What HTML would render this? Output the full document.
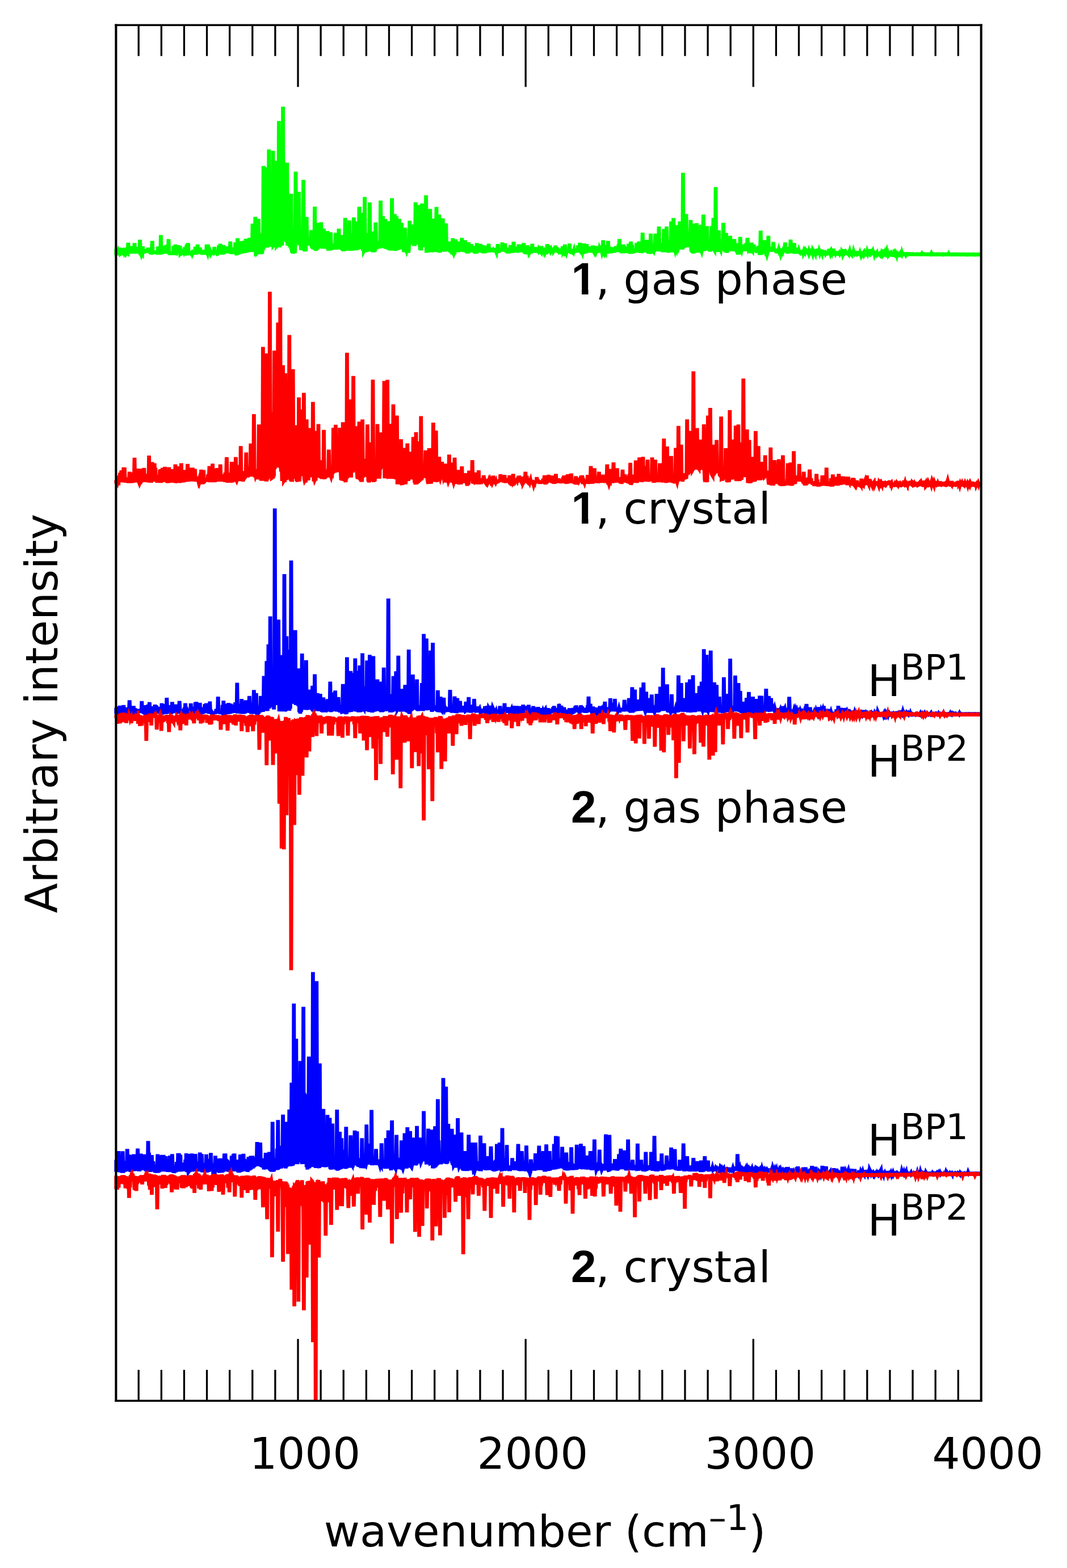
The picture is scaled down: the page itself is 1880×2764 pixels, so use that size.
<!DOCTYPE html>
<html lang="en">
<head>
<meta charset="utf-8">
<title>Vibrational spectra</title>
<style>
html,body{margin:0;padding:0;background:#fff;}
body{width:1880px;height:2764px;overflow:hidden;}
svg{display:block;}
text{font-family:"DejaVu Sans","Liberation Sans",sans-serif;fill:#000;}
.b{font-family:"Liberation Sans","DejaVu Sans",sans-serif;font-weight:bold;font-size:80px;}
</style>
</head>
<body>
<svg width="1880" height="2764" viewBox="0 0 1880 2764" role="img" aria-label="Vibrational spectra of 1 and 2 in gas phase and crystal">
<rect width="1880" height="2764" fill="#fff"/>
<g id="spectra">
<defs><clipPath id="plot"><rect x="201.4" y="44.2" width="1527.4" height="2425"/></clipPath></defs>
<g clip-path="url(#plot)" fill="none" stroke-width="6.8" stroke-linejoin="miter" stroke-miterlimit="4" stroke-linecap="butt">
<path id="s1" d="M202.6 442.8L203.4 445.0L204.2 442.0L205.0 444.7L205.8 444.3L206.6 445.8L207.4 446.5L208.2 446.0L209.0 442.6L209.8 444.3L210.6 442.1L211.4 437.3L212.2 439.7L213.0 446.1L213.8 445.3L214.6 444.8L215.4 437.6L216.2 446.5L217.0 446.9L217.8 438.7L218.6 446.5L219.4 436.8L220.2 445.1L221.0 443.9L221.8 446.4L222.6 444.8L223.4 443.1L224.2 446.6L225.0 447.1L225.8 427.9L226.6 445.4L227.4 439.6L228.2 446.7L229.0 439.7L229.8 447.1L230.6 436.3L231.4 446.6L232.2 434.3L233.0 446.4L233.8 434.0L234.6 446.3L235.4 440.4L236.2 446.9L237.0 428.4L237.8 447.1L238.6 437.1L239.4 446.3L240.2 435.6L241.0 445.9L241.8 442.1L242.6 446.0L243.4 440.6L244.2 446.4L245.0 443.0L245.8 446.4L246.6 422.5L247.4 446.5L248.2 446.5L249.0 448.8L249.8 446.5L250.6 447.6L251.4 434.2L252.2 446.9L253.0 438.9L253.8 446.3L254.6 438.9L255.4 445.5L256.2 441.8L257.0 445.0L257.8 439.3L258.6 445.3L259.4 441.4L260.2 444.7L261.0 436.7L261.8 445.1L262.6 441.0L263.4 446.0L264.2 442.8L265.0 447.0L265.8 440.9L266.6 448.4L267.4 444.9L268.2 424.6L269.0 444.4L269.8 447.5L270.6 443.4L271.4 446.3L272.2 442.1L273.0 446.5L273.8 443.1L274.6 446.7L275.4 442.7L276.2 447.4L277.0 444.6L277.8 448.2L278.6 434.6L279.4 448.9L280.2 434.5L281.0 448.4L281.8 445.3L282.6 447.9L283.4 414.4L284.2 447.8L285.0 444.8L285.8 447.3L286.6 433.7L287.4 447.2L288.2 434.0L289.0 446.4L289.8 439.5L290.6 446.7L291.4 438.2L292.2 446.5L293.0 431.8L293.8 446.9L294.6 437.0L295.4 447.1L296.2 439.7L297.0 421.5L297.8 443.9L298.6 448.6L299.4 445.2L300.2 449.4L301.0 445.0L301.8 449.4L302.6 445.5L303.4 449.0L304.2 445.5L305.0 448.8L305.8 433.4L306.6 448.5L307.4 438.3L308.2 448.3L309.0 430.9L309.8 446.8L310.6 446.9L311.4 440.5L312.2 432.5L313.0 447.3L313.8 432.6L314.6 443.6L315.4 446.4L316.2 442.4L317.0 433.2L317.8 447.3L318.6 446.5L319.4 447.2L320.2 446.5L321.0 445.5L321.8 446.0L322.6 446.0L323.4 443.5L324.2 445.3L325.0 443.6L325.8 441.5L326.6 446.8L327.4 447.3L328.2 446.5L329.0 446.6L329.8 446.7L330.6 442.0L331.4 428.4L332.2 448.1L333.0 444.9L333.8 448.9L334.6 444.6L335.4 447.7L336.2 443.3L337.0 445.9L337.8 445.1L338.6 447.3L339.4 445.1L340.2 445.4L341.0 442.6L341.8 446.6L342.6 443.5L343.4 448.1L344.2 434.9L345.0 448.9L345.8 434.8L346.6 448.2L347.4 442.8L348.2 430.9L349.0 443.0L349.8 446.3L350.6 442.7L351.4 446.2L352.2 436.2L353.0 446.8L353.8 443.7L354.6 447.8L355.4 444.7L356.2 448.6L357.0 445.0L357.8 448.7L358.6 440.5L359.4 448.6L360.2 444.3L361.0 448.7L361.8 441.2L362.6 448.5L363.4 444.6L364.2 430.9L365.0 444.9L365.8 447.0L366.6 443.3L367.4 447.0L368.2 440.8L369.0 447.1L369.8 441.8L370.6 443.8L371.4 447.1L372.2 445.7L373.0 444.4L373.8 444.2L374.6 445.5L375.4 446.5L376.2 446.8L377.0 445.7L377.8 435.2L378.6 447.4L379.4 441.6L380.2 445.2L381.0 440.9L381.8 444.8L382.6 447.2L383.4 446.8L384.2 444.8L385.0 441.2L385.8 432.4L386.6 443.6L387.4 442.7L388.2 429.6L389.0 441.8L389.8 447.9L390.6 437.3L391.4 449.1L392.2 437.9L393.0 448.4L393.8 432.1L394.6 447.5L395.4 441.1L396.2 446.8L397.0 434.7L397.8 445.6L398.6 436.5L399.4 444.9L400.2 434.4L401.0 444.8L401.8 435.4L402.6 446.1L403.4 434.8L404.2 446.7L405.0 440.8L405.8 425.8L406.6 441.0L407.4 447.4L408.2 444.0L409.0 447.0L409.8 437.0L410.6 445.8L411.4 436.6L412.2 445.2L413.0 441.5L413.8 446.4L414.6 427.4L415.4 448.1L416.2 445.7L417.0 449.9L417.8 440.8L418.6 420.0L419.4 440.2L420.2 448.3L421.0 441.1L421.8 447.4L422.6 427.0L423.4 446.9L424.2 429.3L425.0 446.9L425.8 425.0L426.6 446.8L427.4 440.8L428.2 445.3L429.0 424.6L429.8 445.2L430.6 428.6L431.4 445.9L432.2 438.6L433.0 420.8L433.8 440.8L434.6 444.9L435.4 440.7L436.2 443.4L437.0 438.0L437.8 443.3L438.6 436.8L439.4 419.5L440.2 436.8L441.0 443.8L441.8 425.3L442.6 442.5L443.4 433.8L444.2 443.9L445.0 394.2L445.8 442.3L446.6 419.4L447.4 443.7L448.2 430.3L449.0 443.4L449.8 382.3L450.6 442.6L451.4 441.4L452.2 445.8L453.0 444.7L453.8 448.0L454.6 435.3L455.4 385.9L456.2 432.1L457.0 447.9L457.8 411.4L458.6 448.2L459.4 426.9L460.2 447.0L461.0 444.4L461.8 447.1L462.6 415.2L463.4 435.7L464.2 292.5L465.0 430.4L465.8 433.2L466.6 431.2L467.4 388.4L468.2 434.5L469.0 294.8L469.8 432.5L470.6 428.6L471.4 436.3L472.2 386.2L473.0 434.1L473.8 263.4L474.6 430.9L475.4 424.6L476.2 434.5L477.0 368.7L477.8 435.3L478.6 367.6L479.4 429.1L480.2 425.5L481.0 265.7L481.8 432.8L482.6 431.9L483.4 416.8L484.2 429.6L485.0 424.7L485.8 283.6L486.6 403.3L487.4 433.4L488.2 432.4L489.0 430.7L489.8 406.5L490.6 434.1L491.4 213.3L492.2 436.1L493.0 413.3L493.8 434.4L494.6 415.5L495.4 428.6L496.2 430.4L497.0 432.5L497.8 359.6L498.6 188.0L499.4 386.4L500.2 420.3L501.0 416.3L501.8 420.4L502.6 372.1L503.4 421.1L504.2 424.3L505.0 424.9L505.8 286.7L506.6 433.1L507.4 428.1L508.2 429.4L509.0 423.1L509.8 425.5L510.6 424.3L511.4 427.3L512.2 400.7L513.0 341.6L513.8 440.1L514.6 444.9L515.4 418.7L516.2 447.2L517.0 437.9L517.8 445.0L518.6 433.8L519.4 446.2L520.2 432.1L521.0 302.4L521.8 422.5L522.6 426.5L523.4 388.2L524.2 425.7L525.0 422.5L525.8 429.2L526.6 338.0L527.4 432.3L528.2 426.5L529.0 429.6L529.8 430.6L530.6 440.8L531.4 432.4L532.2 438.0L533.0 430.6L533.8 439.6L534.6 317.0L535.4 441.5L536.2 438.2L537.0 442.9L537.8 430.0L538.6 443.2L539.4 425.1L540.2 382.3L541.0 425.2L541.8 432.6L542.6 424.9L543.4 431.8L544.2 425.2L545.0 430.3L545.8 427.2L546.6 430.4L547.4 431.1L548.2 405.6L549.0 429.3L549.8 437.5L550.6 431.4L551.4 438.9L552.2 434.4L553.0 439.6L553.8 436.5L554.6 364.4L555.4 434.6L556.2 441.9L557.0 436.4L557.8 440.3L558.6 437.4L559.4 439.6L560.2 392.9L561.0 436.8L561.8 417.0L562.6 436.2L563.4 431.8L564.2 437.5L565.0 427.5L565.8 391.7L566.6 430.5L567.4 436.9L568.2 434.0L569.0 437.8L569.8 434.3L570.6 403.1L571.4 429.5L572.2 438.0L573.0 434.5L573.8 437.4L574.6 428.1L575.4 438.0L576.2 432.7L577.0 407.4L577.8 438.1L578.6 441.2L579.4 437.5L580.2 441.0L581.0 436.8L581.8 441.1L582.6 409.4L583.4 440.7L584.2 433.0L585.0 439.6L585.8 436.1L586.6 439.2L587.4 429.3L588.2 439.1L589.0 435.8L589.8 439.4L590.6 436.3L591.4 410.7L592.2 432.6L593.0 439.8L593.8 434.2L594.6 437.3L595.4 434.1L596.2 437.8L597.0 403.1L597.8 437.9L598.6 434.7L599.4 438.4L600.2 429.2L601.0 439.4L601.8 432.4L602.6 440.6L603.4 414.4L604.2 442.4L605.0 438.0L605.8 442.8L606.6 432.7L607.4 442.2L608.2 384.1L609.0 441.5L609.8 430.4L610.6 439.6L611.4 434.6L612.2 441.1L613.0 431.4L613.8 441.5L614.6 439.1L615.4 388.6L616.2 438.4L617.0 440.0L617.8 417.1L618.6 441.5L619.4 414.7L620.2 441.7L621.0 430.5L621.8 440.3L622.6 426.2L623.4 383.3L624.2 433.0L625.0 440.1L625.8 437.7L626.6 441.0L627.4 429.1L628.2 390.4L629.0 431.4L629.8 440.6L630.6 427.1L631.4 438.4L632.2 428.4L633.0 364.6L633.8 428.7L634.6 439.0L635.4 419.1L636.2 439.0L637.0 429.9L637.8 375.2L638.6 424.7L639.4 442.0L640.2 430.1L641.0 442.3L641.8 440.7L642.6 347.4L643.4 429.7L644.2 444.5L645.0 432.6L645.8 439.9L646.6 437.9L647.4 443.6L648.2 419.4L649.0 442.1L649.8 411.2L650.6 441.7L651.4 356.8L652.2 441.3L653.0 422.3L653.8 440.7L654.6 437.3L655.4 443.2L656.2 408.1L657.0 444.6L657.8 435.0L658.6 444.3L659.4 440.8L660.2 443.3L661.0 439.1L661.8 392.2L662.6 426.5L663.4 439.4L664.2 430.0L665.0 437.9L665.8 426.2L666.6 437.0L667.4 425.2L668.2 437.7L669.0 433.1L669.8 435.7L670.6 353.5L671.4 436.5L672.2 429.0L673.0 436.5L673.8 432.1L674.6 380.8L675.4 421.4L676.2 437.4L677.0 423.4L677.8 437.0L678.6 386.1L679.4 438.7L680.2 419.0L681.0 438.4L681.8 434.7L682.6 438.2L683.4 389.9L684.2 440.4L685.0 434.4L685.8 440.1L686.6 435.7L687.4 441.3L688.2 429.2L689.0 441.1L689.8 429.7L690.6 349.4L691.4 425.2L692.2 441.5L693.0 434.9L693.8 441.7L694.6 426.9L695.4 377.3L696.2 435.6L697.0 441.8L697.8 438.6L698.6 381.1L699.4 433.6L700.2 440.7L701.0 433.6L701.8 439.9L702.6 426.3L703.4 385.9L704.2 431.0L705.0 439.3L705.8 434.1L706.6 434.1L707.4 392.9L708.2 430.3L709.0 420.9L709.8 427.2L710.6 430.6L711.4 444.0L712.2 440.3L713.0 443.9L713.8 401.3L714.6 444.1L715.4 440.5L716.2 442.6L717.0 439.5L717.8 443.9L718.6 438.8L719.4 445.0L720.2 442.0L721.0 424.8L721.8 389.1L722.6 422.1L723.4 414.4L724.2 422.9L725.0 419.6L725.8 423.7L726.6 395.5L727.4 430.3L728.2 428.5L729.0 432.7L729.8 427.2L730.6 433.4L731.4 423.0L732.2 356.5L733.0 414.5L733.8 430.8L734.6 407.4L735.4 430.2L736.2 409.9L737.0 361.3L737.8 409.8L738.6 430.1L739.4 427.4L740.2 440.4L741.0 434.5L741.8 441.3L742.6 429.5L743.4 358.8L744.2 425.2L745.0 431.8L745.8 394.7L746.6 434.6L747.4 422.8L748.2 435.4L749.0 429.4L749.8 435.4L750.6 344.4L751.4 445.5L752.2 426.3L753.0 445.2L753.8 422.0L754.6 444.6L755.4 435.5L756.2 443.2L757.0 421.6L757.8 368.4L758.6 435.6L759.4 444.1L760.2 426.6L761.0 444.4L761.8 439.1L762.6 443.9L763.4 440.1L764.2 385.4L765.0 438.5L765.8 443.0L766.6 435.0L767.4 443.4L768.2 426.4L769.0 364.9L769.8 431.1L770.6 444.2L771.4 434.9L772.2 444.4L773.0 437.7L773.8 378.3L774.6 441.6L775.4 445.0L776.2 432.1L777.0 442.9L777.8 431.1L778.6 443.1L779.4 432.3L780.2 384.8L781.0 432.6L781.8 441.7L782.6 430.7L783.4 443.6L784.2 430.7L785.0 441.9L785.8 393.7L786.6 442.7L787.4 438.7L788.2 442.2L789.0 438.2L789.8 442.4L790.6 439.0L791.4 425.8L792.2 438.6L793.0 444.3L793.8 441.0L794.6 445.4L795.4 440.9L796.2 445.4L797.0 445.4L797.8 419.8L798.6 445.4L799.4 447.3L800.2 445.1L801.0 445.1L801.8 437.8L802.6 422.0L803.4 436.5L804.2 442.7L805.0 434.3L805.8 443.2L806.6 437.0L807.4 444.3L808.2 438.9L809.0 425.8L809.8 440.3L810.6 443.6L811.4 433.3L812.2 441.9L813.0 437.7L813.8 419.5L814.6 438.0L815.4 442.7L816.2 435.5L817.0 444.0L817.8 433.7L818.6 443.8L819.4 423.3L820.2 444.3L821.0 432.7L821.8 445.4L822.6 434.7L823.4 446.7L824.2 441.7L825.0 446.5L825.8 427.1L826.6 445.4L827.4 431.1L828.2 444.8L829.0 434.7L829.8 444.5L830.6 430.5L831.4 444.0L832.2 434.0L833.0 443.7L833.8 436.0L834.6 443.9L835.4 441.4L836.2 446.0L837.0 442.4L837.8 447.1L838.6 433.5L839.4 447.0L840.2 428.4L841.0 445.7L841.8 431.3L842.6 444.3L843.4 430.1L844.2 443.8L845.0 440.0L845.8 443.7L846.6 429.9L847.4 443.4L848.2 440.6L849.0 444.8L849.8 434.1L850.6 445.9L851.4 432.5L852.2 446.5L853.0 437.7L853.8 445.9L854.6 436.6L855.4 444.9L856.2 441.3L857.0 444.4L857.8 433.3L858.6 444.7L859.4 436.3L860.2 445.0L861.0 429.6L861.8 444.0L862.6 439.2L863.4 439.4L864.2 444.5L865.0 440.1L865.8 440.1L866.6 444.5L867.4 439.5L868.2 444.3L869.0 439.5L869.8 443.8L870.6 440.5L871.4 441.2L872.2 440.3L873.0 440.1L873.8 442.8L874.6 444.7L875.4 439.2L876.2 445.6L877.0 430.3L877.8 445.7L878.6 440.0L879.4 444.7L880.2 440.1L881.0 443.1L881.8 436.7L882.6 442.8L883.4 436.5L884.2 442.7L885.0 427.4L885.8 443.0L886.6 439.5L887.4 442.9L888.2 439.0L889.0 443.0L889.8 428.9L890.6 443.4L891.4 437.0L892.2 445.0L893.0 439.3L893.8 446.0L894.6 439.2L895.4 446.6L896.2 442.8L897.0 446.2L897.8 436.8L898.6 445.4L899.4 431.9L900.2 445.1L901.0 435.4L901.8 445.2L902.6 441.9L903.4 445.6L904.2 440.0L905.0 426.3L905.8 439.5L906.6 444.4L907.4 435.2L908.2 443.8L909.0 440.6L909.8 444.4L910.6 438.3L911.4 445.1L912.2 440.0L913.0 444.4L913.8 430.7L914.6 443.9L915.4 437.7L916.2 443.2L917.0 440.2L917.8 444.4L918.6 431.0L919.4 444.6L920.2 441.3L921.0 444.2L921.8 440.4L922.6 428.4L923.4 443.4L924.2 444.6L925.0 444.8L925.8 438.7L926.6 445.0L927.4 438.1L928.2 441.0L929.0 432.5L929.8 443.7L930.6 445.0L931.4 437.4L932.2 443.9L933.0 442.2L933.8 444.3L934.6 443.1L935.4 446.3L936.2 442.6L937.0 446.1L937.8 429.8L938.6 444.8L939.4 436.0L940.2 443.4L941.0 439.7L941.8 444.2L942.6 435.6L943.4 445.0L944.2 442.0L945.0 445.3L945.8 441.6L946.6 440.3L947.4 440.4L948.2 441.8L949.0 439.3L949.8 440.8L950.6 441.4L951.4 438.7L952.2 443.9L953.0 444.8L953.8 433.7L954.6 442.2L955.4 441.9L956.2 438.4L957.0 442.4L957.8 441.6L958.6 444.2L959.4 442.5L960.2 439.3L961.0 444.2L961.8 442.5L962.6 442.9L963.4 444.9L964.2 430.4L965.0 439.3L965.8 442.7L966.6 441.9L967.4 432.9L968.2 445.1L969.0 442.0L969.8 443.5L970.6 441.6L971.4 445.0L972.2 441.3L973.0 436.7L973.8 442.6L974.6 437.5L975.4 442.5L976.2 441.2L977.0 444.3L977.8 441.1L978.6 433.0L979.4 439.0L980.2 443.9L981.0 437.9L981.8 438.4L982.6 445.0L983.4 439.1L984.2 443.7L985.0 444.7L985.8 444.3L986.6 441.2L987.4 441.0L988.2 442.9L989.0 444.3L989.8 443.8L990.6 444.1L991.4 433.9L992.2 444.2L993.0 442.9L993.8 443.7L994.6 444.7L995.4 430.9L996.2 444.9L997.0 444.0L997.8 446.3L998.6 444.0L999.4 443.5L1000.2 439.8L1001.0 443.6L1001.8 438.9L1002.6 444.2L1003.4 429.4L1004.2 444.2L1005.0 439.5L1005.8 444.5L1006.6 444.7L1007.4 444.4L1008.2 445.0L1009.0 443.2L1009.8 442.4L1010.6 444.0L1011.4 441.4L1012.2 445.0L1013.0 441.2L1013.8 444.1L1014.6 440.5L1015.4 444.1L1016.2 438.7L1017.0 444.7L1017.8 441.7L1018.6 432.9L1019.4 434.8L1020.2 440.0L1021.0 441.0L1021.8 427.9L1022.6 440.6L1023.4 443.2L1024.2 443.0L1025.0 442.9L1025.8 444.9L1026.6 439.1L1027.4 444.5L1028.2 444.4L1029.0 429.1L1029.8 444.9L1030.6 438.5L1031.4 446.0L1032.2 442.7L1033.0 446.3L1033.8 430.2L1034.6 445.0L1035.4 440.7L1036.2 444.3L1037.0 434.4L1037.8 444.5L1038.6 436.4L1039.4 445.2L1040.2 436.6L1041.0 445.1L1041.8 440.5L1042.6 444.7L1043.4 441.4L1044.2 433.2L1045.0 435.7L1045.8 442.7L1046.6 444.1L1047.4 437.6L1048.2 442.9L1049.0 444.2L1049.8 439.4L1050.6 440.1L1051.4 442.7L1052.2 433.7L1053.0 440.6L1053.8 439.5L1054.6 440.2L1055.4 441.2L1056.2 445.2L1057.0 437.9L1057.8 439.5L1058.6 439.3L1059.4 445.1L1060.2 441.3L1061.0 445.1L1061.8 442.8L1062.6 423.3L1063.4 444.3L1064.2 443.1L1065.0 445.5L1065.8 443.1L1066.6 444.5L1067.4 434.5L1068.2 446.2L1069.0 432.3L1069.8 447.1L1070.6 440.3L1071.4 424.6L1072.2 439.7L1073.0 445.4L1073.8 434.9L1074.6 445.5L1075.4 435.8L1076.2 446.2L1077.0 442.3L1077.8 445.5L1078.6 440.9L1079.4 445.1L1080.2 435.7L1081.0 445.0L1081.8 441.7L1082.6 444.7L1083.4 440.9L1084.2 444.3L1085.0 433.9L1085.8 443.9L1086.6 438.7L1087.4 443.7L1088.2 436.3L1089.0 443.0L1089.8 430.6L1090.6 442.6L1091.4 421.3L1092.2 444.1L1093.0 437.9L1093.8 444.7L1094.6 442.0L1095.4 445.9L1096.2 442.4L1097.0 445.9L1097.8 430.8L1098.6 446.6L1099.4 433.1L1100.2 446.2L1101.0 439.8L1101.8 446.0L1102.6 435.7L1103.4 445.7L1104.2 440.2L1105.0 445.2L1105.8 436.8L1106.6 444.8L1107.4 429.6L1108.2 445.6L1109.0 442.5L1109.8 446.9L1110.6 441.4L1111.4 425.8L1112.2 441.0L1113.0 447.2L1113.8 431.5L1114.6 446.5L1115.4 438.9L1116.2 445.7L1117.0 441.1L1117.8 445.5L1118.6 441.2L1119.4 444.6L1120.2 440.1L1121.0 443.8L1121.8 428.3L1122.6 443.7L1123.4 437.7L1124.2 444.6L1125.0 439.3L1125.8 425.8L1126.6 441.1L1127.4 445.2L1128.2 434.6L1129.0 445.7L1129.8 439.4L1130.6 445.9L1131.4 442.2L1132.2 410.1L1133.0 441.4L1133.8 444.6L1134.6 436.5L1135.4 443.3L1136.2 440.0L1137.0 442.8L1137.8 435.3L1138.6 444.1L1139.4 422.8L1140.2 445.0L1141.0 438.8L1141.8 446.1L1142.6 442.9L1143.4 446.9L1144.2 438.9L1145.0 447.3L1145.8 443.5L1146.6 411.9L1147.4 440.4L1148.2 445.6L1149.0 441.0L1149.8 446.0L1150.6 442.3L1151.4 443.3L1152.2 439.0L1153.0 443.2L1153.8 439.5L1154.6 411.9L1155.4 436.7L1156.2 442.6L1157.0 436.4L1157.8 441.9L1158.6 433.6L1159.4 442.2L1160.2 439.9L1161.0 399.3L1161.8 439.2L1162.6 442.7L1163.4 430.3L1164.2 441.2L1165.0 438.9L1165.8 441.9L1166.6 434.0L1167.4 444.2L1168.2 433.3L1169.0 444.6L1169.8 403.6L1170.6 444.0L1171.4 435.1L1172.2 443.5L1173.0 432.0L1173.8 442.8L1174.6 399.3L1175.4 443.3L1176.2 433.6L1177.0 444.9L1177.8 441.9L1178.6 445.0L1179.4 424.2L1180.2 444.6L1181.0 439.4L1181.8 442.1L1182.6 390.4L1183.4 444.1L1184.2 442.0L1185.0 440.7L1185.8 435.8L1186.6 384.3L1187.4 428.0L1188.2 440.6L1189.0 438.3L1189.8 441.5L1190.6 438.6L1191.4 440.3L1192.2 434.2L1193.0 396.7L1193.8 435.4L1194.6 437.2L1195.4 433.8L1196.2 437.1L1197.0 434.0L1197.8 390.4L1198.6 435.0L1199.4 438.8L1200.2 432.2L1201.0 439.4L1201.8 428.9L1202.6 439.9L1203.4 304.4L1204.2 437.0L1205.0 433.8L1205.8 436.6L1206.6 419.4L1207.4 435.2L1208.2 429.1L1209.0 377.3L1209.8 421.3L1210.6 435.4L1211.4 430.8L1212.2 435.2L1213.0 428.0L1213.8 433.6L1214.6 412.4L1215.4 433.6L1216.2 422.1L1217.0 387.9L1217.8 440.1L1218.6 443.9L1219.4 418.0L1220.2 445.9L1221.0 440.5L1221.8 446.8L1222.6 432.6L1223.4 394.2L1224.2 440.0L1225.0 444.7L1225.8 440.4L1226.6 445.4L1227.4 393.4L1228.2 444.6L1229.0 440.0L1229.8 444.4L1230.6 435.1L1231.4 444.7L1232.2 434.0L1233.0 445.2L1233.8 436.1L1234.6 396.2L1235.4 440.5L1236.2 442.7L1237.0 438.6L1237.8 441.7L1238.6 422.8L1239.4 378.3L1240.2 429.1L1241.0 442.4L1241.8 437.4L1242.6 440.8L1243.4 433.9L1244.2 439.5L1245.0 428.2L1245.8 398.5L1246.6 435.9L1247.4 440.5L1248.2 435.7L1249.0 441.5L1249.8 433.2L1250.6 443.5L1251.4 431.0L1252.2 442.2L1253.0 429.7L1253.8 398.5L1254.6 430.3L1255.4 442.1L1256.2 425.5L1257.0 384.1L1257.8 439.0L1258.6 440.4L1259.4 420.0L1260.2 440.7L1261.0 329.7L1261.8 443.2L1262.6 434.5L1263.4 443.8L1264.2 440.4L1265.0 443.5L1265.8 433.3L1266.6 406.1L1267.4 440.0L1268.2 443.2L1269.0 438.6L1269.8 440.4L1270.6 434.7L1271.4 440.0L1272.2 436.6L1273.0 439.1L1273.8 432.7L1274.6 392.7L1275.4 431.1L1276.2 440.0L1277.0 440.8L1277.8 443.9L1278.6 438.2L1279.4 410.7L1280.2 441.7L1281.0 445.3L1281.8 439.9L1282.6 442.9L1283.4 433.4L1284.2 441.7L1285.0 438.7L1285.8 441.2L1286.6 415.7L1287.4 441.9L1288.2 438.9L1289.0 442.5L1289.8 433.5L1290.6 442.5L1291.4 439.0L1292.2 442.2L1293.0 436.0L1293.8 421.5L1294.6 436.1L1295.4 442.6L1296.2 433.4L1297.0 443.2L1297.8 429.0L1298.6 443.7L1299.4 445.0L1300.2 448.3L1301.0 441.4L1301.8 448.3L1302.6 444.4L1303.4 447.2L1304.2 417.5L1305.0 446.1L1305.8 437.9L1306.6 440.3L1307.4 436.5L1308.2 440.1L1309.0 431.1L1309.8 440.4L1310.6 435.7L1311.4 441.6L1312.2 433.5L1313.0 442.9L1313.8 429.8L1314.6 442.7L1315.4 428.1L1316.2 440.6L1317.0 419.3L1317.8 439.8L1318.6 431.6L1319.4 440.4L1320.2 439.5L1321.0 445.2L1321.8 442.3L1322.6 445.8L1323.4 440.5L1324.2 427.6L1325.0 440.2L1325.8 441.5L1326.6 432.8L1327.4 441.2L1328.2 430.9L1329.0 441.2L1329.8 438.0L1330.6 442.8L1331.4 436.1L1332.2 444.1L1333.0 441.5L1333.8 445.5L1334.6 441.4L1335.4 445.1L1336.2 433.6L1337.0 444.9L1337.8 441.5L1338.6 449.4L1339.4 441.7L1340.2 406.6L1341.0 445.6L1341.8 448.6L1342.6 443.7L1343.4 446.5L1344.2 441.4L1345.0 445.6L1345.8 437.7L1346.6 445.4L1347.4 423.3L1348.2 445.6L1349.0 440.9L1349.8 446.4L1350.6 445.8L1351.4 448.6L1352.2 445.8L1353.0 441.8L1353.8 415.7L1354.6 442.8L1355.4 436.9L1356.2 443.3L1357.0 439.2L1357.8 443.0L1358.6 439.0L1359.4 443.0L1360.2 435.3L1361.0 443.5L1361.8 438.4L1362.6 426.8L1363.4 438.0L1364.2 442.9L1365.0 438.4L1365.8 442.8L1366.6 439.4L1367.4 445.0L1368.2 442.1L1369.0 446.0L1369.8 442.6L1370.6 446.4L1371.4 442.0L1372.2 439.3L1373.0 442.0L1373.8 445.8L1374.6 445.4L1375.4 448.2L1376.2 445.4L1377.0 445.0L1377.8 440.8L1378.6 440.8L1379.4 443.4L1380.2 441.2L1381.0 440.9L1381.8 435.3L1382.6 439.3L1383.4 427.4L1384.2 438.7L1385.0 444.2L1385.8 439.2L1386.6 445.9L1387.4 442.7L1388.2 446.9L1389.0 439.0L1389.8 446.0L1390.6 435.3L1391.4 445.2L1392.2 438.1L1393.0 422.5L1393.8 440.0L1394.6 445.8L1395.4 436.1L1396.2 446.0L1397.0 441.7L1397.8 446.4L1398.6 443.0L1399.4 428.4L1400.2 443.3L1401.0 447.0L1401.8 437.0L1402.6 447.3L1403.4 438.8L1404.2 446.9L1405.0 436.8L1405.8 446.6L1406.6 444.3L1407.4 441.6L1408.2 444.3L1409.0 445.0L1409.8 441.1L1410.6 447.5L1411.4 444.0L1412.2 447.6L1413.0 444.4L1413.8 448.3L1414.6 440.6L1415.4 444.9L1416.2 442.6L1417.0 444.9L1417.8 445.9L1418.6 442.6L1419.4 446.3L1420.2 441.3L1421.0 442.3L1421.8 445.3L1422.6 441.6L1423.4 444.5L1424.2 446.1L1425.0 443.5L1425.8 446.8L1426.6 444.8L1427.4 443.7L1428.2 445.5L1429.0 446.1L1429.8 446.4L1430.6 444.5L1431.4 446.6L1432.2 441.2L1433.0 442.6L1433.8 446.1L1434.6 444.5L1435.4 445.1L1436.2 446.8L1437.0 439.0L1437.8 446.0L1438.6 446.6L1439.4 447.0L1440.2 446.4L1441.0 441.9L1441.8 438.6L1442.6 446.6L1443.4 443.0L1444.2 445.6L1445.0 442.7L1445.8 443.0L1446.6 442.8L1447.4 444.8L1448.2 446.7L1449.0 440.6L1449.8 446.6L1450.6 446.0L1451.4 446.6L1452.2 446.8L1453.0 445.8L1453.8 445.1L1454.6 447.3L1455.4 446.0L1456.2 446.1L1457.0 447.4L1457.8 447.2L1458.6 446.2L1459.4 445.7L1460.2 443.6L1461.0 438.8L1461.8 447.0L1462.6 445.1L1463.4 447.7L1464.2 445.7L1465.0 443.2L1465.8 445.3L1466.6 442.2L1467.4 446.8L1468.2 438.9L1469.0 441.7L1469.8 447.8L1470.6 447.8L1471.4 447.7L1472.2 443.1L1473.0 446.8L1473.8 445.6L1474.6 445.8L1475.4 447.1L1476.2 447.7L1477.0 447.7L1477.8 447.1L1478.6 445.9L1479.4 447.4L1480.2 445.5L1481.0 442.4L1481.8 447.4L1482.6 447.7L1483.4 443.1L1484.2 444.3L1485.0 448.2L1485.8 446.2L1486.6 446.7L1487.4 443.2L1488.2 439.7L1489.0 443.0L1489.8 447.7L1490.6 445.0L1491.4 446.1L1492.2 445.8L1493.0 446.3L1493.8 447.3L1494.6 447.4L1495.4 448.4L1496.2 445.1L1497.0 442.7L1497.8 445.9L1498.6 441.2L1499.4 447.6L1500.2 448.5L1501.0 441.8L1501.8 448.2L1502.6 444.9L1503.4 448.1L1504.2 443.8L1505.0 446.2L1505.8 447.8L1506.6 446.9L1507.4 446.5L1508.2 447.2L1509.0 442.7L1509.8 446.3L1510.6 446.4L1511.4 443.2L1512.2 448.0L1513.0 447.8L1513.8 444.2L1514.6 448.6L1515.4 445.8L1516.2 448.0L1517.0 443.9L1517.8 447.1L1518.6 448.8L1519.4 446.9L1520.2 446.5L1521.0 445.9L1521.8 444.8L1522.6 448.0L1523.4 446.3L1524.2 448.9L1525.0 444.4L1525.8 449.1L1526.6 449.1L1527.4 448.2L1528.2 444.2L1529.0 446.5L1529.8 444.1L1530.6 439.5L1531.4 445.4L1532.2 445.8L1533.0 446.4L1533.8 448.6L1534.6 448.0L1535.4 439.1L1536.2 443.7L1537.0 442.5L1537.8 448.8L1538.6 445.9L1539.4 444.2L1540.2 445.1L1541.0 448.8L1541.8 446.7L1542.6 446.6L1543.4 448.0L1544.2 447.4L1545.0 446.0L1545.8 449.2L1546.6 448.4L1547.4 447.3L1548.2 447.2L1549.0 448.0L1549.8 448.5L1550.6 449.5L1551.4 447.3L1552.2 448.0L1553.0 449.3L1553.8 445.9L1554.6 447.2L1555.4 447.4L1556.2 439.7L1557.0 445.5L1557.8 449.4L1558.6 448.8L1559.4 446.2L1560.2 448.7L1561.0 443.6L1561.8 441.8L1562.6 446.7L1563.4 445.5L1564.2 449.7L1565.0 443.3L1565.8 449.8L1566.6 448.9L1567.4 443.8L1568.2 446.0L1569.0 445.4L1569.8 449.1L1570.6 449.3L1571.4 448.6L1572.2 449.7L1573.0 449.6L1573.8 445.2L1574.6 449.6L1575.4 450.0L1576.2 439.8L1577.0 449.2L1577.8 445.9L1578.6 447.4L1579.4 446.9L1580.2 449.5L1581.0 446.0L1581.8 446.3L1582.6 449.5L1583.4 449.5L1584.2 449.8L1585.0 447.6L1585.8 446.6L1586.6 448.2L1587.4 447.7L1588.2 448.8L1589.0 445.5L1589.8 448.0L1590.6 448.5L1591.4 448.1L1592.2 448.1L1593.0 448.1L1593.8 447.8L1594.6 447.9L1595.4 447.8L1596.2 449.5L1597.0 448.2L1597.8 448.1L1598.6 448.2L1599.4 447.8L1600.2 448.3L1601.0 447.9L1601.8 448.1L1602.6 447.8L1603.4 447.9L1604.2 448.2L1605.0 448.1L1605.8 447.9L1606.6 448.1L1607.4 448.0L1608.2 448.2L1609.0 447.9L1609.8 448.0L1610.6 448.1L1611.4 448.0L1612.2 448.1L1613.0 448.1L1613.8 448.1L1614.6 448.2L1615.4 448.1L1616.2 447.9L1617.0 448.3L1617.8 448.2L1618.6 448.1L1619.4 448.2L1620.2 448.4L1621.0 448.1L1621.8 448.0L1622.6 448.3L1623.4 448.3L1624.2 447.1L1625.0 448.4L1625.8 448.3L1626.6 448.0L1627.4 448.0L1628.2 448.3L1629.0 448.0L1629.8 448.1L1630.6 448.1L1631.4 448.1L1632.2 448.3L1633.0 448.3L1633.8 448.2L1634.6 448.4L1635.4 448.2L1636.2 448.1L1637.0 448.3L1637.8 448.5L1638.6 448.3L1639.4 448.0L1640.2 448.2L1641.0 446.7L1641.8 448.5L1642.6 448.4L1643.4 448.1L1644.2 448.4L1645.0 448.1L1645.8 448.5L1646.6 448.5L1647.4 448.3L1648.2 448.4L1649.0 448.1L1649.8 448.5L1650.6 448.4L1651.4 448.1L1652.2 448.5L1653.0 448.2L1653.8 448.2L1654.6 448.2L1655.4 448.3L1656.2 448.3L1657.0 448.4L1657.8 448.1L1658.6 448.1L1659.4 448.5L1660.2 448.2L1661.0 448.6L1661.8 448.2L1662.6 448.6L1663.4 448.4L1664.2 448.5L1665.0 448.2L1665.8 448.2L1666.6 448.2L1667.4 448.6L1668.2 448.6L1669.0 448.6L1669.8 448.5L1670.6 448.2L1671.4 446.9L1672.2 448.2L1673.0 448.5L1673.8 448.6L1674.6 448.7L1675.4 448.4L1676.2 448.4L1677.0 448.6L1677.8 448.6L1678.6 448.6L1679.4 448.3L1680.2 448.4L1681.0 448.6L1681.8 448.6L1682.6 448.4L1683.4 448.6L1684.2 448.3L1685.0 448.4L1685.8 448.4L1686.6 448.7L1687.4 448.5L1688.2 448.4L1689.0 448.3L1689.8 448.3L1690.6 448.7L1691.4 448.5L1692.2 448.5L1693.0 448.6L1693.8 448.7L1694.6 448.6L1695.4 448.4L1696.2 448.3L1697.0 448.5L1697.8 448.5L1698.6 448.6L1699.4 448.5L1700.2 448.6L1701.0 448.8L1701.8 448.5L1702.6 448.6L1703.4 448.8L1704.2 448.6L1705.0 448.7L1705.8 448.5L1706.6 448.4L1707.4 448.8L1708.2 448.8L1709.0 448.7L1709.8 448.7L1710.6 448.7L1711.4 448.7L1712.2 448.5L1713.0 448.8L1713.8 448.5L1714.6 448.5L1715.4 448.4L1716.2 448.8L1717.0 448.9L1717.8 448.5L1718.6 448.9L1719.4 448.8L1720.2 448.8L1721.0 448.5L1721.8 448.4L1722.6 448.7L1723.4 448.6L1724.2 448.5L1725.0 448.7L1725.8 448.8L1726.6 448.7L1727.4 448.6L1728.2 448.9L1729.0 448.9" stroke="#00ff00"/>
<path id="s2" d="M202.6 851.9L203.4 847.8L204.2 851.4L205.0 846.6L205.8 849.8L206.6 849.2L207.4 851.4L208.2 849.2L209.0 849.8L209.8 838.6L210.6 849.9L211.4 833.4L212.2 848.8L213.0 844.1L213.8 829.2L214.6 844.8L215.4 849.0L216.2 841.7L217.0 850.2L217.8 823.9L218.6 850.5L219.4 824.2L220.2 850.5L221.0 846.4L221.8 850.2L222.6 841.7L223.4 850.0L224.2 846.8L225.0 850.5L225.8 847.3L226.6 850.9L227.4 847.0L228.2 831.7L229.0 844.6L229.8 849.9L230.6 845.9L231.4 850.5L232.2 846.8L233.0 851.2L233.8 844.2L234.6 850.8L235.4 832.7L236.2 849.7L237.0 806.9L237.8 849.7L238.6 827.3L239.4 850.4L240.2 827.2L241.0 849.7L241.8 841.8L242.6 849.5L243.4 842.8L244.2 826.2L245.0 850.1L245.8 852.2L246.6 850.1L247.4 850.1L248.2 826.9L249.0 850.2L249.8 844.5L250.6 849.6L251.4 826.2L252.2 849.5L253.0 842.1L253.8 824.9L254.6 845.8L255.4 849.3L256.2 841.6L257.0 848.7L257.8 835.4L258.6 848.8L259.4 846.0L260.2 849.6L261.0 840.6L261.8 849.8L262.6 803.1L263.4 850.6L264.2 841.8L265.0 850.0L265.8 833.7L266.6 850.7L267.4 839.7L268.2 814.5L269.0 839.5L269.8 848.7L270.6 841.1L271.4 847.2L272.2 816.6L273.0 846.8L273.8 824.5L274.6 848.1L275.4 843.0L276.2 850.2L277.0 837.3L277.8 850.8L278.6 840.3L279.4 850.1L280.2 844.6L281.0 849.9L281.8 827.8L282.6 851.1L283.4 827.2L284.2 851.1L285.0 826.5L285.8 849.3L286.6 824.5L287.4 847.7L288.2 840.4L289.0 847.9L289.8 840.8L290.6 822.9L291.4 841.6L292.2 849.4L293.0 826.6L293.8 850.4L294.6 843.9L295.4 851.4L296.2 840.5L297.0 851.2L297.8 823.6L298.6 850.5L299.4 827.3L300.2 851.0L301.0 827.1L301.8 850.3L302.6 827.0L303.4 850.6L304.2 839.8L305.0 850.1L305.8 832.8L306.6 850.2L307.4 840.1L308.2 850.7L309.0 818.6L309.8 851.3L310.6 846.9L311.4 850.1L312.2 842.5L313.0 849.9L313.8 822.1L314.6 850.0L315.4 836.4L316.2 850.4L317.0 847.9L317.8 850.6L318.6 844.4L319.4 816.6L320.2 846.6L321.0 850.3L321.8 837.5L322.6 850.3L323.4 828.4L324.2 849.5L325.0 842.8L325.8 848.9L326.6 845.1L327.4 848.2L328.2 843.7L329.0 848.7L329.8 844.2L330.6 817.8L331.4 839.9L332.2 848.5L333.0 843.7L333.8 847.9L334.6 837.0L335.4 848.4L336.2 824.7L337.0 848.2L337.8 838.4L338.6 847.8L339.4 824.3L340.2 847.4L341.0 843.3L341.8 848.1L342.6 842.0L343.4 826.7L344.2 842.3L345.0 848.6L345.8 845.1L346.6 848.5L347.4 840.0L348.2 848.7L349.0 845.6L349.8 848.8L350.6 846.0L351.4 849.3L352.2 846.5L353.0 850.2L353.8 844.7L354.6 827.9L355.4 845.6L356.2 853.2L357.0 848.8L357.8 853.1L358.6 828.7L359.4 851.1L360.2 846.2L361.0 849.1L361.8 842.6L362.6 847.9L363.4 843.8L364.2 848.3L365.0 842.5L365.8 849.1L366.6 836.1L367.4 849.4L368.2 841.3L369.0 821.6L369.8 841.7L370.6 849.8L371.4 842.8L372.2 848.9L373.0 841.4L373.8 847.9L374.6 817.3L375.4 848.6L376.2 845.5L377.0 849.5L377.8 826.6L378.6 850.2L379.4 826.5L380.2 849.1L381.0 826.2L381.8 848.5L382.6 825.2L383.4 848.8L384.2 825.4L385.0 848.5L385.8 842.1L386.6 848.4L387.4 839.5L388.2 818.6L389.0 842.5L389.8 848.5L390.6 844.6L391.4 848.5L392.2 841.1L393.0 848.2L393.8 836.0L394.6 848.7L395.4 844.2L396.2 849.1L397.0 832.8L397.8 849.9L398.6 837.1L399.4 805.9L400.2 837.5L401.0 850.7L401.8 842.8L402.6 849.0L403.4 839.9L404.2 849.8L405.0 833.3L405.8 849.6L406.6 837.7L407.4 850.9L408.2 814.0L409.0 850.0L409.8 846.0L410.6 849.1L411.4 843.4L412.2 848.0L413.0 841.9L413.8 848.3L414.6 836.0L415.4 805.7L416.2 845.8L417.0 847.4L417.8 845.2L418.6 847.8L419.4 826.1L420.2 846.0L421.0 835.4L421.8 845.4L422.6 819.6L423.4 846.5L424.2 786.2L425.0 848.3L425.8 836.5L426.6 847.5L427.4 830.3L428.2 848.8L429.0 836.9L429.8 845.9L430.6 839.9L431.4 844.0L432.2 832.6L433.0 841.9L433.8 797.6L434.6 841.3L435.4 832.7L436.2 841.6L437.0 822.5L437.8 839.7L438.6 837.3L439.4 839.4L440.2 830.8L441.0 838.9L441.8 781.9L442.6 838.4L443.4 829.9L444.2 838.2L445.0 831.1L445.8 839.9L446.6 828.2L447.4 730.0L448.2 837.6L449.0 840.7L449.8 833.7L450.6 838.5L451.4 836.6L452.2 837.3L453.0 832.6L453.8 840.6L454.6 826.9L455.4 845.1L456.2 748.2L457.0 844.9L457.8 825.5L458.6 845.1L459.4 791.2L460.2 847.5L461.0 827.2L461.8 847.1L462.6 841.1L463.4 611.6L464.2 843.0L465.0 840.8L465.8 787.3L466.6 842.5L467.4 740.0L468.2 848.3L469.0 623.0L469.8 848.7L470.6 827.7L471.4 845.4L472.2 823.2L473.0 837.0L473.8 825.4L474.6 836.2L475.4 514.2L476.2 837.0L477.0 794.5L477.8 837.5L478.6 842.6L479.4 842.0L480.2 726.2L481.0 842.7L481.8 839.5L482.6 837.6L483.4 617.9L484.2 827.0L485.0 790.8L485.8 819.5L486.6 799.8L487.4 823.7L488.2 796.7L489.0 820.5L489.8 568.6L490.6 824.1L491.4 819.8L492.2 823.3L493.0 797.1L493.8 542.0L494.6 822.5L495.4 831.3L496.2 803.8L497.0 847.9L497.8 835.1L498.6 643.8L499.4 811.2L500.2 847.3L501.0 846.1L501.8 846.2L502.6 657.9L503.4 844.9L504.2 806.7L505.0 846.2L505.8 829.4L506.6 833.1L507.4 768.0L508.2 834.9L509.0 801.1L509.8 590.6L510.6 831.2L511.4 841.5L512.2 844.4L513.0 848.0L513.8 783.4L514.6 849.3L515.4 815.0L516.2 650.8L517.0 829.3L517.8 843.7L518.6 829.8L519.4 843.1L520.2 818.4L521.0 749.5L521.8 829.3L522.6 847.6L523.4 845.7L524.2 849.2L525.0 825.9L525.8 847.2L526.6 700.4L527.4 848.5L528.2 838.2L529.0 834.1L529.8 835.7L530.6 839.0L531.4 721.7L532.2 837.9L533.0 815.3L533.8 833.7L534.6 827.4L535.4 692.6L536.2 843.8L537.0 847.5L537.8 846.2L538.6 850.5L539.4 821.1L540.2 739.4L541.0 838.2L541.8 847.0L542.6 821.8L543.4 846.3L544.2 814.9L545.0 754.6L545.8 823.4L546.6 840.1L547.4 803.3L548.2 837.9L549.0 829.1L549.8 841.2L550.6 832.4L551.4 708.5L552.2 817.6L553.0 848.7L553.8 842.1L554.6 846.0L555.4 844.3L556.2 847.3L557.0 759.6L557.8 839.6L558.6 809.9L559.4 838.6L560.2 825.9L561.0 747.5L561.8 838.9L562.6 841.3L563.4 811.3L564.2 841.6L565.0 833.9L565.8 843.2L566.6 834.1L567.4 844.3L568.2 833.8L569.0 843.3L569.8 841.5L570.6 757.9L571.4 841.7L572.2 844.4L573.0 829.1L573.8 842.3L574.6 834.6L575.4 841.3L576.2 831.7L577.0 841.6L577.8 827.5L578.6 837.5L579.4 792.5L580.2 840.1L581.0 837.0L581.8 841.2L582.6 837.8L583.4 840.1L584.2 836.7L585.0 837.3L585.8 829.4L586.6 834.9L587.4 754.1L588.2 832.1L589.0 804.7L589.8 833.3L590.6 821.0L591.4 748.8L592.2 826.8L593.0 828.8L593.8 805.0L594.6 832.4L595.4 818.4L596.2 831.3L597.0 824.8L597.8 829.0L598.6 754.1L599.4 831.3L600.2 829.1L601.0 846.1L601.8 844.3L602.6 846.2L603.4 818.2L604.2 744.4L605.0 834.1L605.8 847.9L606.6 821.3L607.4 846.0L608.2 846.7L609.0 849.6L609.8 840.2L610.6 844.8L611.4 621.7L612.2 842.4L613.0 820.1L613.8 840.6L614.6 809.9L615.4 838.5L616.2 835.3L617.0 838.7L617.8 704.0L618.6 841.8L619.4 792.0L620.2 831.5L621.0 826.0L621.8 833.0L622.6 662.7L623.4 830.1L624.2 809.7L625.0 824.3L625.8 802.2L626.6 824.6L627.4 809.0L628.2 751.3L629.0 831.7L629.8 843.9L630.6 820.4L631.4 844.8L632.2 832.6L633.0 743.2L633.8 817.4L634.6 846.7L635.4 835.8L636.2 849.1L637.0 833.6L637.8 849.6L638.6 739.4L639.4 842.1L640.2 831.8L641.0 840.6L641.8 829.4L642.6 840.2L643.4 808.8L644.2 838.3L645.0 809.2L645.8 838.3L646.6 828.8L647.4 748.2L648.2 829.9L649.0 849.0L649.8 846.1L650.6 850.1L651.4 843.5L652.2 779.9L653.0 842.6L653.8 846.9L654.6 844.1L655.4 847.6L656.2 834.7L657.0 669.3L657.8 842.3L658.6 849.7L659.4 820.3L660.2 848.4L661.0 837.0L661.8 838.2L662.6 835.5L663.4 839.4L664.2 838.2L665.0 747.5L665.8 839.8L666.6 842.3L667.4 824.8L668.2 843.6L669.0 836.4L669.8 762.2L670.6 818.6L671.4 818.8L672.2 812.2L673.0 819.2L673.8 798.2L674.6 817.1L675.4 815.5L676.2 816.0L677.0 671.6L677.8 843.3L678.6 756.3L679.4 842.6L680.2 824.5L681.0 839.6L681.8 825.9L682.6 669.6L683.4 839.9L684.2 843.7L685.0 809.5L685.8 836.8L686.6 827.3L687.4 747.0L688.2 813.7L689.0 841.9L689.8 826.6L690.6 843.5L691.4 839.7L692.2 839.6L693.0 712.8L693.8 839.0L694.6 811.9L695.4 844.0L696.2 820.0L697.0 844.7L697.8 838.9L698.6 841.4L699.4 732.6L700.2 853.8L701.0 841.0L701.8 853.4L702.6 845.2L703.4 852.7L704.2 829.2L705.0 852.0L705.8 831.7L706.6 774.3L707.4 851.8L708.2 854.8L709.0 833.9L709.8 854.3L710.6 845.5L711.4 852.6L712.2 834.5L713.0 789.5L713.8 834.2L714.6 853.3L715.4 845.2L716.2 847.9L717.0 831.4L717.8 781.6L718.6 837.3L719.4 847.8L720.2 838.7L721.0 843.2L721.8 821.4L722.6 844.2L723.4 796.3L724.2 845.0L725.0 837.2L725.8 840.5L726.6 820.5L727.4 838.8L728.2 770.3L729.0 836.9L729.8 833.0L730.6 851.1L731.4 849.4L732.2 853.9L733.0 761.7L733.8 853.7L734.6 832.0L735.4 846.7L736.2 841.9L737.0 778.1L737.8 838.5L738.6 844.2L739.4 842.8L740.2 845.8L741.0 845.0L741.8 733.6L742.6 846.1L743.4 842.4L744.2 834.5L745.0 840.8L745.8 832.3L746.6 841.3L747.4 836.6L748.2 842.3L749.0 826.7L749.8 793.8L750.6 838.9L751.4 841.9L752.2 835.6L753.0 843.3L753.8 849.1L754.6 852.7L755.4 846.1L756.2 790.0L757.0 849.1L757.8 852.4L758.6 843.9L759.4 852.5L760.2 844.6L761.0 842.7L761.8 834.3L762.6 842.2L763.4 745.0L764.2 844.3L765.0 836.8L765.8 849.2L766.6 841.1L767.4 846.9L768.2 759.1L769.0 849.7L769.8 845.3L770.6 848.2L771.4 839.0L772.2 847.1L773.0 836.8L773.8 805.2L774.6 841.2L775.4 843.5L776.2 840.3L777.0 843.3L777.8 839.2L778.6 814.0L779.4 834.0L780.2 842.0L781.0 839.3L781.8 843.1L782.6 841.2L783.4 845.2L784.2 817.3L785.0 849.6L785.8 847.0L786.6 850.2L787.4 835.8L788.2 849.0L789.0 845.7L789.8 848.6L790.6 846.4L791.4 801.4L792.2 841.5L793.0 849.7L793.8 836.2L794.6 849.5L795.4 833.8L796.2 850.6L797.0 815.3L797.8 850.6L798.6 847.8L799.4 850.6L800.2 848.0L801.0 806.7L801.8 839.0L802.6 852.5L803.4 843.4L804.2 852.0L805.0 844.4L805.8 852.9L806.6 846.1L807.4 828.4L808.2 846.7L809.0 853.8L809.8 847.9L810.6 853.6L811.4 849.7L812.2 853.4L813.0 844.5L813.8 822.1L814.6 848.8L815.4 848.6L816.2 836.2L817.0 849.0L817.8 841.9L818.6 850.2L819.4 846.5L820.2 834.3L821.0 847.6L821.8 850.8L822.6 852.6L823.4 856.0L824.2 851.2L825.0 854.3L825.8 849.0L826.6 829.7L827.4 842.9L828.2 846.3L829.0 836.5L829.8 846.9L830.6 843.4L831.4 846.8L832.2 811.0L833.0 852.3L833.8 849.7L834.6 850.1L835.4 845.1L836.2 851.0L837.0 845.8L837.8 833.0L838.6 844.5L839.4 850.8L840.2 845.2L841.0 852.9L841.8 849.8L842.6 853.5L843.4 829.2L844.2 853.7L845.0 845.8L845.8 852.7L846.6 843.0L847.4 853.0L848.2 848.2L849.0 850.7L849.8 843.1L850.6 849.9L851.4 846.1L852.2 838.1L853.0 846.6L853.8 850.8L854.6 848.0L855.4 850.4L856.2 851.6L857.0 849.7L857.8 849.0L858.6 848.2L859.4 851.2L860.2 849.6L861.0 847.4L861.8 850.7L862.6 847.1L863.4 851.4L864.2 847.6L865.0 849.8L865.8 848.4L866.6 848.0L867.4 850.8L868.2 848.9L869.0 838.7L869.8 846.3L870.6 847.7L871.4 848.4L872.2 849.6L873.0 850.9L873.8 848.8L874.6 852.0L875.4 848.0L876.2 851.3L877.0 847.1L877.8 850.5L878.6 846.4L879.4 849.3L880.2 845.5L881.0 848.9L881.8 836.0L882.6 848.5L883.4 841.0L884.2 848.5L885.0 844.5L885.8 849.5L886.6 845.0L887.4 850.2L888.2 846.5L889.0 837.3L889.8 847.4L890.6 850.9L891.4 845.6L892.2 851.1L893.0 842.7L893.8 850.7L894.6 844.3L895.4 850.4L896.2 842.8L897.0 850.7L897.8 837.9L898.6 853.6L899.4 850.6L900.2 854.5L901.0 851.9L901.8 856.2L902.6 847.2L903.4 856.8L904.2 835.5L905.0 849.6L905.8 848.4L906.6 849.2L907.4 844.7L908.2 850.4L909.0 847.4L909.8 846.6L910.6 845.7L911.4 847.4L912.2 844.7L913.0 845.5L913.8 847.7L914.6 838.8L915.4 842.4L916.2 846.5L917.0 849.7L917.8 844.3L918.6 849.1L919.4 850.8L920.2 846.4L921.0 840.3L921.8 851.3L922.6 849.8L923.4 847.8L924.2 840.0L925.0 851.3L925.8 831.7L926.6 846.9L927.4 850.6L928.2 838.8L929.0 849.3L929.8 850.1L930.6 850.9L931.4 849.9L932.2 849.7L933.0 851.3L933.8 848.2L934.6 846.1L935.4 850.3L936.2 846.8L937.0 851.0L937.8 846.6L938.6 851.4L939.4 851.6L940.2 854.5L941.0 851.6L941.8 852.5L942.6 848.2L943.4 851.8L944.2 847.4L945.0 850.2L945.8 841.0L946.6 848.9L947.4 845.0L948.2 849.4L949.0 846.5L949.8 851.6L950.6 847.2L951.4 852.7L952.2 848.9L953.0 852.4L953.8 848.5L954.6 851.7L955.4 848.0L956.2 851.5L957.0 843.8L957.8 852.3L958.6 848.5L959.4 838.1L960.2 849.1L961.0 853.7L961.8 847.5L962.6 852.9L963.4 845.2L964.2 850.8L965.0 846.3L965.8 849.4L966.6 837.0L967.4 849.2L968.2 844.7L969.0 849.5L969.8 840.6L970.6 849.8L971.4 846.7L972.2 850.9L973.0 838.5L973.8 851.8L974.6 842.9L975.4 852.2L976.2 845.3L977.0 852.8L977.8 840.2L978.6 852.0L979.4 835.5L980.2 849.9L981.0 844.2L981.8 850.8L982.6 847.5L983.4 851.1L984.2 843.3L985.0 851.3L985.8 845.1L986.6 851.1L987.4 847.4L988.2 851.7L989.0 847.7L989.8 851.4L990.6 847.5L991.4 850.4L992.2 841.0L993.0 850.0L993.8 838.2L994.6 850.5L995.4 847.2L996.2 851.5L997.0 848.6L997.8 852.5L998.6 847.8L999.4 852.7L1000.2 836.2L1001.0 851.8L1001.8 844.3L1002.6 851.1L1003.4 835.9L1004.2 849.9L1005.0 846.1L1005.8 850.1L1006.6 834.8L1007.4 850.3L1008.2 847.1L1009.0 851.4L1009.8 846.1L1010.6 851.7L1011.4 848.7L1012.2 852.4L1013.0 849.3L1013.8 853.5L1014.6 839.5L1015.4 854.2L1016.2 845.8L1017.0 853.9L1017.8 849.8L1018.6 850.5L1019.4 848.6L1020.2 848.0L1021.0 842.0L1021.8 850.1L1022.6 846.2L1023.4 847.5L1024.2 847.7L1025.0 846.4L1025.8 838.1L1026.6 850.0L1027.4 849.9L1028.2 850.4L1029.0 848.7L1029.8 850.8L1030.6 847.7L1031.4 852.2L1032.2 848.2L1033.0 851.8L1033.8 848.0L1034.6 852.0L1035.4 837.3L1036.2 852.8L1037.0 849.0L1037.8 852.3L1038.6 847.9L1039.4 851.9L1040.2 847.9L1041.0 821.6L1041.8 842.6L1042.6 852.2L1043.4 848.5L1044.2 852.3L1045.0 846.0L1045.8 851.5L1046.6 843.6L1047.4 825.4L1048.2 842.6L1049.0 849.0L1049.8 845.8L1050.6 849.6L1051.4 846.7L1052.2 850.4L1053.0 846.9L1053.8 851.3L1054.6 847.1L1055.4 831.7L1056.2 845.2L1057.0 850.8L1057.8 837.1L1058.6 850.7L1059.4 846.7L1060.2 850.8L1061.0 836.8L1061.8 850.4L1062.6 836.6L1063.4 850.5L1064.2 843.0L1065.0 850.7L1065.8 847.4L1066.6 850.6L1067.4 846.0L1068.2 850.8L1069.0 841.3L1069.8 818.6L1070.6 843.9L1071.4 850.4L1072.2 850.2L1073.0 852.9L1073.8 850.2L1074.6 850.7L1075.4 826.7L1076.2 850.4L1077.0 841.1L1077.8 851.1L1078.6 842.4L1079.4 851.4L1080.2 840.4L1081.0 815.0L1081.8 843.5L1082.6 850.8L1083.4 842.5L1084.2 850.6L1085.0 837.0L1085.8 850.3L1086.6 843.3L1087.4 825.4L1088.2 844.2L1089.0 849.7L1089.8 841.2L1090.6 850.3L1091.4 844.7L1092.2 851.1L1093.0 847.6L1093.8 851.9L1094.6 843.9L1095.4 852.9L1096.2 845.3L1097.0 827.9L1097.8 847.2L1098.6 850.0L1099.4 840.1L1100.2 848.9L1101.0 836.2L1101.8 849.4L1102.6 846.6L1103.4 850.3L1104.2 839.5L1105.0 850.5L1105.8 847.8L1106.6 851.3L1107.4 842.7L1108.2 852.2L1109.0 845.4L1109.8 852.6L1110.6 815.8L1111.4 854.5L1112.2 851.7L1113.0 851.0L1113.8 844.6L1114.6 849.9L1115.4 836.8L1116.2 849.3L1117.0 843.5L1117.8 849.9L1118.6 846.8L1119.4 850.4L1120.2 811.5L1121.0 849.9L1121.8 846.7L1122.6 851.0L1123.4 838.1L1124.2 848.9L1125.0 842.7L1125.8 848.1L1126.6 806.4L1127.4 848.5L1128.2 841.0L1129.0 848.8L1129.8 840.9L1130.6 849.5L1131.4 845.5L1132.2 848.9L1133.0 805.2L1133.8 848.9L1134.6 834.6L1135.4 847.4L1136.2 821.6L1137.0 846.5L1137.8 831.6L1138.6 847.7L1139.4 842.2L1140.2 848.6L1141.0 810.2L1141.8 849.2L1142.6 840.7L1143.4 848.9L1144.2 837.0L1145.0 847.7L1145.8 839.7L1146.6 847.3L1147.4 838.7L1148.2 847.7L1149.0 806.4L1149.8 848.0L1150.6 837.7L1151.4 850.7L1152.2 844.2L1153.0 850.8L1153.8 839.1L1154.6 810.2L1155.4 846.6L1156.2 849.4L1157.0 840.9L1157.8 849.1L1158.6 841.2L1159.4 849.3L1160.2 842.0L1161.0 850.0L1161.8 842.7L1162.6 816.6L1163.4 839.7L1164.2 848.7L1165.0 838.4L1165.8 849.1L1166.6 846.1L1167.4 849.4L1168.2 845.9L1169.0 850.3L1169.8 773.0L1170.6 849.4L1171.4 835.7L1172.2 849.7L1173.0 845.3L1173.8 851.0L1174.6 832.2L1175.4 787.0L1176.2 831.4L1177.0 850.2L1177.8 831.6L1178.6 849.4L1179.4 846.7L1180.2 849.8L1181.0 838.9L1181.8 849.0L1182.6 803.9L1183.4 850.5L1184.2 842.8L1185.0 850.7L1185.8 839.1L1186.6 851.5L1187.4 834.1L1188.2 851.1L1189.0 849.3L1189.8 851.6L1190.6 789.5L1191.4 850.8L1192.2 847.3L1193.0 849.7L1193.8 845.8L1194.6 847.7L1195.4 750.8L1196.2 846.0L1197.0 838.9L1197.8 843.5L1198.6 842.6L1199.4 846.3L1200.2 783.7L1201.0 846.3L1201.8 840.0L1202.6 848.7L1203.4 843.5L1204.2 845.7L1205.0 834.3L1205.8 843.5L1206.6 840.0L1207.4 844.2L1208.2 840.7L1209.0 843.7L1209.8 835.3L1210.6 739.4L1211.4 816.5L1212.2 836.8L1213.0 829.6L1213.8 834.3L1214.6 821.0L1215.4 831.1L1216.2 759.6L1217.0 832.5L1217.8 828.7L1218.6 831.4L1219.4 811.9L1220.2 828.4L1221.0 827.0L1221.8 654.6L1222.6 827.0L1223.4 824.5L1224.2 818.2L1225.0 821.3L1225.8 806.5L1226.6 822.9L1227.4 822.8L1228.2 754.6L1229.0 815.5L1229.8 827.8L1230.6 824.7L1231.4 825.9L1232.2 815.6L1233.0 774.8L1233.8 813.4L1234.6 827.9L1235.4 823.2L1236.2 827.3L1237.0 817.3L1237.8 825.1L1238.6 822.0L1239.4 827.5L1240.2 748.0L1241.0 827.9L1241.8 845.7L1242.6 849.1L1243.4 810.7L1244.2 849.6L1245.0 844.5L1245.8 849.7L1246.6 826.9L1247.4 732.6L1248.2 811.4L1249.0 832.7L1249.8 813.7L1250.6 831.0L1251.4 718.9L1252.2 833.1L1253.0 813.2L1253.8 834.6L1254.6 836.9L1255.4 838.2L1256.2 783.7L1257.0 839.3L1257.8 824.6L1258.6 836.9L1259.4 818.0L1260.2 834.5L1261.0 826.8L1261.8 826.9L1262.6 775.6L1263.4 824.1L1264.2 823.3L1265.0 827.3L1265.8 817.5L1266.6 831.6L1267.4 832.3L1268.2 838.8L1269.0 834.0L1269.8 841.1L1270.6 734.3L1271.4 843.8L1272.2 843.3L1273.0 847.3L1273.8 829.8L1274.6 844.9L1275.4 836.9L1276.2 842.7L1277.0 838.3L1277.8 841.1L1278.6 790.0L1279.4 837.8L1280.2 830.1L1281.0 849.3L1281.8 846.6L1282.6 849.7L1283.4 845.7L1284.2 849.0L1285.0 846.0L1285.8 722.9L1286.6 826.7L1287.4 841.8L1288.2 816.3L1289.0 845.3L1289.8 832.6L1290.6 843.6L1291.4 774.8L1292.2 842.3L1293.0 834.7L1293.8 844.4L1294.6 827.7L1295.4 842.7L1296.2 750.3L1297.0 847.8L1297.8 837.0L1298.6 847.9L1299.4 829.2L1300.2 848.1L1301.0 748.2L1301.8 847.0L1302.6 830.2L1303.4 847.8L1304.2 826.9L1305.0 779.9L1305.8 842.4L1306.6 845.7L1307.4 820.4L1308.2 830.5L1309.0 822.7L1309.8 667.3L1310.6 831.1L1311.4 836.0L1312.2 818.0L1313.0 841.0L1313.8 833.9L1314.6 838.6L1315.4 833.8L1316.2 757.1L1317.0 822.9L1317.8 851.4L1318.6 832.2L1319.4 850.3L1320.2 775.6L1321.0 852.0L1321.8 829.8L1322.6 851.2L1323.4 836.4L1324.2 849.2L1325.0 845.2L1325.8 805.2L1326.6 841.2L1327.4 849.0L1328.2 843.6L1329.0 849.1L1329.8 835.3L1330.6 848.1L1331.4 759.9L1332.2 843.7L1333.0 837.7L1333.8 844.8L1334.6 826.3L1335.4 844.3L1336.2 786.2L1337.0 845.8L1337.8 842.3L1338.6 846.1L1339.4 842.4L1340.2 845.9L1341.0 814.0L1341.8 842.2L1342.6 832.7L1343.4 842.0L1344.2 838.1L1345.0 842.2L1345.8 837.4L1346.6 840.8L1347.4 839.9L1348.2 802.6L1349.0 836.8L1349.8 840.0L1350.6 834.4L1351.4 838.6L1352.2 829.7L1353.0 836.7L1353.8 846.1L1354.6 854.0L1355.4 846.9L1356.2 854.5L1357.0 851.3L1357.8 788.7L1358.6 844.5L1359.4 855.2L1360.2 850.6L1361.0 855.6L1361.8 844.4L1362.6 855.8L1363.4 841.9L1364.2 849.6L1365.0 811.0L1365.8 851.4L1366.6 842.3L1367.4 849.6L1368.2 845.0L1369.0 853.0L1369.8 841.2L1370.6 852.5L1371.4 849.2L1372.2 809.5L1373.0 841.3L1373.8 855.0L1374.6 851.3L1375.4 856.0L1376.2 848.1L1377.0 855.9L1377.8 853.7L1378.6 856.4L1379.4 802.6L1380.2 856.0L1381.0 852.5L1381.8 855.8L1382.6 852.1L1383.4 855.4L1384.2 849.5L1385.0 854.9L1385.8 849.1L1386.6 853.8L1387.4 842.9L1388.2 816.6L1389.0 843.3L1389.8 854.8L1390.6 848.9L1391.4 855.4L1392.2 847.3L1393.0 815.3L1393.8 845.0L1394.6 856.2L1395.4 844.0L1396.2 855.2L1397.0 840.4L1397.8 852.6L1398.6 795.3L1399.4 852.7L1400.2 849.3L1401.0 852.9L1401.8 839.7L1402.6 848.1L1403.4 838.4L1404.2 847.7L1405.0 838.4L1405.8 847.3L1406.6 840.5L1407.4 848.7L1408.2 817.8L1409.0 848.7L1409.8 840.1L1410.6 848.8L1411.4 844.8L1412.2 848.0L1413.0 840.9L1413.8 848.8L1414.6 845.8L1415.4 851.7L1416.2 831.7L1417.0 853.9L1417.8 851.5L1418.6 855.2L1419.4 852.0L1420.2 855.0L1421.0 850.7L1421.8 853.5L1422.6 845.7L1423.4 852.5L1424.2 841.7L1425.0 851.1L1425.8 845.3L1426.6 827.7L1427.4 846.3L1428.2 851.0L1429.0 843.3L1429.8 852.0L1430.6 848.6L1431.4 854.0L1432.2 850.5L1433.0 854.2L1433.8 848.2L1434.6 856.7L1435.4 851.7L1436.2 855.6L1437.0 851.5L1437.8 855.5L1438.6 835.5L1439.4 856.5L1440.2 845.3L1441.0 857.2L1441.8 853.2L1442.6 857.6L1443.4 851.7L1444.2 856.9L1445.0 850.4L1445.8 855.9L1446.6 852.1L1447.4 856.0L1448.2 850.9L1449.0 838.1L1449.8 849.9L1450.6 854.8L1451.4 845.2L1452.2 855.2L1453.0 851.1L1453.8 855.8L1454.6 843.6L1455.4 856.2L1456.2 824.4L1457.0 856.6L1457.8 852.7L1458.6 856.4L1459.4 852.6L1460.2 856.0L1461.0 849.6L1461.8 855.4L1462.6 852.4L1463.4 855.8L1464.2 842.9L1465.0 857.7L1465.8 851.1L1466.6 857.5L1467.4 836.3L1468.2 856.0L1469.0 850.0L1469.8 854.8L1470.6 847.4L1471.4 854.7L1472.2 840.8L1473.0 854.4L1473.8 849.9L1474.6 855.3L1475.4 849.0L1476.2 855.8L1477.0 849.5L1477.8 835.5L1478.6 850.9L1479.4 854.8L1480.2 840.9L1481.0 854.5L1481.8 849.4L1482.6 854.2L1483.4 840.0L1484.2 853.1L1485.0 839.6L1485.8 852.8L1486.6 847.5L1487.4 853.4L1488.2 849.8L1489.0 840.1L1489.8 852.3L1490.6 849.5L1491.4 842.6L1492.2 849.2L1493.0 855.1L1493.8 847.6L1494.6 840.7L1495.4 847.0L1496.2 850.0L1497.0 851.5L1497.8 848.2L1498.6 855.1L1499.4 850.7L1500.2 854.8L1501.0 848.5L1501.8 855.5L1502.6 842.5L1503.4 856.2L1504.2 843.1L1505.0 854.4L1505.8 855.5L1506.6 849.2L1507.4 853.7L1508.2 855.3L1509.0 852.6L1509.8 847.0L1510.6 852.2L1511.4 853.9L1512.2 854.4L1513.0 853.0L1513.8 850.2L1514.6 854.7L1515.4 855.4L1516.2 853.6L1517.0 855.0L1517.8 843.7L1518.6 854.5L1519.4 855.3L1520.2 854.8L1521.0 855.6L1521.8 851.3L1522.6 852.2L1523.4 850.4L1524.2 848.2L1525.0 852.3L1525.8 852.2L1526.6 854.1L1527.4 838.1L1528.2 854.9L1529.0 849.8L1529.8 851.4L1530.6 853.2L1531.4 844.2L1532.2 854.6L1533.0 854.3L1533.8 850.4L1534.6 855.3L1535.4 852.8L1536.2 854.6L1537.0 849.2L1537.8 854.8L1538.6 855.4L1539.4 851.3L1540.2 850.1L1541.0 855.1L1541.8 853.2L1542.6 848.9L1543.4 851.7L1544.2 852.1L1545.0 849.4L1545.8 853.8L1546.6 849.2L1547.4 853.2L1548.2 855.3L1549.0 850.7L1549.8 852.0L1550.6 845.0L1551.4 855.1L1552.2 855.0L1553.0 852.6L1553.8 854.4L1554.6 848.3L1555.4 854.1L1556.2 853.7L1557.0 853.0L1557.8 855.2L1558.6 855.5L1559.4 854.8L1560.2 853.1L1561.0 854.4L1561.8 853.2L1562.6 851.5L1563.4 851.3L1564.2 850.9L1565.0 854.6L1565.8 851.5L1566.6 848.6L1567.4 853.1L1568.2 850.1L1569.0 847.4L1569.8 852.7L1570.6 851.6L1571.4 855.1L1572.2 853.1L1573.0 853.8L1573.8 854.0L1574.6 853.8L1575.4 853.9L1576.2 855.0L1577.0 854.6L1577.8 854.8L1578.6 847.3L1579.4 854.5L1580.2 851.9L1581.0 853.2L1581.8 851.8L1582.6 852.2L1583.4 854.8L1584.2 853.5L1585.0 855.1L1585.8 854.7L1586.6 853.4L1587.4 855.1L1588.2 854.9L1589.0 850.8L1589.8 854.8L1590.6 854.5L1591.4 850.1L1592.2 854.0L1593.0 846.9L1593.8 854.5L1594.6 851.7L1595.4 855.1L1596.2 854.8L1597.0 854.7L1597.8 853.3L1598.6 854.9L1599.4 848.6L1600.2 853.8L1601.0 852.2L1601.8 851.9L1602.6 851.8L1603.4 851.8L1604.2 847.8L1605.0 852.4L1605.8 853.7L1606.6 854.3L1607.4 850.2L1608.2 851.0L1609.0 851.8L1609.8 855.1L1610.6 854.7L1611.4 852.7L1612.2 854.4L1613.0 854.0L1613.8 854.3L1614.6 853.5L1615.4 854.4L1616.2 853.0L1617.0 850.1L1617.8 854.9L1618.6 854.5L1619.4 853.2L1620.2 853.2L1621.0 849.9L1621.8 849.1L1622.6 852.8L1623.4 853.9L1624.2 854.5L1625.0 854.4L1625.8 853.1L1626.6 854.5L1627.4 854.0L1628.2 854.7L1629.0 852.8L1629.8 847.2L1630.6 853.5L1631.4 851.7L1632.2 854.9L1633.0 853.7L1633.8 851.3L1634.6 852.4L1635.4 849.7L1636.2 851.4L1637.0 854.9L1637.8 854.6L1638.6 854.7L1639.4 854.5L1640.2 852.3L1641.0 854.8L1641.8 851.4L1642.6 847.5L1643.4 849.2L1644.2 851.5L1645.0 852.9L1645.8 855.2L1646.6 851.0L1647.4 852.9L1648.2 852.8L1649.0 852.3L1649.8 853.3L1650.6 854.5L1651.4 853.6L1652.2 851.7L1653.0 853.7L1653.8 854.2L1654.6 853.5L1655.4 853.5L1656.2 848.7L1657.0 851.7L1657.8 854.6L1658.6 854.9L1659.4 854.3L1660.2 849.7L1661.0 852.9L1661.8 853.9L1662.6 854.0L1663.4 853.2L1664.2 852.7L1665.0 854.8L1665.8 854.9L1666.6 855.2L1667.4 855.1L1668.2 854.6L1669.0 850.6L1669.8 847.7L1670.6 851.0L1671.4 852.1L1672.2 853.3L1673.0 853.9L1673.8 852.9L1674.6 853.2L1675.4 853.0L1676.2 854.1L1677.0 847.9L1677.8 855.0L1678.6 855.1L1679.4 854.6L1680.2 855.1L1681.0 854.8L1681.8 854.2L1682.6 854.3L1683.4 854.1L1684.2 853.9L1685.0 849.4L1685.8 853.2L1686.6 852.5L1687.4 854.8L1688.2 848.0L1689.0 852.9L1689.8 851.4L1690.6 851.6L1691.4 854.9L1692.2 852.1L1693.0 853.7L1693.8 854.6L1694.6 854.5L1695.4 852.2L1696.2 854.2L1697.0 854.7L1697.8 848.2L1698.6 853.0L1699.4 854.3L1700.2 852.1L1701.0 854.3L1701.8 854.5L1702.6 854.8L1703.4 854.6L1704.2 852.8L1705.0 855.2L1705.8 851.9L1706.6 852.9L1707.4 854.4L1708.2 852.6L1709.0 854.8L1709.8 852.3L1710.6 854.1L1711.4 853.5L1712.2 854.2L1713.0 853.1L1713.8 853.9L1714.6 854.3L1715.4 854.6L1716.2 852.6L1717.0 852.9L1717.8 854.6L1718.6 855.0L1719.4 850.2L1720.2 855.0L1721.0 853.2L1721.8 854.3L1722.6 853.1L1723.4 851.4L1724.2 853.6L1725.0 850.4L1725.8 854.6L1726.6 854.4L1727.4 852.8L1728.2 852.7L1729.0 854.5" stroke="#ff0000"/>
<path id="s3" d="M202.6 1256.5L203.4 1248.3L204.2 1256.3L205.0 1258.1L205.8 1245.4L206.6 1256.2L207.4 1257.6L208.2 1257.9L209.0 1252.8L209.8 1258.4L210.6 1256.4L211.4 1243.9L212.2 1259.5L213.0 1254.3L213.8 1259.5L214.6 1254.3L215.4 1259.8L216.2 1244.5L217.0 1258.9L217.8 1242.9L218.6 1257.6L219.4 1251.0L220.2 1256.9L221.0 1247.0L221.8 1258.2L222.6 1255.6L223.4 1260.1L224.2 1257.1L225.0 1261.1L225.8 1257.0L226.6 1260.2L227.4 1251.8L228.2 1234.5L229.0 1251.7L229.8 1259.3L230.6 1254.1L231.4 1259.8L232.2 1256.3L233.0 1260.1L233.8 1256.2L234.6 1259.6L235.4 1244.4L236.2 1259.1L237.0 1255.2L237.8 1248.4L238.6 1253.7L239.4 1255.8L240.2 1255.1L241.0 1256.7L241.8 1255.1L242.6 1255.8L243.4 1252.4L244.2 1256.7L245.0 1250.0L245.8 1256.5L246.6 1252.5L247.4 1256.6L248.2 1250.4L249.0 1256.4L249.8 1235.8L250.6 1256.4L251.4 1246.1L252.2 1257.2L253.0 1253.7L253.8 1258.5L254.6 1243.2L255.4 1259.5L256.2 1252.0L257.0 1260.0L257.8 1252.6L258.6 1258.6L259.4 1244.0L260.2 1257.6L261.0 1241.8L261.8 1257.9L262.6 1252.3L263.4 1237.8L264.2 1255.2L265.0 1258.6L265.8 1244.9L266.6 1257.7L267.4 1253.3L268.2 1257.1L269.0 1254.0L269.8 1258.2L270.6 1254.8L271.4 1258.0L272.2 1254.3L273.0 1242.1L273.8 1252.4L274.6 1256.6L275.4 1243.5L276.2 1257.1L277.0 1248.7L277.8 1257.4L278.6 1252.5L279.4 1257.5L280.2 1246.0L281.0 1258.1L281.8 1253.3L282.6 1258.3L283.4 1252.7L284.2 1259.0L285.0 1239.6L285.8 1259.3L286.6 1255.5L287.4 1259.1L288.2 1242.1L289.0 1257.7L289.8 1241.2L290.6 1257.8L291.4 1241.4L292.2 1258.3L293.0 1255.1L293.8 1230.0L294.6 1249.6L295.4 1257.5L296.2 1253.4L297.0 1256.7L297.8 1253.4L298.6 1256.9L299.4 1243.2L300.2 1258.1L301.0 1245.9L301.8 1258.7L302.6 1252.3L303.4 1237.5L304.2 1252.1L305.0 1256.9L305.8 1242.6L306.6 1255.7L307.4 1242.2L308.2 1255.1L309.0 1241.7L309.8 1256.3L310.6 1244.6L311.4 1257.2L312.2 1253.2L313.0 1257.6L313.8 1253.0L314.6 1257.9L315.4 1251.0L316.2 1235.8L317.0 1251.3L317.8 1257.5L318.6 1253.7L319.4 1257.3L320.2 1250.3L321.0 1257.6L321.8 1250.0L322.6 1257.6L323.4 1254.6L324.2 1258.4L325.0 1247.2L325.8 1258.8L326.6 1239.6L327.4 1256.6L328.2 1248.5L329.0 1255.5L329.8 1254.1L330.6 1257.2L331.4 1249.4L332.2 1256.6L333.0 1257.0L333.8 1253.6L334.6 1252.0L335.4 1259.5L336.2 1240.0L337.0 1259.5L337.8 1245.9L338.6 1259.7L339.4 1250.5L340.2 1259.6L341.0 1255.6L341.8 1258.9L342.6 1254.6L343.4 1257.9L344.2 1238.2L345.0 1256.8L345.8 1237.2L346.6 1257.1L347.4 1253.5L348.2 1258.4L349.0 1251.2L349.8 1259.6L350.6 1243.9L351.4 1259.2L352.2 1239.0L353.0 1258.9L353.8 1255.2L354.6 1258.8L355.4 1255.0L356.2 1258.6L357.0 1246.8L357.8 1257.8L358.6 1253.6L359.4 1257.0L360.2 1252.4L361.0 1241.3L361.8 1253.6L362.6 1256.8L363.4 1239.6L364.2 1256.7L365.0 1242.2L365.8 1256.6L366.6 1251.6L367.4 1257.4L368.2 1246.0L369.0 1258.3L369.8 1236.5L370.6 1257.6L371.4 1251.0L372.2 1256.5L373.0 1256.9L373.8 1259.7L374.6 1256.9L375.4 1257.9L376.2 1255.1L377.0 1258.6L377.8 1254.5L378.6 1258.5L379.4 1254.4L380.2 1257.7L381.0 1249.9L381.8 1257.7L382.6 1249.9L383.4 1257.1L384.2 1228.2L385.0 1257.9L385.8 1256.0L386.6 1255.9L387.4 1252.9L388.2 1257.0L389.0 1253.5L389.8 1257.8L390.6 1253.6L391.4 1258.8L392.2 1242.6L393.0 1260.4L393.8 1235.0L394.6 1260.9L395.4 1244.5L396.2 1260.0L397.0 1248.9L397.8 1258.4L398.6 1253.1L399.4 1258.0L400.2 1240.6L401.0 1258.6L401.8 1254.9L402.6 1239.1L403.4 1252.7L404.2 1258.2L405.0 1243.4L405.8 1258.1L406.6 1240.3L407.4 1257.1L408.2 1251.8L409.0 1257.0L409.8 1242.1L410.6 1256.2L411.4 1252.1L412.2 1255.4L413.0 1247.8L413.8 1255.2L414.6 1238.2L415.4 1256.1L416.2 1240.8L417.0 1257.0L417.8 1203.6L418.6 1257.7L419.4 1248.5L420.2 1257.0L421.0 1244.5L421.8 1256.6L422.6 1245.5L423.4 1257.5L424.2 1240.7L425.0 1258.2L425.8 1232.0L426.6 1258.2L427.4 1253.1L428.2 1258.2L429.0 1248.5L429.8 1257.6L430.6 1254.2L431.4 1257.4L432.2 1250.6L433.0 1234.5L433.8 1250.1L434.6 1255.9L435.4 1249.3L436.2 1256.0L437.0 1251.9L437.8 1256.0L438.6 1247.5L439.4 1226.9L440.2 1248.0L441.0 1256.6L441.8 1240.0L442.6 1258.3L443.4 1251.2L444.2 1258.0L445.0 1251.4L445.8 1257.8L446.6 1245.1L447.4 1216.3L448.2 1249.2L449.0 1257.1L449.8 1245.7L450.6 1258.3L451.4 1221.9L452.2 1259.4L453.0 1249.1L453.8 1260.6L454.6 1243.7L455.4 1258.6L456.2 1247.1L457.0 1256.5L457.8 1248.7L458.6 1255.3L459.4 1226.9L460.2 1254.7L461.0 1240.7L461.8 1254.5L462.6 1239.2L463.4 1254.3L464.2 1250.3L465.0 1191.5L465.8 1244.0L466.6 1250.7L467.4 1243.6L468.2 1252.8L469.0 1243.6L469.8 1165.4L470.6 1228.0L471.4 1253.4L472.2 1224.5L473.0 1135.8L473.8 1240.7L474.6 1248.9L475.4 1236.3L476.2 1086.5L477.0 1231.0L477.8 1244.1L478.6 1208.5L479.4 1242.4L480.2 1237.8L481.0 1246.1L481.8 1216.5L482.6 1250.6L483.4 1224.2L484.2 896.2L485.0 1177.5L485.8 1243.0L486.6 1174.6L487.4 1239.6L488.2 1231.1L489.0 1241.2L489.8 1204.3L490.6 1092.3L491.4 1215.2L492.2 1254.0L493.0 1237.0L493.8 1154.8L494.6 1243.6L495.4 1253.9L496.2 1235.1L497.0 1173.8L497.8 1236.8L498.6 1253.7L499.4 1219.9L500.2 1252.6L501.0 1012.1L501.8 1253.9L502.6 1250.6L503.4 1253.4L504.2 1236.8L505.0 1121.4L505.8 1245.5L506.6 1248.8L507.4 1221.5L508.2 1145.4L509.0 1220.6L509.8 1252.6L510.6 1243.8L511.4 1249.2L512.2 1213.1L513.0 988.1L513.8 1228.7L514.6 1240.5L515.4 1209.5L516.2 1236.8L517.0 1202.7L517.8 1240.5L518.6 1176.4L519.4 1236.7L520.2 1110.8L521.0 1242.8L521.8 1214.5L522.6 1242.4L523.4 1226.3L524.2 1243.1L525.0 1219.0L525.8 1244.8L526.6 1178.3L527.4 1255.4L528.2 1227.6L529.0 1258.0L529.8 1248.5L530.6 1254.4L531.4 1245.8L532.2 1152.0L533.0 1238.0L533.8 1251.1L534.6 1233.1L535.4 1250.0L536.2 1235.4L537.0 1250.6L537.8 1214.2L538.6 1248.1L539.4 1163.7L540.2 1251.5L541.0 1241.9L541.8 1250.2L542.6 1247.0L543.4 1250.1L544.2 1215.5L545.0 1250.4L545.8 1242.6L546.6 1249.6L547.4 1239.4L548.2 1250.8L549.0 1245.0L549.8 1251.9L550.6 1208.7L551.4 1254.1L552.2 1249.9L553.0 1252.2L553.8 1249.5L554.6 1188.5L555.4 1249.1L556.2 1252.1L557.0 1248.4L557.8 1251.9L558.6 1243.9L559.4 1221.9L560.2 1245.9L561.0 1253.3L561.8 1237.9L562.6 1253.0L563.4 1244.0L564.2 1223.1L565.0 1244.5L565.8 1253.8L566.6 1244.1L567.4 1254.7L568.2 1251.4L569.0 1255.4L569.8 1229.4L570.6 1255.1L571.4 1251.6L572.2 1254.2L573.0 1243.5L573.8 1255.3L574.6 1251.2L575.4 1254.2L576.2 1249.2L577.0 1232.5L577.8 1247.3L578.6 1253.7L579.4 1248.5L580.2 1253.1L581.0 1250.3L581.8 1201.6L582.6 1251.4L583.4 1254.7L584.2 1250.7L585.0 1253.5L585.8 1246.8L586.6 1253.1L587.4 1220.6L588.2 1253.2L589.0 1250.3L589.8 1252.9L590.6 1217.3L591.4 1253.3L592.2 1248.9L593.0 1253.9L593.8 1247.2L594.6 1253.5L595.4 1249.8L596.2 1228.9L597.0 1250.4L597.8 1254.3L598.6 1247.5L599.4 1255.8L600.2 1249.6L601.0 1255.7L601.8 1248.6L602.6 1254.7L603.4 1254.4L604.2 1205.9L605.0 1254.4L605.8 1254.5L606.6 1252.4L607.4 1255.6L608.2 1249.2L609.0 1258.1L609.8 1255.1L610.6 1258.8L611.4 1158.6L612.2 1255.7L613.0 1241.8L613.8 1255.1L614.6 1246.8L615.4 1254.8L616.2 1251.0L617.0 1252.8L617.8 1182.9L618.6 1254.1L619.4 1251.9L620.2 1253.8L621.0 1186.4L621.8 1253.8L622.6 1231.1L623.4 1252.2L624.2 1233.0L625.0 1252.9L625.8 1160.6L626.6 1251.4L627.4 1246.6L628.2 1254.2L629.0 1212.7L629.8 1252.0L630.6 1182.6L631.4 1255.4L632.2 1246.7L633.0 1255.5L633.8 1173.0L634.6 1255.2L635.4 1243.0L636.2 1252.7L637.0 1243.8L637.8 1253.8L638.6 1151.5L639.4 1254.2L640.2 1248.3L641.0 1249.5L641.8 1236.0L642.6 1253.1L643.4 1210.1L644.2 1251.7L645.0 1222.4L645.8 1253.3L646.6 1164.4L647.4 1253.6L648.2 1246.3L649.0 1252.7L649.8 1224.0L650.6 1255.2L651.4 1154.3L652.2 1253.6L653.0 1237.7L653.8 1253.2L654.6 1245.0L655.4 1255.7L656.2 1250.7L657.0 1255.5L657.8 1156.6L658.6 1253.8L659.4 1247.4L660.2 1254.4L661.0 1241.0L661.8 1253.3L662.6 1221.9L663.4 1251.5L664.2 1235.9L665.0 1197.6L665.8 1235.6L666.6 1251.3L667.4 1248.4L668.2 1253.1L669.0 1229.3L669.8 1253.6L670.6 1201.6L671.4 1255.4L672.2 1238.4L673.0 1255.2L673.8 1247.4L674.6 1254.1L675.4 1250.6L676.2 1176.8L677.0 1246.8L677.8 1252.0L678.6 1238.9L679.4 1253.6L680.2 1231.8L681.0 1250.8L681.8 1237.0L682.6 1249.5L683.4 1221.4L684.2 1055.1L685.0 1245.8L685.8 1252.6L686.6 1247.9L687.4 1255.4L688.2 1223.7L689.0 1255.7L689.8 1240.7L690.6 1254.8L691.4 1247.4L692.2 1254.7L693.0 1191.7L693.8 1252.6L694.6 1227.4L695.4 1253.3L696.2 1225.9L697.0 1252.2L697.8 1183.4L698.6 1253.3L699.4 1217.6L700.2 1250.3L701.0 1248.8L701.8 1155.8L702.6 1246.6L703.4 1253.9L704.2 1243.6L705.0 1253.1L705.8 1246.6L706.6 1254.4L707.4 1243.9L708.2 1254.4L709.0 1214.3L709.8 1253.8L710.6 1248.2L711.4 1252.5L712.2 1237.6L713.0 1253.4L713.8 1207.4L714.6 1253.8L715.4 1250.5L716.2 1254.4L717.0 1245.9L717.8 1255.6L718.6 1251.0L719.4 1256.1L720.2 1144.9L721.0 1258.4L721.8 1254.1L722.6 1256.1L723.4 1247.0L724.2 1253.4L725.0 1247.2L725.8 1252.4L726.6 1233.6L727.4 1189.0L728.2 1247.1L729.0 1250.3L729.8 1234.1L730.6 1250.8L731.4 1238.1L732.2 1250.3L733.0 1243.1L733.8 1251.2L734.6 1197.6L735.4 1252.5L736.2 1249.7L737.0 1252.8L737.8 1249.0L738.6 1252.5L739.4 1247.7L740.2 1251.7L741.0 1243.3L741.8 1252.8L742.6 1242.1L743.4 1204.1L744.2 1244.1L745.0 1252.8L745.8 1249.7L746.6 1117.6L747.4 1245.6L748.2 1249.0L749.0 1238.0L749.8 1251.8L750.6 1246.0L751.4 1125.5L752.2 1216.9L753.0 1251.4L753.8 1234.1L754.6 1248.9L755.4 1248.9L756.2 1251.1L757.0 1231.8L757.8 1250.2L758.6 1146.7L759.4 1250.1L760.2 1246.1L761.0 1254.6L761.8 1245.2L762.6 1133.1L763.4 1247.3L764.2 1252.6L765.0 1247.6L765.8 1250.7L766.6 1243.5L767.4 1250.9L768.2 1245.6L769.0 1253.1L769.8 1250.2L770.6 1254.0L771.4 1216.8L772.2 1255.2L773.0 1251.4L773.8 1254.5L774.6 1249.3L775.4 1253.9L776.2 1228.2L777.0 1255.2L777.8 1252.4L778.6 1253.3L779.4 1245.1L780.2 1253.1L781.0 1246.2L781.8 1230.0L782.6 1248.9L783.4 1251.1L784.2 1248.9L785.0 1250.3L785.8 1249.2L786.6 1250.3L787.4 1251.9L788.2 1251.7L789.0 1251.8L789.8 1251.3L790.6 1251.5L791.4 1246.7L792.2 1250.6L793.0 1216.0L793.8 1250.8L794.6 1255.1L795.4 1249.7L796.2 1256.2L797.0 1249.0L797.8 1256.5L798.6 1245.7L799.4 1254.9L800.2 1250.2L801.0 1227.7L801.8 1249.8L802.6 1256.3L803.4 1249.0L804.2 1256.6L805.0 1253.3L805.8 1230.7L806.6 1251.1L807.4 1255.8L808.2 1249.1L809.0 1255.3L809.8 1249.3L810.6 1235.8L811.4 1249.5L812.2 1252.5L813.0 1247.2L813.8 1255.4L814.6 1251.7L815.4 1254.5L816.2 1244.3L817.0 1255.2L817.8 1246.2L818.6 1251.6L819.4 1253.3L820.2 1252.4L821.0 1237.0L821.8 1253.6L822.6 1250.8L823.4 1255.0L824.2 1249.6L825.0 1255.6L825.8 1228.9L826.6 1255.9L827.4 1244.4L828.2 1255.5L829.0 1252.3L829.8 1256.0L830.6 1252.5L831.4 1255.4L832.2 1242.4L833.0 1254.1L833.8 1243.1L834.6 1255.3L835.4 1232.0L836.2 1248.7L837.0 1255.4L837.8 1248.6L838.6 1252.6L839.4 1255.9L840.2 1245.3L841.0 1255.3L841.8 1248.5L842.6 1252.7L843.4 1255.4L844.2 1250.9L845.0 1249.5L845.8 1252.6L846.6 1255.3L847.4 1255.1L848.2 1250.4L849.0 1255.3L849.8 1249.8L850.6 1255.7L851.4 1249.3L852.2 1253.1L853.0 1252.9L853.8 1253.9L854.6 1245.0L855.4 1254.3L856.2 1254.5L857.0 1255.9L857.8 1252.8L858.6 1244.2L859.4 1253.6L860.2 1255.9L861.0 1248.8L861.8 1250.3L862.6 1247.7L863.4 1256.4L864.2 1256.2L865.0 1255.2L865.8 1244.1L866.6 1254.1L867.4 1253.3L868.2 1248.0L869.0 1249.8L869.8 1254.8L870.6 1256.5L871.4 1254.9L872.2 1255.7L873.0 1255.7L873.8 1253.9L874.6 1257.6L875.4 1251.1L876.2 1257.8L877.0 1253.8L877.8 1257.9L878.6 1254.3L879.4 1257.6L880.2 1254.1L881.0 1244.6L881.8 1254.1L882.6 1258.6L883.4 1255.1L884.2 1258.7L885.0 1253.7L885.8 1258.5L886.6 1254.3L887.4 1257.3L888.2 1251.8L889.0 1239.6L889.8 1255.2L890.6 1254.1L891.4 1250.9L892.2 1250.8L893.0 1256.1L893.8 1253.4L894.6 1246.6L895.4 1255.3L896.2 1246.8L897.0 1253.8L897.8 1256.4L898.6 1255.7L899.4 1256.5L900.2 1252.6L901.0 1250.8L901.8 1255.1L902.6 1247.5L903.4 1255.3L904.2 1256.6L905.0 1244.1L905.8 1256.5L906.6 1252.1L907.4 1255.4L908.2 1256.6L909.0 1251.5L909.8 1255.2L910.6 1254.6L911.4 1244.6L912.2 1255.6L913.0 1259.3L913.8 1255.4L914.6 1258.7L915.4 1246.2L916.2 1257.4L917.0 1253.4L917.8 1257.1L918.6 1244.7L919.4 1257.1L920.2 1253.2L921.0 1257.0L921.8 1242.1L922.6 1256.5L923.4 1244.8L924.2 1256.6L925.0 1244.6L925.8 1256.3L926.6 1252.3L927.4 1256.0L928.2 1249.9L929.0 1255.4L929.8 1250.5L930.6 1254.8L931.4 1242.5L932.2 1254.5L933.0 1250.5L933.8 1254.5L934.6 1255.8L935.4 1255.1L936.2 1256.7L937.0 1248.9L937.8 1252.0L938.6 1252.7L939.4 1244.9L940.2 1253.8L941.0 1253.7L941.8 1254.9L942.6 1253.7L943.4 1256.6L944.2 1256.5L945.0 1256.3L945.8 1256.6L946.6 1256.0L947.4 1252.4L948.2 1246.4L949.0 1254.6L949.8 1251.0L950.6 1256.6L951.4 1254.8L952.2 1248.4L953.0 1255.8L953.8 1250.5L954.6 1256.3L955.4 1254.4L956.2 1255.4L957.0 1252.6L957.8 1254.4L958.6 1256.0L959.4 1248.3L960.2 1251.9L961.0 1250.6L961.8 1254.2L962.6 1256.4L963.4 1254.0L964.2 1254.7L965.0 1248.4L965.8 1255.0L966.6 1249.5L967.4 1252.4L968.2 1253.4L969.0 1255.0L969.8 1250.1L970.6 1257.0L971.4 1252.6L972.2 1256.5L973.0 1251.5L973.8 1254.6L974.6 1246.6L975.4 1257.3L976.2 1244.5L977.0 1256.6L977.8 1248.1L978.6 1256.4L979.4 1252.7L980.2 1256.9L981.0 1252.5L981.8 1255.5L982.6 1254.0L983.4 1250.5L984.2 1256.7L985.0 1240.8L985.8 1253.5L986.6 1256.0L987.4 1248.9L988.2 1250.1L989.0 1244.0L989.8 1256.4L990.6 1254.0L991.4 1255.5L992.2 1254.2L993.0 1253.2L993.8 1246.8L994.6 1255.7L995.4 1256.5L996.2 1255.3L997.0 1254.6L997.8 1255.4L998.6 1251.5L999.4 1255.1L1000.2 1254.5L1001.0 1256.0L1001.8 1255.7L1002.6 1254.2L1003.4 1248.6L1004.2 1254.4L1005.0 1255.3L1005.8 1256.1L1006.6 1255.1L1007.4 1255.6L1008.2 1253.4L1009.0 1251.1L1009.8 1251.1L1010.6 1255.1L1011.4 1254.8L1012.2 1251.1L1013.0 1254.3L1013.8 1244.9L1014.6 1254.5L1015.4 1243.5L1016.2 1251.6L1017.0 1254.2L1017.8 1249.2L1018.6 1255.4L1019.4 1253.3L1020.2 1254.5L1021.0 1256.1L1021.8 1247.0L1022.6 1254.7L1023.4 1243.6L1024.2 1247.2L1025.0 1254.1L1025.8 1245.3L1026.6 1256.0L1027.4 1248.3L1028.2 1254.9L1029.0 1249.8L1029.8 1253.7L1030.6 1247.8L1031.4 1256.4L1032.2 1252.3L1033.0 1256.1L1033.8 1252.0L1034.6 1255.7L1035.4 1243.2L1036.2 1255.1L1037.0 1227.9L1037.8 1254.6L1038.6 1250.3L1039.4 1253.5L1040.2 1240.7L1041.0 1252.9L1041.8 1249.1L1042.6 1255.0L1043.4 1255.5L1044.2 1251.6L1045.0 1245.5L1045.8 1254.6L1046.6 1254.4L1047.4 1248.2L1048.2 1250.8L1049.0 1251.1L1049.8 1253.2L1050.6 1254.9L1051.4 1247.3L1052.2 1254.1L1053.0 1254.4L1053.8 1254.1L1054.6 1255.1L1055.4 1252.7L1056.2 1249.8L1057.0 1244.7L1057.8 1253.2L1058.6 1254.8L1059.4 1252.9L1060.2 1252.8L1061.0 1250.7L1061.8 1252.8L1062.6 1251.4L1063.4 1255.2L1064.2 1249.8L1065.0 1254.2L1065.8 1237.0L1066.6 1255.2L1067.4 1250.7L1068.2 1256.4L1069.0 1246.8L1069.8 1257.2L1070.6 1253.9L1071.4 1257.3L1072.2 1249.3L1073.0 1254.9L1073.8 1247.9L1074.6 1251.8L1075.4 1231.0L1076.2 1251.2L1077.0 1244.0L1077.8 1253.1L1078.6 1249.8L1079.4 1253.6L1080.2 1249.7L1081.0 1252.9L1081.8 1238.9L1082.6 1253.1L1083.4 1232.0L1084.2 1253.3L1085.0 1249.3L1085.8 1253.9L1086.6 1247.7L1087.4 1253.8L1088.2 1249.7L1089.0 1253.5L1089.8 1252.1L1090.6 1249.1L1091.4 1252.1L1092.2 1252.4L1093.0 1248.0L1093.8 1251.9L1094.6 1248.7L1095.4 1252.2L1096.2 1249.2L1097.0 1253.0L1097.8 1248.7L1098.6 1254.0L1099.4 1248.5L1100.2 1233.7L1101.0 1247.6L1101.8 1253.3L1102.6 1249.9L1103.4 1253.4L1104.2 1249.3L1105.0 1253.4L1105.8 1243.1L1106.6 1253.9L1107.4 1246.9L1108.2 1230.7L1109.0 1247.7L1109.8 1255.2L1110.6 1251.8L1111.4 1256.1L1112.2 1247.6L1113.0 1256.2L1113.8 1211.2L1114.6 1256.2L1115.4 1246.8L1116.2 1254.9L1117.0 1243.1L1117.8 1254.3L1118.6 1215.5L1119.4 1252.8L1120.2 1243.9L1121.0 1253.1L1121.8 1249.1L1122.6 1251.8L1123.4 1246.5L1124.2 1233.2L1125.0 1246.6L1125.8 1251.6L1126.6 1248.9L1127.4 1252.4L1128.2 1245.8L1129.0 1253.0L1129.8 1211.7L1130.6 1252.3L1131.4 1237.4L1132.2 1250.8L1133.0 1236.4L1133.8 1203.1L1134.6 1246.6L1135.4 1250.6L1136.2 1251.4L1137.0 1253.8L1137.8 1251.4L1138.6 1219.3L1139.4 1250.6L1140.2 1254.6L1141.0 1251.8L1141.8 1255.8L1142.6 1249.0L1143.4 1230.7L1144.2 1252.8L1145.0 1255.9L1145.8 1252.4L1146.6 1256.0L1147.4 1246.8L1148.2 1224.4L1149.0 1250.1L1149.8 1256.2L1150.6 1247.1L1151.4 1256.1L1152.2 1252.0L1153.0 1254.3L1153.8 1249.9L1154.6 1253.4L1155.4 1250.2L1156.2 1253.5L1157.0 1223.1L1157.8 1255.4L1158.6 1251.9L1159.4 1255.6L1160.2 1250.3L1161.0 1254.8L1161.8 1244.8L1162.6 1253.0L1163.4 1210.5L1164.2 1252.7L1165.0 1242.3L1165.8 1252.9L1166.6 1235.2L1167.4 1253.3L1168.2 1177.1L1169.0 1253.0L1169.8 1242.3L1170.6 1250.8L1171.4 1248.3L1172.2 1250.3L1173.0 1236.8L1173.8 1252.9L1174.6 1248.9L1175.4 1206.2L1176.2 1249.2L1177.0 1255.4L1177.8 1252.2L1178.6 1255.3L1179.4 1243.4L1180.2 1255.4L1181.0 1251.5L1181.8 1254.4L1182.6 1252.0L1183.4 1223.9L1184.2 1250.4L1185.0 1256.9L1185.8 1253.3L1186.6 1256.8L1187.4 1247.8L1188.2 1256.0L1189.0 1250.0L1189.8 1252.3L1190.6 1249.3L1191.4 1252.3L1192.2 1251.8L1193.0 1255.3L1193.8 1251.6L1194.6 1255.5L1195.4 1190.5L1196.2 1254.4L1197.0 1242.4L1197.8 1252.7L1198.6 1232.3L1199.4 1254.3L1200.2 1204.1L1201.0 1254.4L1201.8 1238.2L1202.6 1254.5L1203.4 1250.4L1204.2 1230.7L1205.0 1250.4L1205.8 1253.9L1206.6 1248.8L1207.4 1254.4L1208.2 1243.6L1209.0 1254.3L1209.8 1251.4L1210.6 1202.9L1211.4 1251.2L1212.2 1255.3L1213.0 1236.8L1213.8 1254.6L1214.6 1252.8L1215.4 1197.6L1216.2 1249.2L1217.0 1255.9L1217.8 1239.0L1218.6 1255.0L1219.4 1221.3L1220.2 1254.6L1221.0 1190.2L1221.8 1254.7L1222.6 1241.6L1223.4 1255.3L1224.2 1244.0L1225.0 1254.9L1225.8 1246.1L1226.6 1221.9L1227.4 1247.6L1228.2 1252.9L1229.0 1249.7L1229.8 1252.7L1230.6 1246.4L1231.4 1253.7L1232.2 1209.2L1233.0 1254.1L1233.8 1239.5L1234.6 1252.9L1235.4 1248.0L1236.2 1201.6L1237.0 1249.5L1237.8 1251.9L1238.6 1248.8L1239.4 1252.8L1240.2 1144.4L1241.0 1251.0L1241.8 1233.4L1242.6 1255.0L1243.4 1245.3L1244.2 1256.1L1245.0 1154.3L1245.8 1254.4L1246.6 1252.1L1247.4 1253.4L1248.2 1250.1L1249.0 1254.2L1249.8 1230.1L1250.6 1253.7L1251.4 1236.3L1252.2 1146.7L1253.0 1236.5L1253.8 1254.6L1254.6 1251.6L1255.4 1254.3L1256.2 1246.1L1257.0 1253.8L1257.8 1251.3L1258.6 1202.9L1259.4 1248.6L1260.2 1255.3L1261.0 1249.6L1261.8 1254.6L1262.6 1207.4L1263.4 1254.9L1264.2 1244.1L1265.0 1255.6L1265.8 1252.4L1266.6 1255.8L1267.4 1228.2L1268.2 1254.0L1269.0 1248.7L1269.8 1254.3L1270.6 1246.3L1271.4 1254.7L1272.2 1250.7L1273.0 1256.9L1273.8 1248.0L1274.6 1257.1L1275.4 1193.8L1276.2 1255.7L1277.0 1244.7L1277.8 1254.6L1278.6 1251.0L1279.4 1254.7L1280.2 1251.4L1281.0 1223.1L1281.8 1245.7L1282.6 1255.0L1283.4 1247.3L1284.2 1255.5L1285.0 1243.5L1285.8 1254.6L1286.6 1161.1L1287.4 1254.1L1288.2 1244.9L1289.0 1253.1L1289.8 1250.5L1290.6 1252.6L1291.4 1251.4L1292.2 1253.7L1293.0 1245.1L1293.8 1253.5L1294.6 1251.0L1295.4 1190.7L1296.2 1236.4L1297.0 1253.5L1297.8 1225.4L1298.6 1251.4L1299.4 1245.3L1300.2 1253.5L1301.0 1204.1L1301.8 1254.7L1302.6 1246.8L1303.4 1254.2L1304.2 1218.1L1305.0 1255.6L1305.8 1250.6L1306.6 1256.7L1307.4 1253.0L1308.2 1255.9L1309.0 1251.4L1309.8 1256.4L1310.6 1237.0L1311.4 1257.4L1312.2 1250.3L1313.0 1258.3L1313.8 1249.6L1314.6 1258.1L1315.4 1230.2L1316.2 1254.8L1317.0 1250.4L1317.8 1253.4L1318.6 1252.9L1319.4 1219.8L1320.2 1252.9L1321.0 1253.4L1321.8 1251.4L1322.6 1255.7L1323.4 1251.5L1324.2 1255.8L1325.0 1251.3L1325.8 1256.4L1326.6 1228.2L1327.4 1256.8L1328.2 1252.8L1329.0 1257.0L1329.8 1256.2L1330.6 1258.9L1331.4 1256.2L1332.2 1256.2L1333.0 1232.0L1333.8 1257.1L1334.6 1250.4L1335.4 1255.4L1336.2 1246.7L1337.0 1256.3L1337.8 1252.5L1338.6 1226.4L1339.4 1252.1L1340.2 1254.9L1341.0 1248.8L1341.8 1226.5L1342.6 1253.5L1343.4 1257.6L1344.2 1244.9L1345.0 1256.3L1345.8 1248.5L1346.6 1254.5L1347.4 1250.8L1348.2 1253.7L1349.0 1249.7L1349.8 1214.0L1350.6 1246.5L1351.4 1252.7L1352.2 1246.6L1353.0 1254.0L1353.8 1247.8L1354.6 1226.9L1355.4 1251.6L1356.2 1254.1L1357.0 1246.4L1357.8 1253.3L1358.6 1230.7L1359.4 1253.3L1360.2 1246.9L1361.0 1253.7L1361.8 1247.7L1362.6 1253.5L1363.4 1249.8L1364.2 1251.6L1365.0 1248.6L1365.8 1251.6L1366.6 1251.8L1367.4 1252.3L1368.2 1249.2L1369.0 1252.3L1369.8 1253.1L1370.6 1252.6L1371.4 1253.5L1372.2 1254.4L1373.0 1248.4L1373.8 1254.2L1374.6 1252.6L1375.4 1250.5L1376.2 1252.6L1377.0 1254.8L1377.8 1255.0L1378.6 1253.6L1379.4 1245.3L1380.2 1247.9L1381.0 1248.6L1381.8 1252.2L1382.6 1250.3L1383.4 1255.1L1384.2 1250.5L1385.0 1251.0L1385.8 1252.7L1386.6 1255.6L1387.4 1252.8L1388.2 1248.2L1389.0 1254.8L1389.8 1255.4L1390.6 1228.3L1391.4 1249.1L1392.2 1256.6L1393.0 1255.3L1393.8 1251.6L1394.6 1256.2L1395.4 1250.6L1396.2 1257.2L1397.0 1254.2L1397.8 1257.5L1398.6 1254.3L1399.4 1257.2L1400.2 1252.9L1401.0 1255.3L1401.8 1252.3L1402.6 1255.3L1403.4 1253.4L1404.2 1257.8L1405.0 1253.7L1405.8 1258.4L1406.6 1253.0L1407.4 1258.1L1408.2 1247.6L1409.0 1256.1L1409.8 1253.6L1410.6 1256.1L1411.4 1249.0L1412.2 1256.7L1413.0 1253.9L1413.8 1257.8L1414.6 1257.5L1415.4 1251.5L1416.2 1258.9L1417.0 1256.0L1417.8 1258.7L1418.6 1259.3L1419.4 1253.4L1420.2 1252.6L1421.0 1241.0L1421.8 1253.2L1422.6 1257.9L1423.4 1259.2L1424.2 1255.6L1425.0 1255.4L1425.8 1258.3L1426.6 1255.5L1427.4 1246.8L1428.2 1257.3L1429.0 1259.0L1429.8 1259.3L1430.6 1259.5L1431.4 1259.5L1432.2 1258.7L1433.0 1258.3L1433.8 1257.3L1434.6 1255.1L1435.4 1257.3L1436.2 1257.2L1437.0 1257.2L1437.8 1254.0L1438.6 1256.5L1439.4 1257.6L1440.2 1259.1L1441.0 1255.4L1441.8 1258.7L1442.6 1246.5L1443.4 1253.9L1444.2 1258.9L1445.0 1259.3L1445.8 1256.5L1446.6 1253.2L1447.4 1255.7L1448.2 1259.7L1449.0 1253.4L1449.8 1251.1L1450.6 1254.4L1451.4 1244.5L1452.2 1259.4L1453.0 1256.6L1453.8 1260.4L1454.6 1254.1L1455.4 1261.4L1456.2 1249.8L1457.0 1260.4L1457.8 1250.2L1458.6 1259.2L1459.4 1251.5L1460.2 1260.2L1461.0 1257.5L1461.8 1262.5L1462.6 1257.2L1463.4 1258.3L1464.2 1255.6L1465.0 1258.3L1465.8 1258.3L1466.6 1261.6L1467.4 1257.3L1468.2 1260.6L1469.0 1254.9L1469.8 1260.1L1470.6 1255.5L1471.4 1260.5L1472.2 1256.6L1473.0 1260.3L1473.8 1250.6L1474.6 1259.4L1475.4 1253.8L1476.2 1259.4L1477.0 1244.2L1477.8 1260.4L1478.6 1256.6L1479.4 1260.3L1480.2 1256.8L1481.0 1259.9L1481.8 1247.7L1482.6 1259.6L1483.4 1255.7L1484.2 1259.8L1485.0 1257.3L1485.8 1261.7L1486.6 1248.3L1487.4 1256.9L1488.2 1252.7L1489.0 1260.7L1489.8 1258.8L1490.6 1248.1L1491.4 1258.8L1492.2 1256.2L1493.0 1258.8L1493.8 1258.6L1494.6 1259.2L1495.4 1249.9L1496.2 1260.4L1497.0 1260.9L1497.8 1257.6L1498.6 1262.3L1499.4 1252.5L1500.2 1262.5L1501.0 1258.1L1501.8 1261.7L1502.6 1256.1L1503.4 1260.6L1504.2 1255.2L1505.0 1258.8L1505.8 1256.1L1506.6 1258.8L1507.4 1252.4L1508.2 1259.4L1509.0 1259.7L1509.8 1259.5L1510.6 1259.7L1511.4 1258.9L1512.2 1257.3L1513.0 1258.9L1513.8 1255.4L1514.6 1259.2L1515.4 1260.5L1516.2 1258.1L1517.0 1257.1L1517.8 1259.7L1518.6 1260.8L1519.4 1258.5L1520.2 1257.4L1521.0 1257.1L1521.8 1251.7L1522.6 1260.8L1523.4 1257.5L1524.2 1256.7L1525.0 1260.6L1525.8 1260.7L1526.6 1252.7L1527.4 1257.7L1528.2 1257.6L1529.0 1259.6L1529.8 1258.5L1530.6 1255.9L1531.4 1259.9L1532.2 1260.8L1533.0 1258.4L1533.8 1258.9L1534.6 1257.7L1535.4 1259.8L1536.2 1258.7L1537.0 1260.5L1537.8 1260.7L1538.6 1259.8L1539.4 1259.4L1540.2 1254.0L1541.0 1260.2L1541.8 1256.6L1542.6 1257.7L1543.4 1260.5L1544.2 1260.7L1545.0 1256.7L1545.8 1259.6L1546.6 1254.8L1547.4 1256.7L1548.2 1258.4L1549.0 1259.7L1549.8 1260.3L1550.6 1260.3L1551.4 1259.6L1552.2 1259.9L1553.0 1258.8L1553.8 1258.8L1554.6 1258.2L1555.4 1257.4L1556.2 1257.4L1557.0 1260.3L1557.8 1258.2L1558.6 1260.1L1559.4 1257.8L1560.2 1260.2L1561.0 1258.4L1561.8 1260.4L1562.6 1258.1L1563.4 1258.1L1564.2 1259.9L1565.0 1256.2L1565.8 1259.8L1566.6 1258.4L1567.4 1260.4L1568.2 1260.4L1569.0 1258.3L1569.8 1257.8L1570.6 1258.7L1571.4 1258.1L1572.2 1258.1L1573.0 1257.6L1573.8 1259.7L1574.6 1258.8L1575.4 1259.8L1576.2 1257.9L1577.0 1257.6L1577.8 1259.3L1578.6 1258.7L1579.4 1260.0L1580.2 1259.5L1581.0 1259.3L1581.8 1259.6L1582.6 1254.1L1583.4 1259.1L1584.2 1258.9L1585.0 1255.4L1585.8 1255.4L1586.6 1259.3L1587.4 1260.0L1588.2 1259.2L1589.0 1259.9L1589.8 1257.3L1590.6 1260.0L1591.4 1255.6L1592.2 1257.9L1593.0 1257.2L1593.8 1259.1L1594.6 1259.9L1595.4 1259.4L1596.2 1259.8L1597.0 1259.7L1597.8 1257.0L1598.6 1258.1L1599.4 1258.8L1600.2 1259.6L1601.0 1257.7L1601.8 1258.8L1602.6 1259.8L1603.4 1259.8L1604.2 1257.4L1605.0 1259.4L1605.8 1259.2L1606.6 1259.7L1607.4 1258.9L1608.2 1259.6L1609.0 1259.7L1609.8 1259.8L1610.6 1259.5L1611.4 1259.8L1612.2 1259.7L1613.0 1259.6L1613.8 1260.1L1614.6 1259.8L1615.4 1259.7L1616.2 1258.6L1617.0 1259.5L1617.8 1259.9L1618.6 1259.6L1619.4 1259.2L1620.2 1259.9L1621.0 1259.3L1621.8 1257.7L1622.6 1259.5L1623.4 1258.8L1624.2 1258.6L1625.0 1257.6L1625.8 1258.8L1626.6 1259.0L1627.4 1259.0L1628.2 1258.5L1629.0 1257.3L1629.8 1259.2L1630.6 1259.7L1631.4 1255.5L1632.2 1259.4L1633.0 1259.6L1633.8 1259.3L1634.6 1258.8L1635.4 1259.5L1636.2 1258.6L1637.0 1258.9L1637.8 1259.5L1638.6 1259.7L1639.4 1258.1L1640.2 1257.1L1641.0 1259.4L1641.8 1258.9L1642.6 1259.6L1643.4 1259.1L1644.2 1259.0L1645.0 1258.1L1645.8 1258.3L1646.6 1259.7L1647.4 1259.2L1648.2 1257.8L1649.0 1257.5L1649.8 1258.2L1650.6 1259.2L1651.4 1259.6L1652.2 1259.4L1653.0 1259.2L1653.8 1257.7L1654.6 1258.9L1655.4 1258.8L1656.2 1259.1L1657.0 1258.6L1657.8 1259.6L1658.6 1259.1L1659.4 1258.5L1660.2 1258.9L1661.0 1259.2L1661.8 1259.1L1662.6 1257.1L1663.4 1258.0L1664.2 1259.7L1665.0 1258.9L1665.8 1259.2L1666.6 1258.8L1667.4 1259.6L1668.2 1258.8L1669.0 1258.8L1669.8 1259.1L1670.6 1259.3L1671.4 1258.3L1672.2 1258.4L1673.0 1259.2L1673.8 1259.3L1674.6 1257.5L1675.4 1258.9L1676.2 1258.4L1677.0 1259.3L1677.8 1257.9L1678.6 1259.0L1679.4 1259.2L1680.2 1258.3L1681.0 1259.3L1681.8 1259.0L1682.6 1258.2L1683.4 1257.8L1684.2 1259.0L1685.0 1259.0L1685.8 1259.1L1686.6 1259.0L1687.4 1258.9L1688.2 1258.6L1689.0 1258.4L1689.8 1259.2L1690.6 1257.5L1691.4 1259.1L1692.2 1259.0L1693.0 1258.6L1693.8 1259.2L1694.6 1259.0L1695.4 1258.9L1696.2 1258.7L1697.0 1258.8L1697.8 1258.9L1698.6 1258.6L1699.4 1258.6L1700.2 1258.7L1701.0 1258.7L1701.8 1259.0L1702.6 1259.0L1703.4 1258.6L1704.2 1259.0L1705.0 1258.8L1705.8 1258.8L1706.6 1258.6L1707.4 1259.0L1708.2 1258.6L1709.0 1259.0L1709.8 1258.7L1710.6 1258.8L1711.4 1258.6L1712.2 1258.6L1713.0 1258.8L1713.8 1258.8L1714.6 1258.6L1715.4 1258.8L1716.2 1258.8L1717.0 1258.7L1717.8 1258.9L1718.6 1258.5L1719.4 1258.6L1720.2 1259.0L1721.0 1258.9L1721.8 1258.7L1722.6 1258.7L1723.4 1258.7L1724.2 1258.5L1725.0 1258.9L1725.8 1258.8L1726.6 1258.8L1727.4 1258.7L1728.2 1258.8L1729.0 1258.7" stroke="#0000ff"/>
<path id="s4" d="M202.6 1260.2L203.4 1265.0L204.2 1260.8L205.0 1264.8L205.8 1261.4L206.6 1275.9L207.4 1261.5L208.2 1266.8L209.0 1260.5L209.8 1265.2L210.6 1259.0L211.4 1275.2L212.2 1258.2L213.0 1268.4L213.8 1257.1L214.6 1263.6L215.4 1256.8L216.2 1273.1L217.0 1256.7L217.8 1264.8L218.6 1256.6L219.4 1261.0L220.2 1257.6L221.0 1263.0L221.8 1259.3L222.6 1274.5L223.4 1260.1L224.2 1269.3L225.0 1261.0L225.8 1265.1L226.6 1265.0L227.4 1260.4L228.2 1262.4L229.0 1263.6L229.8 1267.8L230.6 1266.0L231.4 1274.6L232.2 1264.9L233.0 1260.8L233.8 1265.9L234.6 1260.2L235.4 1268.5L236.2 1259.6L237.0 1264.9L237.8 1259.6L238.6 1270.5L239.4 1267.9L240.2 1261.1L241.0 1261.4L241.8 1262.6L242.6 1261.3L243.4 1275.8L244.2 1261.8L245.0 1263.1L245.8 1265.2L246.6 1279.7L247.4 1260.9L248.2 1267.0L249.0 1263.4L249.8 1279.1L250.6 1264.7L251.4 1274.2L252.2 1264.1L253.0 1267.8L253.8 1262.3L254.6 1267.2L255.4 1260.9L256.2 1264.2L257.0 1260.5L257.8 1306.0L258.6 1260.9L259.4 1264.0L260.2 1260.4L261.0 1272.8L261.8 1259.7L262.6 1265.8L263.4 1258.5L264.2 1266.0L265.0 1257.9L265.8 1261.4L266.6 1278.9L267.4 1262.0L268.2 1258.5L269.0 1262.1L269.8 1258.3L270.6 1262.8L271.4 1259.1L272.2 1264.4L273.0 1261.6L273.8 1262.8L274.6 1260.8L275.4 1262.8L276.2 1286.0L277.0 1269.7L277.8 1262.6L278.6 1272.4L279.4 1263.5L280.2 1272.9L281.0 1262.8L281.8 1261.8L282.6 1259.4L283.4 1261.8L284.2 1288.3L285.0 1268.8L285.8 1261.2L286.6 1273.0L287.4 1263.0L288.2 1271.9L289.0 1263.8L289.8 1270.3L290.6 1262.9L291.4 1269.1L292.2 1261.6L293.0 1264.4L293.8 1260.8L294.6 1267.4L295.4 1260.2L296.2 1274.7L297.0 1260.5L297.8 1290.3L298.6 1262.1L299.4 1266.3L300.2 1263.8L301.0 1265.4L301.8 1260.7L302.6 1263.1L303.4 1266.8L304.2 1264.0L305.0 1271.2L305.8 1272.6L306.6 1261.9L307.4 1266.9L308.2 1261.9L309.0 1272.2L309.8 1263.0L310.6 1267.2L311.4 1262.7L312.2 1263.9L313.0 1267.5L313.8 1264.8L314.6 1264.2L315.4 1275.4L316.2 1260.4L317.0 1267.4L317.8 1287.3L318.6 1262.5L319.4 1260.4L320.2 1262.5L321.0 1261.9L321.8 1260.6L322.6 1260.8L323.4 1273.3L324.2 1260.2L325.0 1276.2L325.8 1260.5L326.6 1266.7L327.4 1261.5L328.2 1278.5L329.0 1260.5L329.8 1263.6L330.6 1258.6L331.4 1262.1L332.2 1258.2L333.0 1268.1L333.8 1258.9L334.6 1265.0L335.4 1260.3L336.2 1261.6L337.0 1263.2L337.8 1261.3L338.6 1262.0L339.4 1260.4L340.2 1262.0L341.0 1263.5L341.8 1275.1L342.6 1263.4L343.4 1258.6L344.2 1262.2L345.0 1258.6L345.8 1266.9L346.6 1258.8L347.4 1259.3L348.2 1257.4L349.0 1259.3L349.8 1259.2L350.6 1269.7L351.4 1259.3L352.2 1266.9L353.0 1259.7L353.8 1275.2L354.6 1260.2L355.4 1264.0L356.2 1260.7L357.0 1273.9L357.8 1261.1L358.6 1264.5L359.4 1260.3L360.2 1264.3L361.0 1260.3L361.8 1264.1L362.6 1260.2L363.4 1268.2L364.2 1260.9L365.0 1274.3L365.8 1261.4L366.6 1265.7L367.4 1262.0L368.2 1272.0L369.0 1261.9L369.8 1277.3L370.6 1262.0L371.4 1266.1L372.2 1276.4L373.0 1265.2L373.8 1259.8L374.6 1264.0L375.4 1259.7L376.2 1269.5L377.0 1261.1L377.8 1264.8L378.6 1261.6L379.4 1269.6L380.2 1261.2L381.0 1265.9L381.8 1260.7L382.6 1269.0L383.4 1261.1L384.2 1264.7L385.0 1261.6L385.8 1270.9L386.6 1262.3L387.4 1269.5L388.2 1262.6L389.0 1286.5L389.8 1262.3L390.6 1265.2L391.4 1261.6L392.2 1276.5L393.0 1260.8L393.8 1276.2L394.6 1261.6L395.4 1265.1L396.2 1260.5L397.0 1267.9L397.8 1260.2L398.6 1264.6L399.4 1261.2L400.2 1269.1L401.0 1287.8L401.8 1265.1L402.6 1260.9L403.4 1267.4L404.2 1260.4L405.0 1274.0L405.8 1260.9L406.6 1271.3L407.4 1262.3L408.2 1266.5L409.0 1263.0L409.8 1266.4L410.6 1261.9L411.4 1277.0L412.2 1261.1L413.0 1272.8L413.8 1259.5L414.6 1265.3L415.4 1278.9L416.2 1263.4L417.0 1259.9L417.8 1269.8L418.6 1260.3L419.4 1266.0L420.2 1260.0L421.0 1272.0L421.8 1259.9L422.6 1264.9L423.4 1260.7L424.2 1264.2L425.0 1261.1L425.8 1289.0L426.6 1260.4L427.4 1274.2L428.2 1260.5L429.0 1271.7L429.8 1261.7L430.6 1266.7L431.4 1263.8L432.2 1269.7L433.0 1265.4L433.8 1279.2L434.6 1265.0L435.4 1267.6L436.2 1290.3L437.0 1268.5L437.8 1262.3L438.6 1267.0L439.4 1261.7L440.2 1280.1L441.0 1260.3L441.8 1275.7L442.6 1259.8L443.4 1265.1L444.2 1260.2L445.0 1269.1L445.8 1289.0L446.6 1265.0L447.4 1261.6L448.2 1277.3L449.0 1262.1L449.8 1266.6L450.6 1260.9L451.4 1271.6L452.2 1260.5L453.0 1264.0L453.8 1260.9L454.6 1264.1L455.4 1261.1L456.2 1271.8L457.0 1321.7L457.8 1272.8L458.6 1261.3L459.4 1266.0L460.2 1260.6L461.0 1269.3L461.8 1262.0L462.6 1270.7L463.4 1291.6L464.2 1270.4L465.0 1265.6L465.8 1273.2L466.6 1264.8L467.4 1283.2L468.2 1263.7L469.0 1275.7L469.8 1349.0L470.6 1268.7L471.4 1261.6L472.2 1265.5L473.0 1262.1L473.8 1275.5L474.6 1305.5L475.4 1268.2L476.2 1264.1L477.0 1273.4L477.8 1263.6L478.6 1277.1L479.4 1264.6L480.2 1270.4L481.0 1348.5L481.8 1273.0L482.6 1268.6L483.4 1273.6L484.2 1268.6L485.0 1289.1L485.8 1267.7L486.6 1285.2L487.4 1328.3L488.2 1276.1L489.0 1267.6L489.8 1273.4L490.6 1271.0L491.4 1275.3L492.2 1416.8L493.0 1284.2L493.8 1270.9L494.6 1286.5L495.4 1273.7L496.2 1495.7L497.0 1271.6L497.8 1290.7L498.6 1271.2L499.4 1289.6L500.2 1497.3L501.0 1303.3L501.8 1270.0L502.6 1307.3L503.4 1263.9L504.2 1317.2L505.0 1437.0L505.8 1316.1L506.6 1270.9L507.4 1274.5L508.2 1266.1L509.0 1270.9L509.8 1276.7L510.6 1282.3L511.4 1275.4L512.2 1322.7L513.0 1710.3L513.8 1405.8L514.6 1290.9L515.4 1326.5L516.2 1269.0L517.0 1313.6L517.8 1268.0L518.6 1454.2L519.4 1269.8L520.2 1290.0L521.0 1271.9L521.8 1272.5L522.6 1366.2L523.4 1270.4L524.2 1270.2L525.0 1297.1L525.8 1266.7L526.6 1305.8L527.4 1400.9L528.2 1305.2L529.0 1267.4L529.8 1271.3L530.6 1264.4L531.4 1289.8L532.2 1265.5L533.0 1367.5L533.8 1266.8L534.6 1291.8L535.4 1265.4L536.2 1276.1L537.0 1265.5L537.8 1272.0L538.6 1264.1L539.4 1278.8L540.2 1335.3L541.0 1269.0L541.8 1260.7L542.6 1291.4L543.4 1260.9L544.2 1270.9L545.0 1324.5L545.8 1265.7L546.6 1262.2L547.4 1270.7L548.2 1262.8L549.0 1275.1L549.8 1263.2L550.6 1299.2L551.4 1261.5L552.2 1261.2L553.0 1258.9L553.8 1261.2L554.6 1261.0L555.4 1270.8L556.2 1260.8L557.0 1265.6L557.8 1297.4L558.6 1268.6L559.4 1263.6L560.2 1269.5L561.0 1263.1L561.8 1274.4L562.6 1262.3L563.4 1265.6L564.2 1261.6L565.0 1265.7L565.8 1262.9L566.6 1292.8L567.4 1264.2L568.2 1269.3L569.0 1264.9L569.8 1276.5L570.6 1265.3L571.4 1274.9L572.2 1264.9L573.0 1274.8L573.8 1264.0L574.6 1274.9L575.4 1263.4L576.2 1266.8L577.0 1262.8L577.8 1267.6L578.6 1262.4L579.4 1296.6L580.2 1262.8L581.0 1268.0L581.8 1263.6L582.6 1268.8L583.4 1263.8L584.2 1268.7L585.0 1296.6L585.8 1273.2L586.6 1263.5L587.4 1277.1L588.2 1264.7L589.0 1272.3L589.8 1265.9L590.6 1270.2L591.4 1266.2L592.2 1271.0L593.0 1265.7L593.8 1271.1L594.6 1266.1L595.4 1270.6L596.2 1297.4L597.0 1272.3L597.8 1263.6L598.6 1280.4L599.4 1263.0L600.2 1268.9L601.0 1264.1L601.8 1267.5L602.6 1264.7L603.4 1300.4L604.2 1266.3L605.0 1276.8L605.8 1265.5L606.6 1269.4L607.4 1264.2L608.2 1267.3L609.0 1263.1L609.8 1273.2L610.6 1263.0L611.4 1270.7L612.2 1263.5L613.0 1296.6L613.8 1263.7L614.6 1272.0L615.4 1265.0L616.2 1271.5L617.0 1264.9L617.8 1268.2L618.6 1264.6L619.4 1269.7L620.2 1264.0L621.0 1267.9L621.8 1262.9L622.6 1270.8L623.4 1263.0L624.2 1276.8L625.0 1264.2L625.8 1301.2L626.6 1265.1L627.4 1271.0L628.2 1264.0L629.0 1273.3L629.8 1263.5L630.6 1268.5L631.4 1263.0L632.2 1274.3L633.0 1263.5L633.8 1272.2L634.6 1292.8L635.4 1266.9L636.2 1263.4L637.0 1272.2L637.8 1262.4L638.6 1265.7L639.4 1262.5L640.2 1267.1L641.0 1305.5L641.8 1275.6L642.6 1264.5L643.4 1271.3L644.2 1262.8L645.0 1265.7L645.8 1262.3L646.6 1322.4L647.4 1262.9L648.2 1266.6L649.0 1263.8L649.8 1277.1L650.6 1265.0L651.4 1274.6L652.2 1299.2L653.0 1274.3L653.8 1263.4L654.6 1270.8L655.4 1264.2L656.2 1278.6L657.0 1263.5L657.8 1319.4L658.6 1264.0L659.4 1266.4L660.2 1263.8L661.0 1273.2L661.8 1262.6L662.6 1375.3L663.4 1264.2L664.2 1302.2L665.0 1262.5L665.8 1268.3L666.6 1265.2L667.4 1278.5L668.2 1265.5L669.0 1285.5L669.8 1266.2L670.6 1346.7L671.4 1265.3L672.2 1267.9L673.0 1265.3L673.8 1270.4L674.6 1264.7L675.4 1271.6L676.2 1290.3L677.0 1269.4L677.8 1262.5L678.6 1272.5L679.4 1262.6L680.2 1268.1L681.0 1262.9L681.8 1269.6L682.6 1298.7L683.4 1273.0L684.2 1262.7L685.0 1271.3L685.8 1262.3L686.6 1275.7L687.4 1260.3L688.2 1265.0L689.0 1260.4L689.8 1282.1L690.6 1261.4L691.4 1273.0L692.2 1364.9L693.0 1293.6L693.8 1266.5L694.6 1268.4L695.4 1266.8L696.2 1277.3L697.0 1268.2L697.8 1276.6L698.6 1339.1L699.4 1271.6L700.2 1264.3L701.0 1279.0L701.8 1262.9L702.6 1276.8L703.4 1265.9L704.2 1305.2L705.0 1265.6L705.8 1389.5L706.6 1266.1L707.4 1269.2L708.2 1264.4L709.0 1266.4L709.8 1262.6L710.6 1269.2L711.4 1261.5L712.2 1272.8L713.0 1309.3L713.8 1264.9L714.6 1261.4L715.4 1267.9L716.2 1264.4L717.0 1268.3L717.8 1266.3L718.6 1277.3L719.4 1306.7L720.2 1268.0L721.0 1265.5L721.8 1270.8L722.6 1265.4L723.4 1268.0L724.2 1266.0L725.0 1271.6L725.8 1354.3L726.6 1274.1L727.4 1265.5L728.2 1286.6L729.0 1264.8L729.8 1302.8L730.6 1265.1L731.4 1268.3L732.2 1325.7L733.0 1269.8L733.8 1267.1L734.6 1275.9L735.4 1264.7L736.2 1274.5L737.0 1261.9L737.8 1350.5L738.6 1263.5L739.4 1272.8L740.2 1261.3L741.0 1280.8L741.8 1328.3L742.6 1265.4L743.4 1263.9L744.2 1267.6L745.0 1264.1L745.8 1283.4L746.6 1446.2L747.4 1266.8L748.2 1265.9L749.0 1266.4L749.8 1263.5L750.6 1290.9L751.4 1264.0L752.2 1268.1L753.0 1268.6L753.8 1296.0L754.6 1265.1L755.4 1356.1L756.2 1265.4L757.0 1275.0L757.8 1265.5L758.6 1275.8L759.4 1265.5L760.2 1274.8L761.0 1268.8L761.8 1412.2L762.6 1266.3L763.4 1272.9L764.2 1266.7L765.0 1271.3L765.8 1265.7L766.6 1268.9L767.4 1264.4L768.2 1269.1L769.0 1267.1L769.8 1292.7L770.6 1264.6L771.4 1326.2L772.2 1264.6L773.0 1274.1L773.8 1265.6L774.6 1268.6L775.4 1262.5L776.2 1269.5L777.0 1262.9L777.8 1355.6L778.6 1267.2L779.4 1277.3L780.2 1266.6L781.0 1284.6L781.8 1267.5L782.6 1295.8L783.4 1269.8L784.2 1342.2L785.0 1267.2L785.8 1276.9L786.6 1266.7L787.4 1271.6L788.2 1266.2L789.0 1269.8L789.8 1265.3L790.6 1270.7L791.4 1292.8L792.2 1266.6L793.0 1263.1L793.8 1268.1L794.6 1263.0L795.4 1270.7L796.2 1263.8L797.0 1265.9L797.8 1314.8L798.6 1269.0L799.4 1261.4L800.2 1269.8L801.0 1262.7L801.8 1273.4L802.6 1262.3L803.4 1271.1L804.2 1294.1L805.0 1265.8L805.8 1259.2L806.6 1264.4L807.4 1259.0L808.2 1270.8L809.0 1259.3L809.8 1274.7L810.6 1259.9L811.4 1275.0L812.2 1260.3L813.0 1279.4L813.8 1260.5L814.6 1266.9L815.4 1260.6L816.2 1275.5L817.0 1260.9L817.8 1268.5L818.6 1261.4L819.4 1266.6L820.2 1277.7L821.0 1267.0L821.8 1262.6L822.6 1267.8L823.4 1261.3L824.2 1264.9L825.0 1260.0L825.8 1264.6L826.6 1260.8L827.4 1267.7L828.2 1303.0L829.0 1267.5L829.8 1261.6L830.6 1264.2L831.4 1260.1L832.2 1269.4L833.0 1258.5L833.8 1261.9L834.6 1257.8L835.4 1264.5L836.2 1279.4L837.0 1264.9L837.8 1259.3L838.6 1267.0L839.4 1260.1L840.2 1268.8L841.0 1260.2L841.8 1271.2L842.6 1260.4L843.4 1276.4L844.2 1260.2L845.0 1263.5L845.8 1259.3L846.6 1264.1L847.4 1259.0L848.2 1262.8L849.0 1258.9L849.8 1265.5L850.6 1258.5L851.4 1264.3L852.2 1258.8L853.0 1262.0L853.8 1258.2L854.6 1261.9L855.4 1258.5L856.2 1268.8L857.0 1258.7L857.8 1264.0L858.6 1274.6L859.4 1264.9L860.2 1261.2L861.0 1269.5L861.8 1261.5L862.6 1266.4L863.4 1261.4L864.2 1265.2L865.0 1260.3L865.8 1263.6L866.6 1259.5L867.4 1267.3L868.2 1258.6L869.0 1272.6L869.8 1258.5L870.6 1266.7L871.4 1258.3L872.2 1263.7L873.0 1259.0L873.8 1262.8L874.6 1260.2L875.4 1266.6L876.2 1261.3L877.0 1265.4L877.8 1260.9L878.6 1272.6L879.4 1259.9L880.2 1263.8L881.0 1259.5L881.8 1267.3L882.6 1259.8L883.4 1266.2L884.2 1259.8L885.0 1266.3L885.8 1258.8L886.6 1272.2L887.4 1264.6L888.2 1263.3L889.0 1274.8L889.8 1259.2L890.6 1261.9L891.4 1262.6L892.2 1278.9L893.0 1263.9L893.8 1260.5L894.6 1264.9L895.4 1260.5L896.2 1270.0L897.0 1259.3L897.8 1269.3L898.6 1258.1L899.4 1261.3L900.2 1258.1L901.0 1262.2L901.8 1283.5L902.6 1266.8L903.4 1260.8L904.2 1264.3L905.0 1260.1L905.8 1268.8L906.6 1258.8L907.4 1272.4L908.2 1258.4L909.0 1262.1L909.8 1258.9L910.6 1265.9L911.4 1260.3L912.2 1264.0L913.0 1280.2L913.8 1264.0L914.6 1259.9L915.4 1263.2L916.2 1258.7L917.0 1261.7L917.8 1257.8L918.6 1260.8L919.4 1257.8L920.2 1270.2L921.0 1258.1L921.8 1261.6L922.6 1258.2L923.4 1266.0L924.2 1258.7L925.0 1263.0L925.8 1259.1L926.6 1265.2L927.4 1259.9L928.2 1261.2L929.0 1259.2L929.8 1261.2L930.6 1261.7L931.4 1275.1L932.2 1261.9L933.0 1266.9L933.8 1261.6L934.6 1278.4L935.4 1261.3L936.2 1273.7L937.0 1260.0L937.8 1262.1L938.6 1257.7L939.4 1270.0L940.2 1256.3L941.0 1259.6L941.8 1256.0L942.6 1269.1L943.4 1256.2L944.2 1269.6L945.0 1257.0L945.8 1260.6L946.6 1257.7L947.4 1265.3L948.2 1258.4L949.0 1262.6L949.8 1259.8L950.6 1263.4L951.4 1260.0L952.2 1273.3L953.0 1260.0L953.8 1265.8L954.6 1260.5L955.4 1267.4L956.2 1260.9L957.0 1267.7L957.8 1260.9L958.6 1264.5L959.4 1273.3L960.2 1264.1L961.0 1260.4L961.8 1263.8L962.6 1260.7L963.4 1264.4L964.2 1260.4L965.0 1264.6L965.8 1260.2L966.6 1263.7L967.4 1273.9L968.2 1263.9L969.0 1259.5L969.8 1273.4L970.6 1262.4L971.4 1260.2L972.2 1266.3L973.0 1265.3L973.8 1260.6L974.6 1269.3L975.4 1259.2L976.2 1261.1L977.0 1258.8L977.8 1258.8L978.6 1264.7L979.4 1261.4L980.2 1264.8L981.0 1259.2L981.8 1276.9L982.6 1262.4L983.4 1257.3L984.2 1265.5L985.0 1257.6L985.8 1262.5L986.6 1257.5L987.4 1262.1L988.2 1257.4L989.0 1265.9L989.8 1258.1L990.6 1263.4L991.4 1258.1L992.2 1261.6L993.0 1258.0L993.8 1262.1L994.6 1258.6L995.4 1269.1L996.2 1259.5L997.0 1263.2L997.8 1272.6L998.6 1263.9L999.4 1260.5L1000.2 1273.2L1001.0 1260.1L1001.8 1263.3L1002.6 1259.4L1003.4 1262.8L1004.2 1258.7L1005.0 1263.4L1005.8 1260.4L1006.6 1275.4L1007.4 1261.8L1008.2 1271.5L1009.0 1262.6L1009.8 1276.5L1010.6 1261.0L1011.4 1264.1L1012.2 1285.2L1013.0 1267.6L1013.8 1260.3L1014.6 1274.8L1015.4 1261.0L1016.2 1275.7L1017.0 1261.1L1017.8 1265.8L1018.6 1259.8L1019.4 1262.5L1020.2 1259.0L1021.0 1271.0L1021.8 1258.1L1022.6 1263.5L1023.4 1259.7L1024.2 1285.2L1025.0 1260.5L1025.8 1272.9L1026.6 1261.5L1027.4 1272.6L1028.2 1261.6L1029.0 1264.9L1029.8 1261.2L1030.6 1270.9L1031.4 1260.8L1032.2 1280.2L1033.0 1260.6L1033.8 1273.9L1034.6 1260.4L1035.4 1273.5L1036.2 1260.3L1037.0 1263.9L1037.8 1260.8L1038.6 1264.6L1039.4 1260.7L1040.2 1266.3L1041.0 1261.2L1041.8 1274.0L1042.6 1261.1L1043.4 1260.9L1044.2 1292.8L1045.0 1260.9L1045.8 1260.7L1046.6 1264.6L1047.4 1261.6L1048.2 1271.3L1049.0 1262.7L1049.8 1275.7L1050.6 1263.0L1051.4 1266.8L1052.2 1263.3L1053.0 1267.8L1053.8 1262.7L1054.6 1268.6L1055.4 1260.8L1056.2 1273.9L1057.0 1258.6L1057.8 1265.3L1058.6 1257.3L1059.4 1269.6L1060.2 1257.5L1061.0 1261.7L1061.8 1258.7L1062.6 1260.0L1063.4 1276.4L1064.2 1260.0L1065.0 1260.3L1065.8 1266.2L1066.6 1259.5L1067.4 1263.1L1068.2 1260.1L1069.0 1264.3L1069.8 1260.7L1070.6 1264.6L1071.4 1261.5L1072.2 1264.4L1073.0 1260.8L1073.8 1272.2L1074.6 1259.5L1075.4 1289.0L1076.2 1260.0L1077.0 1272.5L1077.8 1260.6L1078.6 1270.2L1079.4 1260.9L1080.2 1266.3L1081.0 1261.0L1081.8 1291.1L1082.6 1266.7L1083.4 1270.2L1084.2 1264.4L1085.0 1263.2L1085.8 1268.5L1086.6 1268.5L1087.4 1268.0L1088.2 1262.6L1089.0 1269.0L1089.8 1261.6L1090.6 1263.7L1091.4 1266.0L1092.2 1263.7L1093.0 1264.0L1093.8 1259.7L1094.6 1271.1L1095.4 1260.3L1096.2 1268.4L1097.0 1262.0L1097.8 1266.8L1098.6 1263.8L1099.4 1267.4L1100.2 1263.2L1101.0 1266.2L1101.8 1286.5L1102.6 1268.5L1103.4 1260.6L1104.2 1263.8L1105.0 1260.8L1105.8 1264.7L1106.6 1261.2L1107.4 1268.4L1108.2 1262.9L1109.0 1269.1L1109.8 1262.8L1110.6 1266.4L1111.4 1262.0L1112.2 1265.2L1113.0 1260.9L1113.8 1270.8L1114.6 1306.0L1115.4 1274.6L1116.2 1262.7L1117.0 1270.7L1117.8 1262.1L1118.6 1272.0L1119.4 1261.3L1120.2 1310.5L1121.0 1260.5L1121.8 1267.8L1122.6 1261.9L1123.4 1264.5L1124.2 1260.9L1125.0 1271.4L1125.8 1260.1L1126.6 1301.7L1127.4 1260.2L1128.2 1263.6L1129.0 1260.5L1129.8 1267.4L1130.6 1262.9L1131.4 1266.6L1132.2 1263.1L1133.0 1273.4L1133.8 1262.9L1134.6 1270.6L1135.4 1311.3L1136.2 1276.3L1137.0 1262.2L1137.8 1272.4L1138.6 1262.4L1139.4 1267.3L1140.2 1261.0L1141.0 1264.5L1141.8 1261.7L1142.6 1267.2L1143.4 1302.2L1144.2 1268.7L1145.0 1261.2L1145.8 1265.5L1146.6 1261.4L1147.4 1264.7L1148.2 1261.6L1149.0 1265.1L1149.8 1263.0L1150.6 1280.8L1151.4 1263.4L1152.2 1267.3L1153.0 1263.7L1153.8 1316.4L1154.6 1262.0L1155.4 1265.1L1156.2 1260.7L1157.0 1263.2L1157.8 1259.2L1158.6 1269.6L1159.4 1260.5L1160.2 1264.9L1161.0 1282.7L1161.8 1267.4L1162.6 1261.1L1163.4 1264.7L1164.2 1261.4L1165.0 1323.2L1165.8 1262.4L1166.6 1273.1L1167.4 1263.4L1168.2 1265.4L1169.0 1262.9L1169.8 1326.2L1170.6 1260.4L1171.4 1269.9L1172.2 1259.5L1173.0 1270.4L1173.8 1259.1L1174.6 1281.2L1175.4 1260.5L1176.2 1264.2L1177.0 1260.1L1177.8 1295.4L1178.6 1260.9L1179.4 1266.4L1180.2 1261.3L1181.0 1264.9L1181.8 1262.4L1182.6 1282.4L1183.4 1261.8L1184.2 1274.4L1185.0 1260.8L1185.8 1271.0L1186.6 1305.0L1187.4 1268.3L1188.2 1258.7L1189.0 1270.7L1189.8 1259.1L1190.6 1262.5L1191.4 1371.8L1192.2 1283.4L1193.0 1260.3L1193.8 1265.2L1194.6 1259.6L1195.4 1266.3L1196.2 1344.7L1197.0 1266.5L1197.8 1260.5L1198.6 1267.4L1199.4 1260.2L1200.2 1272.7L1201.0 1258.1L1201.8 1266.3L1202.6 1256.7L1203.4 1262.2L1204.2 1306.7L1205.0 1273.2L1205.8 1259.5L1206.6 1273.1L1207.4 1263.0L1208.2 1265.7L1209.0 1263.4L1209.8 1278.7L1210.6 1261.5L1211.4 1276.2L1212.2 1261.3L1213.0 1268.3L1213.8 1262.2L1214.6 1266.8L1215.4 1319.4L1216.2 1279.5L1217.0 1261.7L1217.8 1282.0L1218.6 1262.1L1219.4 1270.5L1220.2 1260.7L1221.0 1266.9L1221.8 1261.4L1222.6 1268.1L1223.4 1329.5L1224.2 1280.2L1225.0 1261.8L1225.8 1275.9L1226.6 1262.1L1227.4 1274.1L1228.2 1262.7L1229.0 1272.7L1229.8 1262.6L1230.6 1274.9L1231.4 1261.2L1232.2 1264.1L1233.0 1261.4L1233.8 1269.2L1234.6 1309.3L1235.4 1267.3L1236.2 1261.4L1237.0 1264.9L1237.8 1261.9L1238.6 1277.6L1239.4 1316.1L1240.2 1278.0L1241.0 1262.5L1241.8 1265.7L1242.6 1261.0L1243.4 1278.9L1244.2 1261.3L1245.0 1265.6L1245.8 1260.0L1246.6 1276.3L1247.4 1260.5L1248.2 1266.0L1249.0 1262.1L1249.8 1339.1L1250.6 1263.7L1251.4 1267.9L1252.2 1260.9L1253.0 1264.2L1253.8 1263.6L1254.6 1299.7L1255.4 1261.2L1256.2 1332.0L1257.0 1261.6L1257.8 1274.5L1258.6 1261.5L1259.4 1264.4L1260.2 1325.7L1261.0 1260.0L1261.8 1257.2L1262.6 1260.0L1263.4 1260.3L1264.2 1269.1L1265.0 1260.4L1265.8 1270.2L1266.6 1260.4L1267.4 1278.9L1268.2 1260.5L1269.0 1262.3L1269.8 1258.0L1270.6 1268.0L1271.4 1258.5L1272.2 1262.1L1273.0 1259.3L1273.8 1312.3L1274.6 1258.9L1275.4 1268.0L1276.2 1258.3L1277.0 1262.3L1277.8 1257.3L1278.6 1260.5L1279.4 1257.0L1280.2 1266.3L1281.0 1257.4L1281.8 1263.6L1282.6 1285.2L1283.4 1265.5L1284.2 1259.7L1285.0 1269.3L1285.8 1259.0L1286.6 1257.3L1287.4 1255.3L1288.2 1257.3L1289.0 1257.8L1289.8 1261.2L1290.6 1257.8L1291.4 1266.1L1292.2 1257.7L1293.0 1262.0L1293.8 1302.2L1294.6 1269.8L1295.4 1255.9L1296.2 1259.8L1297.0 1257.4L1297.8 1262.2L1298.6 1256.8L1299.4 1270.5L1300.2 1257.6L1301.0 1279.3L1301.8 1259.6L1302.6 1262.2L1303.4 1259.2L1304.2 1272.0L1305.0 1259.9L1305.8 1301.2L1306.6 1259.4L1307.4 1265.0L1308.2 1257.9L1309.0 1261.5L1309.8 1257.3L1310.6 1268.2L1311.4 1258.5L1312.2 1263.2L1313.0 1258.0L1313.8 1260.7L1314.6 1257.4L1315.4 1263.8L1316.2 1257.6L1317.0 1291.1L1317.8 1256.6L1318.6 1259.2L1319.4 1256.2L1320.2 1260.9L1321.0 1256.6L1321.8 1261.6L1322.6 1257.9L1323.4 1262.1L1324.2 1258.0L1325.0 1264.9L1325.8 1259.5L1326.6 1265.2L1327.4 1260.2L1328.2 1265.6L1329.0 1259.1L1329.8 1267.4L1330.6 1303.0L1331.4 1260.9L1332.2 1256.6L1333.0 1264.2L1333.8 1257.1L1334.6 1262.7L1335.4 1257.0L1336.2 1270.8L1337.0 1257.4L1337.8 1261.8L1338.6 1278.9L1339.4 1263.3L1340.2 1256.5L1341.0 1261.3L1341.8 1256.9L1342.6 1269.9L1343.4 1257.4L1344.2 1259.9L1345.0 1270.7L1345.8 1260.1L1346.6 1259.2L1347.4 1262.6L1348.2 1269.2L1349.0 1273.6L1349.8 1267.6L1350.6 1264.6L1351.4 1261.9L1352.2 1272.6L1353.0 1257.6L1353.8 1265.9L1354.6 1258.3L1355.4 1263.8L1356.2 1257.5L1357.0 1263.3L1357.8 1257.3L1358.6 1263.8L1359.4 1257.7L1360.2 1269.5L1361.0 1259.0L1361.8 1267.6L1362.6 1258.7L1363.4 1263.7L1364.2 1258.0L1365.0 1275.8L1365.8 1256.5L1366.6 1261.1L1367.4 1257.7L1368.2 1261.8L1369.0 1258.0L1369.8 1268.6L1370.6 1258.7L1371.4 1260.0L1372.2 1257.7L1373.0 1260.0L1373.8 1259.7L1374.6 1260.9L1375.4 1263.9L1376.2 1260.9L1377.0 1261.7L1377.8 1260.4L1378.6 1261.4L1379.4 1261.6L1380.2 1260.9L1381.0 1262.9L1381.8 1263.7L1382.6 1262.5L1383.4 1261.9L1384.2 1259.9L1385.0 1258.9L1385.8 1259.0L1386.6 1262.5L1387.4 1259.1L1388.2 1262.4L1389.0 1260.3L1389.8 1262.5L1390.6 1261.1L1391.4 1259.6L1392.2 1259.2L1393.0 1259.3L1393.8 1264.3L1394.6 1262.5L1395.4 1259.9L1396.2 1260.9L1397.0 1265.4L1397.8 1258.9L1398.6 1265.2L1399.4 1259.2L1400.2 1277.0L1401.0 1259.0L1401.8 1262.9L1402.6 1259.4L1403.4 1265.2L1404.2 1259.0L1405.0 1262.4L1405.8 1258.8L1406.6 1261.8L1407.4 1258.3L1408.2 1263.3L1409.0 1259.0L1409.8 1260.4L1410.6 1263.4L1411.4 1260.4L1412.2 1267.8L1413.0 1259.6L1413.8 1258.5L1414.6 1261.0L1415.4 1260.8L1416.2 1259.2L1417.0 1260.8L1417.8 1267.8L1418.6 1258.4L1419.4 1259.2L1420.2 1261.3L1421.0 1262.1L1421.8 1260.5L1422.6 1260.2L1423.4 1262.1L1424.2 1260.2L1425.0 1262.1L1425.8 1263.2L1426.6 1260.3L1427.4 1268.0L1428.2 1258.3L1429.0 1260.2L1429.8 1258.5L1430.6 1258.8L1431.4 1268.0L1432.2 1261.6L1433.0 1260.4L1433.8 1262.4L1434.6 1260.3L1435.4 1258.2L1436.2 1259.9L1437.0 1262.9L1437.8 1258.5L1438.6 1259.2L1439.4 1259.4L1440.2 1260.3L1441.0 1260.6L1441.8 1263.2L1442.6 1263.6L1443.4 1261.7L1444.2 1259.9L1445.0 1262.1L1445.8 1259.9L1446.6 1258.3L1447.4 1259.2L1448.2 1258.5L1449.0 1257.9L1449.8 1260.3L1450.6 1258.3L1451.4 1260.2L1452.2 1259.6L1453.0 1263.5L1453.8 1258.0L1454.6 1263.6L1455.4 1259.2L1456.2 1257.8L1457.0 1262.4L1457.8 1258.3L1458.6 1258.9L1459.4 1258.1L1460.2 1259.3L1461.0 1261.5L1461.8 1266.1L1462.6 1265.5L1463.4 1260.0L1464.2 1260.8L1465.0 1259.6L1465.8 1259.7L1466.6 1264.0L1467.4 1262.9L1468.2 1261.7L1469.0 1263.9L1469.8 1259.0L1470.6 1263.0L1471.4 1258.1L1472.2 1257.9L1473.0 1258.2L1473.8 1257.5L1474.6 1258.8L1475.4 1257.6L1476.2 1261.2L1477.0 1260.2L1477.8 1257.9L1478.6 1265.4L1479.4 1263.0L1480.2 1257.8L1481.0 1260.5L1481.8 1257.6L1482.6 1261.9L1483.4 1260.3L1484.2 1260.0L1485.0 1257.6L1485.8 1258.6L1486.6 1261.3L1487.4 1258.0L1488.2 1261.8L1489.0 1258.0L1489.8 1257.3L1490.6 1259.0L1491.4 1259.2L1492.2 1261.5L1493.0 1259.2L1493.8 1263.0L1494.6 1258.7L1495.4 1258.0L1496.2 1257.8L1497.0 1265.6L1497.8 1259.2L1498.6 1262.9L1499.4 1261.3L1500.2 1260.9L1501.0 1259.6L1501.8 1262.3L1502.6 1259.7L1503.4 1260.9L1504.2 1262.7L1505.0 1258.8L1505.8 1257.7L1506.6 1259.3L1507.4 1257.7L1508.2 1261.0L1509.0 1263.6L1509.8 1261.5L1510.6 1259.1L1511.4 1259.3L1512.2 1257.5L1513.0 1263.3L1513.8 1259.3L1514.6 1262.1L1515.4 1259.3L1516.2 1257.7L1517.0 1259.6L1517.8 1258.4L1518.6 1258.6L1519.4 1263.8L1520.2 1259.8L1521.0 1265.0L1521.8 1258.1L1522.6 1257.6L1523.4 1257.6L1524.2 1257.9L1525.0 1257.5L1525.8 1258.1L1526.6 1261.5L1527.4 1259.6L1528.2 1258.6L1529.0 1260.3L1529.8 1257.6L1530.6 1258.3L1531.4 1259.9L1532.2 1261.7L1533.0 1257.8L1533.8 1264.5L1534.6 1257.6L1535.4 1258.3L1536.2 1262.1L1537.0 1257.5L1537.8 1262.8L1538.6 1258.4L1539.4 1258.0L1540.2 1260.6L1541.0 1257.9L1541.8 1258.1L1542.6 1257.8L1543.4 1260.8L1544.2 1258.1L1545.0 1259.0L1545.8 1259.4L1546.6 1257.8L1547.4 1258.2L1548.2 1258.7L1549.0 1258.5L1549.8 1262.6L1550.6 1259.0L1551.4 1263.6L1552.2 1258.6L1553.0 1258.5L1553.8 1259.4L1554.6 1259.6L1555.4 1258.8L1556.2 1259.8L1557.0 1259.5L1557.8 1260.0L1558.6 1259.6L1559.4 1260.4L1560.2 1257.9L1561.0 1258.1L1561.8 1258.5L1562.6 1261.5L1563.4 1260.7L1564.2 1257.9L1565.0 1261.2L1565.8 1258.0L1566.6 1258.2L1567.4 1259.2L1568.2 1259.5L1569.0 1259.1L1569.8 1258.1L1570.6 1258.3L1571.4 1259.0L1572.2 1261.5L1573.0 1260.6L1573.8 1259.7L1574.6 1262.7L1575.4 1259.3L1576.2 1259.4L1577.0 1262.0L1577.8 1258.5L1578.6 1258.6L1579.4 1258.7L1580.2 1258.8L1581.0 1260.7L1581.8 1259.8L1582.6 1259.2L1583.4 1260.0L1584.2 1258.5L1585.0 1260.3L1585.8 1261.4L1586.6 1258.4L1587.4 1258.3L1588.2 1261.7L1589.0 1258.3L1589.8 1258.6L1590.6 1258.3L1591.4 1259.7L1592.2 1259.3L1593.0 1261.2L1593.8 1258.4L1594.6 1259.3L1595.4 1258.7L1596.2 1258.8L1597.0 1258.3L1597.8 1259.5L1598.6 1259.3L1599.4 1258.8L1600.2 1259.1L1601.0 1258.6L1601.8 1258.8L1602.6 1259.3L1603.4 1258.9L1604.2 1258.7L1605.0 1259.3L1605.8 1258.8L1606.6 1258.9L1607.4 1258.7L1608.2 1258.7L1609.0 1258.7L1609.8 1258.9L1610.6 1259.3L1611.4 1258.9L1612.2 1258.7L1613.0 1259.5L1613.8 1258.6L1614.6 1259.5L1615.4 1259.6L1616.2 1258.6L1617.0 1259.0L1617.8 1258.7L1618.6 1259.4L1619.4 1258.5L1620.2 1258.7L1621.0 1258.7L1621.8 1258.8L1622.6 1259.3L1623.4 1258.8L1624.2 1260.5L1625.0 1259.0L1625.8 1259.0L1626.6 1260.8L1627.4 1258.5L1628.2 1259.3L1629.0 1258.6L1629.8 1259.2L1630.6 1260.8L1631.4 1259.2L1632.2 1259.5L1633.0 1259.4L1633.8 1257.7L1634.6 1258.7L1635.4 1258.8L1636.2 1258.9L1637.0 1259.1L1637.8 1259.7L1638.6 1259.8L1639.4 1259.5L1640.2 1259.4L1641.0 1259.2L1641.8 1258.5L1642.6 1259.6L1643.4 1258.7L1644.2 1259.1L1645.0 1259.9L1645.8 1260.7L1646.6 1258.9L1647.4 1259.3L1648.2 1259.0L1649.0 1259.0L1649.8 1259.1L1650.6 1259.5L1651.4 1259.2L1652.2 1259.9L1653.0 1259.3L1653.8 1259.5L1654.6 1259.1L1655.4 1258.8L1656.2 1260.5L1657.0 1258.9L1657.8 1259.4L1658.6 1259.4L1659.4 1258.9L1660.2 1259.6L1661.0 1259.1L1661.8 1259.3L1662.6 1257.4L1663.4 1259.3L1664.2 1260.5L1665.0 1259.0L1665.8 1259.1L1666.6 1259.3L1667.4 1259.1L1668.2 1259.0L1669.0 1260.5L1669.8 1259.6L1670.6 1259.0L1671.4 1259.1L1672.2 1259.2L1673.0 1259.0L1673.8 1259.3L1674.6 1259.4L1675.4 1259.2L1676.2 1259.4L1677.0 1259.5L1677.8 1259.6L1678.6 1259.0L1679.4 1259.2L1680.2 1259.5L1681.0 1259.4L1681.8 1259.7L1682.6 1259.5L1683.4 1259.3L1684.2 1259.7L1685.0 1259.6L1685.8 1259.4L1686.6 1259.4L1687.4 1259.3L1688.2 1259.2L1689.0 1259.4L1689.8 1259.3L1690.6 1259.3L1691.4 1259.3L1692.2 1259.6L1693.0 1259.4L1693.8 1259.5L1694.6 1259.4L1695.4 1259.7L1696.2 1259.5L1697.0 1259.6L1697.8 1259.3L1698.6 1259.5L1699.4 1259.4L1700.2 1259.7L1701.0 1259.5L1701.8 1259.5L1702.6 1259.3L1703.4 1259.4L1704.2 1259.3L1705.0 1259.3L1705.8 1259.6L1706.6 1259.6L1707.4 1259.5L1708.2 1259.5L1709.0 1259.6L1709.8 1259.5L1710.6 1259.3L1711.4 1259.6L1712.2 1259.6L1713.0 1259.5L1713.8 1259.4L1714.6 1259.6L1715.4 1259.4L1716.2 1259.6L1717.0 1259.6L1717.8 1259.4L1718.6 1259.3L1719.4 1259.5L1720.2 1259.3L1721.0 1259.5L1721.8 1259.4L1722.6 1259.4L1723.4 1259.6L1724.2 1259.3L1725.0 1259.3L1725.8 1259.5L1726.6 1259.7L1727.4 1259.5L1728.2 1259.4L1729.0 1259.3" stroke="#ff0000"/>
<path id="s5" d="M202.6 2065.6L203.4 2044.7L204.2 2064.7L205.0 2057.2L205.8 2064.7L206.6 2058.9L207.4 2065.6L208.2 2055.1L209.0 2029.2L209.8 2059.4L210.6 2066.0L211.4 2061.3L212.2 2065.2L213.0 2053.0L213.8 2066.7L214.6 2046.4L215.4 2067.5L216.2 2029.2L217.0 2067.6L217.8 2048.3L218.6 2065.4L219.4 2046.6L220.2 2065.2L221.0 2059.8L221.8 2064.2L222.6 2056.2L223.4 2063.6L224.2 2025.2L225.0 2062.9L225.8 2039.6L226.6 2063.7L227.4 2035.4L228.2 2064.9L229.0 2036.2L229.8 2065.6L230.6 2062.2L231.4 2065.5L232.2 2057.4L233.0 2038.1L233.8 2056.8L234.6 2064.3L235.4 2034.7L236.2 2064.5L237.0 2037.0L237.8 2063.8L238.6 2055.4L239.4 2062.8L240.2 2051.6L241.0 2063.6L241.8 2054.3L242.6 2024.7L243.4 2052.8L244.2 2064.4L245.0 2060.7L245.8 2064.0L246.6 2059.9L247.4 2062.6L248.2 2033.7L249.0 2062.8L249.8 2050.8L250.6 2062.6L251.4 2056.4L252.2 2062.3L253.0 2047.2L253.8 2061.3L254.6 2034.8L255.4 2062.5L256.2 2058.0L257.0 2064.0L257.8 2058.4L258.6 2065.1L259.4 2061.4L260.2 2064.0L261.0 2011.2L261.8 2064.7L262.6 2031.9L263.4 2065.7L264.2 2049.7L265.0 2065.8L265.8 2040.1L266.6 2065.2L267.4 2036.0L268.2 2064.1L269.0 2058.5L269.8 2046.9L270.6 2059.8L271.4 2064.7L272.2 2059.0L273.0 2066.6L273.8 2058.5L274.6 2067.3L275.4 2054.3L276.2 2067.5L277.0 2057.4L277.8 2034.5L278.6 2063.6L279.4 2067.1L280.2 2037.6L281.0 2065.9L281.8 2044.4L282.6 2064.7L283.4 2046.1L284.2 2064.5L285.0 2035.8L285.8 2064.2L286.6 2058.0L287.4 2064.9L288.2 2035.9L289.0 2063.8L289.8 2060.0L290.6 2063.0L291.4 2055.5L292.2 2038.1L293.0 2060.6L293.8 2064.6L294.6 2055.9L295.4 2065.7L296.2 2054.5L297.0 2065.7L297.8 2059.8L298.6 2065.7L299.4 2037.1L300.2 2065.3L301.0 2042.2L301.8 2064.8L302.6 2056.2L303.4 2034.3L304.2 2056.8L305.0 2067.1L305.8 2060.0L306.6 2067.7L307.4 2062.8L308.2 2066.6L309.0 2062.5L309.8 2065.9L310.6 2062.1L311.4 2048.2L312.2 2060.2L313.0 2065.2L313.8 2032.8L314.6 2065.0L315.4 2032.8L316.2 2065.1L317.0 2056.2L317.8 2035.5L318.6 2061.4L319.4 2064.8L320.2 2060.1L321.0 2064.4L321.8 2049.5L322.6 2063.8L323.4 2051.9L324.2 2063.4L325.0 2056.8L325.8 2063.8L326.6 2044.4L327.4 2064.6L328.2 2033.1L329.0 2065.7L329.8 2061.3L330.6 2065.9L331.4 2034.0L332.2 2065.4L333.0 2064.3L333.8 2066.1L334.6 2035.0L335.4 2064.5L336.2 2046.6L337.0 2065.4L337.8 2033.4L338.6 2065.2L339.4 2061.2L340.2 2064.3L341.0 2059.7L341.8 2062.9L342.6 2049.4L343.4 2061.4L344.2 2034.1L345.0 2062.0L345.8 2051.7L346.6 2063.2L347.4 2060.4L348.2 2064.6L349.0 2060.7L349.8 2064.5L350.6 2047.4L351.4 2063.8L352.2 2031.6L353.0 2063.3L353.8 2034.2L354.6 2064.7L355.4 2034.4L356.2 2066.3L357.0 2062.5L357.8 2053.2L358.6 2061.3L359.4 2064.5L360.2 2050.0L361.0 2064.5L361.8 2060.8L362.6 2065.4L363.4 2034.8L364.2 2066.5L365.0 2063.3L365.8 2046.9L366.6 2060.7L367.4 2065.9L368.2 2042.9L369.0 2064.7L369.8 2054.3L370.6 2063.6L371.4 2032.3L372.2 2064.2L373.0 2058.5L373.8 2064.1L374.6 2050.7L375.4 2063.1L376.2 2062.0L377.0 2063.8L377.8 2062.0L378.6 2063.2L379.4 2037.3L380.2 2063.4L381.0 2058.7L381.8 2042.4L382.6 2056.5L383.4 2063.0L384.2 2060.4L385.0 2065.5L385.8 2062.9L386.6 2067.1L387.4 2060.0L388.2 2041.9L389.0 2059.4L389.8 2066.8L390.6 2050.8L391.4 2066.5L392.2 2062.5L393.0 2065.9L393.8 2060.0L394.6 2064.8L395.4 2033.7L396.2 2064.7L397.0 2033.3L397.8 2063.9L398.6 2042.9L399.4 2063.2L400.2 2044.4L401.0 2063.9L401.8 2060.4L402.6 2065.3L403.4 2057.0L404.2 2065.4L405.0 2052.3L405.8 2065.1L406.6 2046.4L407.4 2064.1L408.2 2037.3L409.0 2063.7L409.8 2059.7L410.6 2064.3L411.4 2034.1L412.2 2064.8L413.0 2033.4L413.8 2063.4L414.6 2057.4L415.4 2063.0L416.2 2044.4L417.0 2063.6L417.8 2056.7L418.6 2064.9L419.4 2061.7L420.2 2066.5L421.0 2062.7L421.8 2066.7L422.6 2057.1L423.4 2035.0L424.2 2061.7L425.0 2065.4L425.8 2058.1L426.6 2064.3L427.4 2060.9L428.2 2064.5L429.0 2033.9L429.8 2063.9L430.6 2043.1L431.4 2064.0L432.2 2049.7L433.0 2064.4L433.8 2051.5L434.6 2064.6L435.4 2048.6L436.2 2065.6L437.0 2061.8L437.8 2039.3L438.6 2057.0L439.4 2063.0L440.2 2057.4L441.0 2061.9L441.8 2037.6L442.6 2060.9L443.4 2049.4L444.2 2059.7L445.0 2037.3L445.8 2059.3L446.6 2052.0L447.4 2057.6L448.2 2039.9L449.0 2056.1L449.8 2050.0L450.6 2055.1L451.4 2049.6L452.2 2051.8L453.0 2013.0L453.8 2051.9L454.6 2045.1L455.4 2053.0L456.2 2043.2L457.0 2055.2L457.8 2052.0L458.6 2014.0L459.4 2048.3L460.2 2056.7L461.0 2050.8L461.8 2057.3L462.6 2051.0L463.4 2058.0L464.2 2041.8L465.0 2061.3L465.8 2057.0L466.6 2060.0L467.4 2054.9L468.2 2032.2L469.0 2053.4L469.8 2060.4L470.6 2051.0L471.4 2060.4L472.2 2041.5L473.0 2061.3L473.8 2052.3L474.6 2030.5L475.4 2059.1L476.2 2063.3L477.0 2058.9L477.8 2064.7L478.6 2060.2L479.4 2065.2L480.2 1977.6L481.0 2065.6L481.8 2054.1L482.6 2064.6L483.4 2041.7L484.2 2062.6L485.0 2041.8L485.8 2062.2L486.6 2045.4L487.4 2059.2L488.2 2024.7L489.0 2062.5L489.8 1974.3L490.6 2061.2L491.4 2042.2L492.2 2059.2L493.0 2019.7L493.8 2059.8L494.6 2042.7L495.4 2059.6L496.2 2043.4L497.0 2058.1L497.8 2043.2L498.6 1964.9L499.4 2031.3L500.2 2056.6L501.0 2047.4L501.8 2058.1L502.6 2041.6L503.4 2059.6L504.2 1977.6L505.0 2057.0L505.8 2040.9L506.6 2055.5L507.4 2042.7L508.2 2054.4L509.0 2043.9L509.8 1955.8L510.6 2026.5L511.4 2051.8L512.2 2041.9L513.0 2055.7L513.8 1908.5L514.6 2055.0L515.4 2002.5L516.2 2054.3L517.0 2040.8L517.8 1769.1L518.6 2039.4L519.4 2050.7L520.2 2040.5L521.0 2051.8L521.8 1831.1L522.6 2044.8L523.4 1947.0L524.2 2052.2L525.0 1979.7L525.8 2047.9L526.6 2041.9L527.4 2048.6L528.2 2017.6L529.0 1870.3L529.8 1997.3L530.6 2046.9L531.4 2043.4L532.2 2051.9L533.0 1993.1L533.8 2050.1L534.6 1774.7L535.4 2048.9L536.2 1926.6L537.0 2051.2L537.8 1929.5L538.6 2051.9L539.4 2011.9L540.2 2057.5L541.0 2022.4L541.8 2061.6L542.6 1929.1L543.4 2054.3L544.2 1862.5L545.0 2059.4L545.8 2040.8L546.6 2054.7L547.4 2044.7L548.2 2052.6L549.0 2042.5L549.8 2057.0L550.6 1989.0L551.4 1713.5L552.2 1955.8L553.0 2049.6L553.8 2004.5L554.6 2046.0L555.4 1979.7L556.2 2058.9L557.0 1961.6L557.8 1729.4L558.6 1977.6L559.4 2055.2L560.2 2036.5L561.0 2057.6L561.8 2054.6L562.6 2059.1L563.4 1874.4L564.2 2055.5L565.0 2027.2L565.8 2055.5L566.6 2015.7L567.4 2054.3L568.2 2031.9L569.0 2057.2L569.8 1954.8L570.6 2055.8L571.4 2043.8L572.2 2056.4L573.0 2048.0L573.8 2057.4L574.6 2026.3L575.4 2054.0L576.2 2043.2L577.0 1965.4L577.8 2045.5L578.6 2055.2L579.4 2041.2L580.2 2056.6L581.0 1970.5L581.8 2060.4L582.6 2054.5L583.4 2061.6L584.2 2043.5L585.0 2061.0L585.8 1980.6L586.6 2061.0L587.4 2038.6L588.2 2059.4L589.0 2054.8L589.8 2060.0L590.6 2049.3L591.4 2061.3L592.2 2049.3L593.0 2061.7L593.8 1956.1L594.6 2063.6L595.4 2039.6L596.2 2062.3L597.0 2043.4L597.8 2061.9L598.6 1995.1L599.4 2060.7L600.2 2045.7L601.0 2060.6L601.8 2006.4L602.6 2058.8L603.4 2054.7L604.2 2058.3L605.0 2054.4L605.8 2058.5L606.6 2053.8L607.4 2057.2L608.2 2026.9L609.0 2060.5L609.8 1986.2L610.6 2059.3L611.4 2049.1L612.2 2058.5L613.0 2050.8L613.8 2057.1L614.6 2054.3L615.4 2058.1L616.2 2048.9L617.0 2057.4L617.8 2001.4L618.6 2056.2L619.4 2052.4L620.2 2053.7L621.0 2038.9L621.8 2052.0L622.6 2048.1L623.4 2050.0L624.2 2047.7L625.0 1992.8L625.8 2047.3L626.6 2053.7L627.4 2045.3L628.2 2050.2L629.0 1994.3L629.8 2055.2L630.6 2041.6L631.4 2056.8L632.2 2049.6L633.0 2054.2L633.8 2051.7L634.6 2057.2L635.4 2053.6L636.2 2058.7L637.0 2051.3L637.8 2006.4L638.6 2044.8L639.4 2059.1L640.2 2054.3L641.0 2058.6L641.8 2048.5L642.6 2056.9L643.4 2054.3L644.2 2055.2L645.0 2052.0L645.8 1982.4L646.6 2033.3L647.4 2052.5L648.2 2031.1L649.0 2052.8L649.8 2015.8L650.6 2052.6L651.4 2028.4L652.2 2051.3L653.0 2021.5L653.8 2052.4L654.6 1956.6L655.4 2054.0L656.2 2047.2L657.0 2053.8L657.8 2044.1L658.6 2053.5L659.4 2037.6L660.2 2052.6L661.0 2048.2L661.8 2052.2L662.6 2025.4L663.4 2053.6L664.2 2048.0L665.0 2052.0L665.8 2043.7L666.6 2052.1L667.4 2044.2L668.2 2052.1L669.0 2052.7L669.8 2055.4L670.6 2052.7L671.4 2054.1L672.2 2015.3L673.0 2055.7L673.8 2053.1L674.6 2054.1L675.4 2052.8L676.2 2056.2L677.0 2047.4L677.8 2059.0L678.6 2056.3L679.4 2059.6L680.2 2006.4L681.0 2060.0L681.8 2050.2L682.6 2059.2L683.4 2040.1L684.2 1992.5L685.0 2040.2L685.8 2058.8L686.6 2042.1L687.4 2059.5L688.2 2056.4L689.0 2062.7L689.8 2047.5L690.6 1975.1L691.4 2049.8L692.2 2058.6L693.0 2056.2L693.8 2059.6L694.6 2046.3L695.4 2060.9L696.2 2058.2L697.0 2059.8L697.8 2054.5L698.6 2000.6L699.4 2051.0L700.2 2061.1L701.0 2041.0L701.8 2059.7L702.6 2052.5L703.4 2059.7L704.2 2047.3L705.0 2060.7L705.8 2047.2L706.6 2060.0L707.4 2010.2L708.2 2062.0L709.0 2057.9L709.8 2059.9L710.6 2057.0L711.4 2059.4L712.2 2040.9L713.0 1997.6L713.8 2040.9L714.6 2059.4L715.4 2052.3L716.2 2059.5L717.0 2052.7L717.8 1987.0L718.6 2047.0L719.4 2058.3L720.2 2048.3L721.0 2056.4L721.8 2045.4L722.6 1993.8L723.4 2054.0L724.2 2055.3L725.0 2052.2L725.8 2054.2L726.6 2050.5L727.4 2049.2L728.2 2037.0L729.0 2005.2L729.8 2048.4L730.6 2052.8L731.4 2034.1L732.2 2053.9L733.0 2050.9L733.8 2053.4L734.6 1984.7L735.4 2050.6L736.2 2046.2L737.0 2049.3L737.8 2045.3L738.6 2049.4L739.4 2005.2L740.2 2049.4L741.0 2043.5L741.8 2048.1L742.6 2046.1L743.4 2045.0L744.2 2043.1L745.0 2046.4L745.8 2043.1L746.6 1958.6L747.4 2026.8L748.2 2045.2L749.0 2041.6L749.8 2043.2L750.6 2039.9L751.4 2052.6L752.2 2041.8L753.0 2052.5L753.8 2045.1L754.6 1989.5L755.4 2048.9L756.2 2051.4L757.0 2045.4L757.8 2050.4L758.6 2049.9L759.4 2052.6L760.2 2040.6L761.0 1991.3L761.8 2045.3L762.6 2059.4L763.4 2049.5L764.2 2059.2L765.0 2047.1L765.8 2058.2L766.6 1985.4L767.4 2057.3L768.2 2031.5L769.0 2055.0L769.8 2046.4L770.6 2053.6L771.4 1937.6L772.2 2052.1L773.0 2010.4L773.8 2050.6L774.6 2048.9L775.4 2047.9L776.2 2040.1L777.0 2052.4L777.8 2036.9L778.6 2049.6L779.4 2042.1L780.2 2047.2L781.0 1900.2L781.8 2051.0L782.6 2024.4L783.4 2047.8L784.2 2036.4L785.0 2048.1L785.8 1915.4L786.6 2051.8L787.4 2044.1L788.2 2050.5L789.0 2035.8L789.8 1981.1L790.6 2045.1L791.4 2038.5L792.2 2024.8L793.0 2036.9L793.8 2035.2L794.6 2039.1L795.4 2037.0L796.2 1989.7L797.0 2048.5L797.8 2053.5L798.6 2047.1L799.4 2054.3L800.2 2052.9L801.0 2000.1L801.8 2041.1L802.6 2058.1L803.4 2051.7L804.2 2057.9L805.0 2050.9L805.8 2055.9L806.6 1971.0L807.4 2058.1L808.2 2050.9L809.0 2056.2L809.8 2054.5L810.6 2056.9L811.4 2034.3L812.2 2056.9L813.0 1996.3L813.8 2060.4L814.6 2044.1L815.4 2062.9L816.2 2049.6L817.0 2063.8L817.8 2057.7L818.6 2062.8L819.4 2029.2L820.2 2062.4L821.0 2055.8L821.8 2062.7L822.6 2050.9L823.4 2064.1L824.2 2052.2L825.0 2062.6L825.8 2000.4L826.6 2061.3L827.4 2032.9L828.2 2062.2L829.0 2038.2L829.8 2063.1L830.6 2049.6L831.4 2014.0L832.2 2049.8L833.0 2063.4L833.8 2054.6L834.6 2062.6L835.4 2061.5L836.2 2064.2L837.0 2061.5L837.8 2014.0L838.6 2048.1L839.4 2061.5L840.2 2059.4L841.0 2063.1L841.8 2047.0L842.6 2063.1L843.4 2059.4L844.2 2062.0L845.0 2057.8L845.8 2064.2L846.6 2001.9L847.4 2064.5L848.2 2050.5L849.0 2061.3L849.8 2051.7L850.6 2059.9L851.4 2049.7L852.2 2060.6L853.0 2015.3L853.8 2061.6L854.6 2045.7L855.4 2062.5L856.2 2059.0L857.0 2062.1L857.8 2055.5L858.6 2038.1L859.4 2055.2L860.2 2062.2L861.0 2046.0L861.8 2062.4L862.6 2053.2L863.4 2061.6L864.2 2052.7L865.0 2020.9L865.8 2049.9L866.6 2061.1L867.4 2056.6L868.2 2063.0L869.0 2051.4L869.8 2064.4L870.6 2058.9L871.4 2064.9L872.2 2046.2L873.0 2064.1L873.8 2044.5L874.6 2064.0L875.4 2016.6L876.2 2061.5L877.0 2051.8L877.8 2059.9L878.6 2052.0L879.4 2061.1L880.2 2014.0L881.0 2062.6L881.8 2058.9L882.6 2061.3L883.4 2062.1L884.2 2064.4L885.0 1988.5L885.8 2062.0L886.6 2045.7L887.4 2063.8L888.2 2054.0L889.0 2063.5L889.8 2059.6L890.6 2062.1L891.4 2041.6L892.2 2059.9L893.0 2018.3L893.8 2061.1L894.6 2056.2L895.4 2062.8L896.2 2056.8L897.0 2064.1L897.8 2056.9L898.6 2064.1L899.4 2054.6L900.2 2062.1L901.0 2056.7L901.8 2061.4L902.6 2041.3L903.4 2061.1L904.2 2054.6L905.0 2061.7L905.8 2058.4L906.6 2062.4L907.4 2050.7L908.2 2062.5L909.0 2047.2L909.8 2062.5L910.6 2058.8L911.4 2061.9L912.2 2049.1L913.0 2016.6L913.8 2057.8L914.6 2063.6L915.4 2048.6L916.2 2064.0L917.0 2048.9L917.8 2064.2L918.6 2053.8L919.4 2029.2L920.2 2053.9L921.0 2063.2L921.8 2048.9L922.6 2063.2L923.4 2056.3L924.2 2063.6L925.0 2050.9L925.8 2064.5L926.6 2058.8L927.4 2019.3L928.2 2051.3L929.0 2064.3L929.8 2055.0L930.6 2064.5L931.4 2054.9L932.2 2064.8L933.0 2065.3L933.8 2068.0L934.6 2065.3L935.4 2043.6L936.2 2058.6L937.0 2062.7L937.8 2052.0L938.6 2062.1L939.4 2057.8L940.2 2063.0L941.0 2050.5L941.8 2063.5L942.6 2058.3L943.4 2033.0L944.2 2055.2L945.0 2062.8L945.8 2052.0L946.6 2062.1L947.4 2054.8L948.2 2061.2L949.0 2049.1L949.8 2019.6L950.6 2056.0L951.4 2060.8L952.2 2051.3L953.0 2062.6L953.8 2047.8L954.6 2061.6L955.4 2055.9L956.2 2061.8L957.0 2029.2L957.8 2062.7L958.6 2057.3L959.4 2064.8L960.2 2060.4L961.0 2065.1L961.8 2050.5L962.6 2017.3L963.4 2055.4L964.2 2062.1L965.0 2055.6L965.8 2063.4L966.6 2060.5L967.4 2063.6L968.2 2029.2L969.0 2062.8L969.8 2058.9L970.6 2061.6L971.4 2051.2L972.2 2060.9L973.0 2044.9L973.8 2061.7L974.6 2055.3L975.4 2061.3L976.2 2016.6L977.0 2059.8L977.8 2056.7L978.6 2061.3L979.4 2002.6L980.2 2059.6L981.0 2049.0L981.8 2060.5L982.6 2003.4L983.4 2059.6L984.2 2053.4L985.0 2058.9L985.8 2047.9L986.6 2058.5L987.4 2041.4L988.2 2058.1L989.0 2055.2L989.8 2058.5L990.6 2021.6L991.4 2059.2L992.2 2049.2L993.0 2060.0L993.8 2054.6L994.6 2061.6L995.4 2058.9L996.2 2062.1L997.0 2057.3L997.8 2031.7L998.6 2059.3L999.4 2062.8L1000.2 2059.0L1001.0 2062.2L1001.8 2048.4L1002.6 2061.8L1003.4 2051.9L1004.2 2061.6L1005.0 2059.1L1005.8 2062.5L1006.6 2022.4L1007.4 2061.9L1008.2 2056.9L1009.0 2062.0L1009.8 2058.5L1010.6 2061.2L1011.4 2051.8L1012.2 2061.4L1013.0 2057.9L1013.8 2061.2L1014.6 2053.0L1015.4 2062.1L1016.2 2017.8L1017.0 2061.0L1017.8 2043.3L1018.6 2058.9L1019.4 2048.0L1020.2 2059.0L1021.0 2043.5L1021.8 2060.3L1022.6 2047.4L1023.4 2016.0L1024.2 2050.3L1025.0 2060.4L1025.8 2056.8L1026.6 2060.8L1027.4 2048.8L1028.2 2020.4L1029.0 2053.7L1029.8 2060.4L1030.6 2056.4L1031.4 2059.7L1032.2 2051.6L1033.0 2061.2L1033.8 2058.1L1034.6 2036.8L1035.4 2054.3L1036.2 2061.2L1037.0 2054.0L1037.8 2060.7L1038.6 2053.0L1039.4 2060.7L1040.2 2029.2L1041.0 2062.0L1041.8 2059.1L1042.6 2062.2L1043.4 2058.6L1044.2 2061.6L1045.0 2058.1L1045.8 2061.6L1046.6 2050.8L1047.4 2008.5L1048.2 2057.6L1049.0 2060.3L1049.8 2056.5L1050.6 2061.8L1051.4 2059.7L1052.2 2064.1L1053.0 2052.3L1053.8 2062.8L1054.6 2056.4L1055.4 2061.8L1056.2 2026.7L1057.0 2061.3L1057.8 2053.2L1058.6 2060.7L1059.4 2058.7L1060.2 2061.9L1061.0 2060.1L1061.8 2063.1L1062.6 2052.0L1063.4 2063.0L1064.2 2059.3L1065.0 2062.8L1065.8 2052.5L1066.6 2061.3L1067.4 1999.6L1068.2 2059.3L1069.0 2047.7L1069.8 2061.5L1070.6 2039.1L1071.4 2062.2L1072.2 2063.3L1073.0 2065.0L1073.8 2000.6L1074.6 2063.7L1075.4 2053.1L1076.2 2062.4L1077.0 2058.5L1077.8 2061.9L1078.6 2050.9L1079.4 2062.1L1080.2 2057.7L1081.0 2062.4L1081.8 2054.9L1082.6 2062.3L1083.4 2043.1L1084.2 2062.5L1085.0 2056.9L1085.8 2062.9L1086.6 2052.6L1087.4 2063.3L1088.2 2058.8L1089.0 2062.2L1089.8 2054.9L1090.6 2034.3L1091.4 2057.1L1092.2 2060.4L1093.0 2054.8L1093.8 2024.9L1094.6 2049.7L1095.4 2060.7L1096.2 2049.6L1097.0 2060.0L1097.8 2057.0L1098.6 2060.7L1099.4 2027.9L1100.2 2060.5L1101.0 2050.9L1101.8 2061.2L1102.6 2058.5L1103.4 2062.8L1104.2 2058.4L1105.0 2062.8L1105.8 2059.1L1106.6 2008.5L1107.4 2057.8L1108.2 2061.5L1109.0 2048.9L1109.8 2062.3L1110.6 2056.7L1111.4 2062.3L1112.2 2058.5L1113.0 2061.9L1113.8 2057.7L1114.6 2044.4L1115.4 2057.5L1116.2 2062.7L1117.0 2053.9L1117.8 2062.5L1118.6 2056.5L1119.4 2061.8L1120.2 2057.9L1121.0 2062.6L1121.8 2060.0L1122.6 2063.9L1123.4 2015.8L1124.2 2063.6L1125.0 2057.0L1125.8 2062.5L1126.6 2051.8L1127.4 2062.4L1128.2 2057.7L1129.0 2061.7L1129.8 2044.4L1130.6 2062.5L1131.4 2056.0L1132.2 2063.3L1133.0 2057.9L1133.8 2064.5L1134.6 2053.0L1135.4 2064.7L1136.2 2060.8L1137.0 2063.8L1137.8 2030.7L1138.6 2064.0L1139.4 2055.6L1140.2 2063.0L1141.0 2054.4L1141.8 2062.5L1142.6 2055.0L1143.4 2061.8L1144.2 2057.9L1145.0 2061.9L1145.8 2056.7L1146.6 2061.9L1147.4 2030.5L1148.2 2061.8L1149.0 2059.6L1149.8 2063.2L1150.6 2057.7L1151.4 2063.1L1152.2 2059.6L1153.0 2002.4L1153.8 2056.2L1154.6 2064.0L1155.4 2056.5L1156.2 2064.7L1157.0 2054.6L1157.8 2064.5L1158.6 2060.8L1159.4 2064.2L1160.2 2046.9L1161.0 2062.4L1161.8 2058.1L1162.6 2062.0L1163.4 2054.2L1164.2 2061.9L1165.0 2058.4L1165.8 2033.3L1166.6 2059.5L1167.4 2063.6L1168.2 2058.0L1169.0 2062.7L1169.8 2056.1L1170.6 2062.0L1171.4 2058.3L1172.2 2061.4L1173.0 2052.9L1173.8 2060.9L1174.6 2036.8L1175.4 2060.5L1176.2 2056.8L1177.0 2059.9L1177.8 2047.0L1178.6 2061.2L1179.4 2058.1L1180.2 2060.9L1181.0 2055.4L1181.8 2060.9L1182.6 2022.9L1183.4 2059.5L1184.2 2036.3L1185.0 2060.7L1185.8 2054.8L1186.6 2060.2L1187.4 2053.3L1188.2 2061.0L1189.0 2025.7L1189.8 2061.6L1190.6 2058.3L1191.4 2062.0L1192.2 2058.4L1193.0 2062.7L1193.8 2056.6L1194.6 2063.2L1195.4 2058.7L1196.2 2063.4L1197.0 2058.6L1197.8 2044.4L1198.6 2057.6L1199.4 2061.0L1200.2 2056.3L1201.0 2061.7L1201.8 2058.4L1202.6 2062.9L1203.4 2059.0L1204.2 2015.5L1205.0 2057.7L1205.8 2064.5L1206.6 2059.0L1207.4 2063.8L1208.2 2059.7L1209.0 2063.6L1209.8 2058.1L1210.6 2038.1L1211.4 2055.3L1212.2 2062.4L1213.0 2059.3L1213.8 2063.9L1214.6 2060.7L1215.4 2064.7L1216.2 2058.9L1217.0 2064.6L1217.8 2054.4L1218.6 2063.4L1219.4 2059.8L1220.2 2063.3L1221.0 2057.1L1221.8 2041.1L1222.6 2058.3L1223.4 2064.6L1224.2 2057.9L1225.0 2064.8L1225.8 2058.9L1226.6 2064.2L1227.4 2054.6L1228.2 2063.6L1229.0 2046.9L1229.8 2062.6L1230.6 2057.2L1231.4 2063.3L1232.2 2060.0L1233.0 2064.3L1233.8 2060.9L1234.6 2065.6L1235.4 2045.7L1236.2 2066.0L1237.0 2052.6L1237.8 2065.4L1238.6 2061.7L1239.4 2065.1L1240.2 2055.6L1241.0 2063.2L1241.8 2038.1L1242.6 2063.0L1243.4 2059.5L1244.2 2062.9L1245.0 2058.6L1245.8 2063.6L1246.6 2058.5L1247.4 2045.7L1248.2 2060.3L1249.0 2064.8L1249.8 2059.4L1250.6 2062.8L1251.4 2058.0L1252.2 2061.4L1253.0 2057.6L1253.8 2061.3L1254.6 2061.7L1255.4 2058.7L1256.2 2061.7L1257.0 2060.7L1257.8 2061.4L1258.6 2060.6L1259.4 2060.7L1260.2 2061.0L1261.0 2059.0L1261.8 2060.3L1262.6 2061.7L1263.4 2060.3L1264.2 2061.7L1265.0 2061.1L1265.8 2062.6L1266.6 2061.4L1267.4 2062.6L1268.2 2057.1L1269.0 2061.7L1269.8 2057.1L1270.6 2058.0L1271.4 2061.8L1272.2 2060.1L1273.0 2061.8L1273.8 2061.9L1274.6 2061.3L1275.4 2060.0L1276.2 2062.9L1277.0 2062.0L1277.8 2062.6L1278.6 2062.2L1279.4 2061.5L1280.2 2061.9L1281.0 2061.0L1281.8 2061.9L1282.6 2061.9L1283.4 2062.4L1284.2 2058.2L1285.0 2061.7L1285.8 2061.8L1286.6 2062.4L1287.4 2061.7L1288.2 2061.7L1289.0 2063.1L1289.8 2062.4L1290.6 2061.9L1291.4 2059.4L1292.2 2061.9L1293.0 2059.4L1293.8 2059.8L1294.6 2059.6L1295.4 2063.6L1296.2 2060.0L1297.0 2063.3L1297.8 2059.5L1298.6 2062.8L1299.4 2034.3L1300.2 2058.5L1301.0 2060.7L1301.8 2061.5L1302.6 2060.9L1303.4 2058.8L1304.2 2063.0L1305.0 2063.2L1305.8 2062.0L1306.6 2060.5L1307.4 2062.0L1308.2 2063.4L1309.0 2063.7L1309.8 2061.0L1310.6 2061.8L1311.4 2063.4L1312.2 2061.9L1313.0 2063.6L1313.8 2062.1L1314.6 2059.8L1315.4 2062.1L1316.2 2059.9L1317.0 2062.9L1317.8 2058.6L1318.6 2062.1L1319.4 2060.3L1320.2 2062.1L1321.0 2056.2L1321.8 2060.3L1322.6 2063.0L1323.4 2059.3L1324.2 2063.0L1325.0 2060.8L1325.8 2063.8L1326.6 2062.4L1327.4 2063.4L1328.2 2063.6L1329.0 2061.6L1329.8 2062.2L1330.6 2060.5L1331.4 2062.2L1332.2 2060.9L1333.0 2062.5L1333.8 2058.9L1334.6 2059.3L1335.4 2060.4L1336.2 2063.2L1337.0 2062.6L1337.8 2063.7L1338.6 2062.3L1339.4 2060.9L1340.2 2062.3L1341.0 2062.2L1341.8 2063.9L1342.6 2060.4L1343.4 2063.0L1344.2 2061.5L1345.0 2063.1L1345.8 2062.3L1346.6 2062.7L1347.4 2061.3L1348.2 2062.7L1349.0 2063.1L1349.8 2062.7L1350.6 2063.1L1351.4 2061.6L1352.2 2062.7L1353.0 2064.3L1353.8 2063.9L1354.6 2059.9L1355.4 2062.6L1356.2 2063.9L1357.0 2064.8L1357.8 2064.9L1358.6 2064.8L1359.4 2063.4L1360.2 2061.0L1361.0 2063.4L1361.8 2058.8L1362.6 2060.9L1363.4 2064.4L1364.2 2063.9L1365.0 2061.9L1365.8 2065.1L1366.6 2062.2L1367.4 2060.7L1368.2 2065.4L1369.0 2062.4L1369.8 2064.5L1370.6 2061.2L1371.4 2065.7L1372.2 2066.0L1373.0 2066.2L1373.8 2062.7L1374.6 2064.2L1375.4 2062.0L1376.2 2064.2L1377.0 2063.4L1377.8 2062.7L1378.6 2065.2L1379.4 2063.9L1380.2 2065.9L1381.0 2063.4L1381.8 2063.4L1382.6 2058.7L1383.4 2064.9L1384.2 2064.2L1385.0 2066.1L1385.8 2065.5L1386.6 2057.4L1387.4 2066.7L1388.2 2066.8L1389.0 2065.5L1389.8 2064.9L1390.6 2063.3L1391.4 2064.9L1392.2 2062.6L1393.0 2062.7L1393.8 2065.4L1394.6 2066.8L1395.4 2065.4L1396.2 2067.2L1397.0 2066.2L1397.8 2065.0L1398.6 2067.4L1399.4 2066.8L1400.2 2066.8L1401.0 2067.1L1401.8 2067.0L1402.6 2066.9L1403.4 2067.6L1404.2 2057.6L1405.0 2065.4L1405.8 2056.3L1406.6 2066.0L1407.4 2061.9L1408.2 2064.8L1409.0 2066.1L1409.8 2068.0L1410.6 2067.4L1411.4 2067.6L1412.2 2067.4L1413.0 2067.4L1413.8 2066.3L1414.6 2064.4L1415.4 2058.0L1416.2 2068.5L1417.0 2060.9L1417.8 2068.3L1418.6 2061.2L1419.4 2058.0L1420.2 2062.6L1421.0 2068.3L1421.8 2068.7L1422.6 2067.1L1423.4 2067.9L1424.2 2062.0L1425.0 2068.7L1425.8 2068.4L1426.6 2065.5L1427.4 2066.3L1428.2 2060.3L1429.0 2065.9L1429.8 2068.0L1430.6 2055.2L1431.4 2067.9L1432.2 2059.0L1433.0 2070.0L1433.8 2061.2L1434.6 2070.0L1435.4 2065.7L1436.2 2069.5L1437.0 2056.7L1437.8 2069.4L1438.6 2067.4L1439.4 2062.7L1440.2 2069.1L1441.0 2067.9L1441.8 2070.2L1442.6 2068.6L1443.4 2064.9L1444.2 2065.8L1445.0 2069.6L1445.8 2071.3L1446.6 2068.2L1447.4 2071.5L1448.2 2067.0L1449.0 2055.1L1449.8 2068.0L1450.6 2072.0L1451.4 2068.1L1452.2 2071.8L1453.0 2062.8L1453.8 2071.5L1454.6 2066.8L1455.4 2055.9L1456.2 2069.8L1457.0 2064.9L1457.8 2070.2L1458.6 2063.6L1459.4 2069.9L1460.2 2068.9L1461.0 2070.5L1461.8 2068.7L1462.6 2067.2L1463.4 2072.4L1464.2 2061.6L1465.0 2072.8L1465.8 2069.6L1466.6 2068.6L1467.4 2070.0L1468.2 2068.5L1469.0 2059.3L1469.8 2068.0L1470.6 2070.2L1471.4 2063.3L1472.2 2069.8L1473.0 2065.1L1473.8 2060.2L1474.6 2067.3L1475.4 2069.3L1476.2 2062.7L1477.0 2067.4L1477.8 2069.6L1478.6 2065.8L1479.4 2070.7L1480.2 2066.9L1481.0 2070.3L1481.8 2066.2L1482.6 2069.9L1483.4 2069.6L1484.2 2056.7L1485.0 2065.1L1485.8 2067.6L1486.6 2065.8L1487.4 2069.9L1488.2 2063.6L1489.0 2069.4L1489.8 2066.8L1490.6 2069.9L1491.4 2069.6L1492.2 2070.2L1493.0 2062.4L1493.8 2065.0L1494.6 2063.0L1495.4 2066.7L1496.2 2063.6L1497.0 2070.7L1497.8 2064.7L1498.6 2060.5L1499.4 2066.6L1500.2 2069.6L1501.0 2060.7L1501.8 2069.0L1502.6 2063.7L1503.4 2068.5L1504.2 2067.7L1505.0 2070.3L1505.8 2060.9L1506.6 2069.7L1507.4 2069.1L1508.2 2070.6L1509.0 2069.4L1509.8 2069.8L1510.6 2070.6L1511.4 2066.7L1512.2 2070.5L1513.0 2067.3L1513.8 2063.0L1514.6 2070.7L1515.4 2069.8L1516.2 2068.5L1517.0 2064.8L1517.8 2066.2L1518.6 2069.4L1519.4 2068.6L1520.2 2065.9L1521.0 2068.6L1521.8 2069.5L1522.6 2070.7L1523.4 2065.8L1524.2 2065.6L1525.0 2070.0L1525.8 2065.0L1526.6 2070.4L1527.4 2068.1L1528.2 2068.2L1529.0 2070.2L1529.8 2067.3L1530.6 2068.3L1531.4 2068.2L1532.2 2062.0L1533.0 2063.7L1533.8 2066.1L1534.6 2068.2L1535.4 2066.0L1536.2 2066.9L1537.0 2067.4L1537.8 2068.9L1538.6 2070.5L1539.4 2068.2L1540.2 2069.5L1541.0 2066.5L1541.8 2070.3L1542.6 2068.9L1543.4 2070.2L1544.2 2070.3L1545.0 2068.3L1545.8 2070.2L1546.6 2062.6L1547.4 2069.0L1548.2 2071.0L1549.0 2070.0L1549.8 2070.2L1550.6 2068.9L1551.4 2064.4L1552.2 2062.8L1553.0 2069.2L1553.8 2069.0L1554.6 2068.9L1555.4 2068.3L1556.2 2070.2L1557.0 2064.1L1557.8 2069.0L1558.6 2067.6L1559.4 2069.9L1560.2 2070.3L1561.0 2070.1L1561.8 2067.7L1562.6 2064.3L1563.4 2069.9L1564.2 2070.9L1565.0 2069.9L1565.8 2069.0L1566.6 2068.2L1567.4 2070.3L1568.2 2068.9L1569.0 2069.7L1569.8 2067.8L1570.6 2070.2L1571.4 2067.7L1572.2 2068.5L1573.0 2070.2L1573.8 2067.6L1574.6 2069.6L1575.4 2068.1L1576.2 2065.2L1577.0 2069.3L1577.8 2069.6L1578.6 2068.6L1579.4 2070.1L1580.2 2069.7L1581.0 2068.5L1581.8 2069.7L1582.6 2069.5L1583.4 2068.9L1584.2 2069.3L1585.0 2069.0L1585.8 2069.2L1586.6 2069.8L1587.4 2069.8L1588.2 2068.4L1589.0 2064.6L1589.8 2067.0L1590.6 2066.7L1591.4 2070.1L1592.2 2070.1L1593.0 2067.3L1593.8 2069.8L1594.6 2068.8L1595.4 2066.6L1596.2 2065.1L1597.0 2070.1L1597.8 2067.7L1598.6 2069.9L1599.4 2069.4L1600.2 2068.9L1601.0 2069.8L1601.8 2069.4L1602.6 2068.9L1603.4 2068.7L1604.2 2068.8L1605.0 2067.5L1605.8 2069.9L1606.6 2069.0L1607.4 2069.1L1608.2 2069.8L1609.0 2069.8L1609.8 2068.7L1610.6 2069.4L1611.4 2069.1L1612.2 2069.4L1613.0 2067.7L1613.8 2067.7L1614.6 2068.3L1615.4 2069.7L1616.2 2067.1L1617.0 2069.9L1617.8 2068.3L1618.6 2069.7L1619.4 2069.9L1620.2 2069.0L1621.0 2069.5L1621.8 2066.1L1622.6 2068.7L1623.4 2069.9L1624.2 2069.7L1625.0 2069.1L1625.8 2067.8L1626.6 2068.5L1627.4 2069.8L1628.2 2069.4L1629.0 2067.0L1629.8 2066.9L1630.6 2070.0L1631.4 2066.8L1632.2 2068.2L1633.0 2068.8L1633.8 2068.7L1634.6 2069.8L1635.4 2069.9L1636.2 2065.9L1637.0 2069.7L1637.8 2069.5L1638.6 2065.9L1639.4 2069.4L1640.2 2065.6L1641.0 2068.6L1641.8 2069.0L1642.6 2069.6L1643.4 2067.6L1644.2 2068.5L1645.0 2068.4L1645.8 2069.3L1646.6 2068.5L1647.4 2065.4L1648.2 2069.3L1649.0 2068.8L1649.8 2068.9L1650.6 2067.8L1651.4 2069.2L1652.2 2069.9L1653.0 2069.2L1653.8 2067.6L1654.6 2069.2L1655.4 2069.4L1656.2 2067.6L1657.0 2069.5L1657.8 2068.4L1658.6 2069.4L1659.4 2069.7L1660.2 2069.3L1661.0 2069.4L1661.8 2069.4L1662.6 2069.3L1663.4 2068.3L1664.2 2068.3L1665.0 2068.3L1665.8 2068.9L1666.6 2066.5L1667.4 2068.6L1668.2 2067.6L1669.0 2069.4L1669.8 2069.6L1670.6 2068.3L1671.4 2068.8L1672.2 2069.0L1673.0 2069.3L1673.8 2068.0L1674.6 2069.0L1675.4 2068.9L1676.2 2069.0L1677.0 2068.2L1677.8 2069.7L1678.6 2065.7L1679.4 2068.7L1680.2 2069.3L1681.0 2069.4L1681.8 2069.5L1682.6 2069.1L1683.4 2068.0L1684.2 2068.6L1685.0 2069.4L1685.8 2069.1L1686.6 2068.6L1687.4 2067.7L1688.2 2068.5L1689.0 2068.2L1689.8 2069.1L1690.6 2069.1L1691.4 2070.1L1692.2 2067.5L1693.0 2068.4L1693.8 2068.2L1694.6 2068.7L1695.4 2068.8L1696.2 2068.9L1697.0 2068.7L1697.8 2069.0L1698.6 2068.5L1699.4 2069.1L1700.2 2068.3L1701.0 2068.6L1701.8 2069.1L1702.6 2068.7L1703.4 2069.0L1704.2 2068.5L1705.0 2069.1L1705.8 2066.6L1706.6 2068.5L1707.4 2068.9L1708.2 2068.6L1709.0 2068.7L1709.8 2068.8L1710.6 2068.6L1711.4 2068.7L1712.2 2068.6L1713.0 2068.7L1713.8 2068.7L1714.6 2068.8L1715.4 2068.6L1716.2 2068.6L1717.0 2068.8L1717.8 2068.7L1718.6 2068.5L1719.4 2068.7L1720.2 2068.9L1721.0 2068.5L1721.8 2068.6L1722.6 2068.8L1723.4 2068.7L1724.2 2068.8L1725.0 2068.7L1725.8 2068.7L1726.6 2068.7L1727.4 2068.7L1728.2 2068.5L1729.0 2068.8" stroke="#0000ff"/>
<path id="s6" d="M202.6 2072.4L203.4 2096.2L204.2 2072.7L205.0 2083.2L205.8 2073.1L206.6 2097.2L207.4 2073.7L208.2 2079.9L209.0 2093.5L209.8 2077.7L210.6 2074.2L211.4 2087.1L212.2 2074.5L213.0 2078.1L213.8 2073.0L214.6 2086.6L215.4 2072.0L216.2 2078.9L217.0 2071.5L217.8 2081.1L218.6 2072.3L219.4 2087.7L220.2 2073.2L221.0 2094.5L221.8 2073.5L222.6 2083.8L223.4 2074.4L224.2 2080.1L225.0 2074.5L225.8 2095.7L226.6 2074.9L227.4 2111.7L228.2 2074.4L229.0 2093.4L229.8 2074.4L230.6 2074.2L231.4 2071.9L232.2 2074.2L233.0 2071.7L233.8 2074.2L234.6 2073.6L235.4 2076.5L236.2 2072.9L237.0 2097.4L237.8 2073.1L238.6 2098.2L239.4 2074.6L240.2 2099.3L241.0 2074.9L241.8 2086.7L242.6 2073.9L243.4 2079.9L244.2 2073.6L245.0 2084.8L245.8 2073.5L246.6 2084.1L247.4 2072.9L248.2 2075.9L249.0 2071.8L249.8 2076.4L250.6 2087.7L251.4 2076.1L252.2 2071.8L253.0 2080.5L253.8 2072.9L254.6 2082.4L255.4 2073.6L256.2 2073.1L257.0 2071.0L257.8 2073.1L258.6 2071.9L259.4 2082.6L260.2 2072.3L261.0 2079.2L261.8 2073.1L262.6 2090.0L263.4 2072.6L264.2 2097.1L265.0 2071.9L265.8 2071.9L266.6 2070.2L267.4 2106.1L268.2 2071.6L269.0 2080.2L269.8 2071.8L270.6 2076.8L271.4 2070.9L272.2 2075.2L273.0 2071.1L273.8 2092.4L274.6 2072.3L275.4 2076.4L276.2 2072.8L277.0 2131.7L277.8 2073.3L278.6 2079.9L279.4 2073.6L280.2 2081.9L281.0 2073.3L281.8 2082.3L282.6 2072.5L283.4 2087.9L284.2 2072.3L285.0 2078.8L285.8 2095.2L286.6 2078.2L287.4 2071.2L288.2 2084.6L289.0 2071.5L289.8 2074.9L290.6 2072.3L291.4 2094.2L292.2 2072.6L293.0 2088.7L293.8 2073.4L294.6 2077.0L295.4 2073.6L296.2 2081.8L297.0 2073.9L297.8 2084.6L298.6 2072.5L299.4 2085.7L300.2 2071.1L301.0 2087.5L301.8 2070.2L302.6 2101.6L303.4 2070.7L304.2 2085.6L305.0 2071.5L305.8 2085.4L306.6 2071.9L307.4 2082.1L308.2 2072.8L309.0 2080.0L309.8 2096.5L310.6 2077.0L311.4 2074.1L312.2 2096.8L313.0 2074.4L313.8 2083.9L314.6 2074.5L315.4 2085.4L316.2 2074.7L317.0 2078.5L317.8 2074.2L318.6 2078.8L319.4 2073.3L320.2 2094.0L321.0 2071.9L321.8 2094.2L322.6 2071.3L323.4 2094.6L324.2 2071.8L325.0 2077.8L325.8 2072.7L326.6 2078.8L327.4 2092.7L328.2 2079.4L329.0 2073.6L329.8 2077.6L330.6 2073.7L331.4 2083.5L332.2 2073.5L333.0 2090.9L333.8 2072.7L334.6 2077.9L335.4 2071.8L336.2 2083.9L337.0 2071.7L337.8 2093.8L338.6 2071.6L339.4 2095.3L340.2 2072.9L341.0 2077.5L341.8 2072.7L342.6 2102.8L343.4 2069.2L344.2 2071.4L345.0 2070.0L345.8 2088.5L346.6 2070.4L347.4 2074.2L348.2 2070.7L349.0 2070.9L349.8 2069.0L350.6 2095.2L351.4 2071.4L352.2 2076.3L353.0 2073.1L353.8 2097.2L354.6 2073.7L355.4 2078.3L356.2 2073.7L357.0 2078.7L357.8 2073.8L358.6 2087.8L359.4 2074.2L360.2 2074.3L361.0 2071.5L361.8 2074.3L362.6 2072.3L363.4 2078.7L364.2 2071.1L365.0 2075.9L365.8 2087.7L366.6 2076.4L367.4 2072.5L368.2 2099.9L369.0 2073.3L369.8 2077.4L370.6 2073.2L371.4 2076.6L372.2 2072.4L373.0 2099.3L373.8 2071.5L374.6 2093.5L375.4 2070.1L376.2 2073.7L377.0 2070.0L377.8 2074.3L378.6 2070.1L379.4 2073.9L380.2 2070.5L381.0 2075.9L381.8 2088.9L382.6 2076.1L383.4 2071.1L384.2 2075.6L385.0 2072.8L385.8 2100.9L386.6 2073.4L387.4 2097.5L388.2 2071.9L389.0 2091.6L389.8 2070.5L390.6 2074.4L391.4 2071.1L392.2 2076.0L393.0 2105.9L393.8 2082.9L394.6 2073.5L395.4 2085.5L396.2 2073.6L397.0 2079.1L397.8 2072.8L398.6 2076.6L399.4 2071.5L400.2 2074.3L401.0 2070.5L401.8 2093.7L402.6 2069.7L403.4 2079.0L404.2 2101.6L405.0 2079.7L405.8 2070.9L406.6 2072.0L407.4 2069.1L408.2 2072.0L409.0 2072.1L409.8 2080.9L410.6 2072.5L411.4 2083.7L412.2 2073.1L413.0 2082.8L413.8 2109.4L414.6 2076.6L415.4 2071.8L416.2 2088.1L417.0 2072.7L417.8 2080.3L418.6 2074.4L419.4 2082.5L420.2 2074.7L421.0 2086.5L421.8 2075.3L422.6 2090.6L423.4 2073.9L424.2 2083.3L425.0 2074.4L425.8 2111.2L426.6 2072.9L427.4 2097.5L428.2 2072.6L429.0 2097.5L429.8 2073.9L430.6 2089.0L431.4 2073.4L432.2 2098.0L433.0 2073.6L433.8 2085.3L434.6 2072.3L435.4 2078.1L436.2 2102.8L437.0 2081.2L437.8 2072.3L438.6 2097.8L439.4 2073.6L440.2 2082.9L441.0 2074.4L441.8 2087.9L442.6 2074.7L443.4 2093.6L444.2 2073.6L445.0 2097.5L445.8 2072.8L446.6 2085.2L447.4 2072.5L448.2 2078.3L449.0 2074.0L449.8 2115.0L450.6 2075.3L451.4 2098.7L452.2 2074.7L453.0 2084.4L453.8 2074.8L454.6 2082.3L455.4 2075.0L456.2 2085.0L457.0 2073.3L457.8 2096.5L458.6 2074.2L459.4 2078.1L460.2 2075.5L461.0 2087.5L461.8 2074.3L462.6 2088.0L463.4 2128.1L464.2 2078.4L465.0 2075.0L465.8 2090.0L466.6 2076.8L467.4 2100.3L468.2 2076.5L469.0 2080.8L469.8 2077.6L470.6 2149.1L471.4 2076.1L472.2 2094.4L473.0 2078.2L473.8 2080.6L474.6 2078.2L475.4 2095.3L476.2 2078.0L477.0 2082.2L477.8 2080.2L478.6 2085.7L479.4 2216.2L480.2 2119.2L481.0 2081.7L481.8 2085.5L482.6 2085.5L483.4 2108.7L484.2 2086.0L485.0 2089.6L485.8 2084.2L486.6 2088.4L487.4 2087.9L488.2 2095.0L489.0 2080.3L489.8 2171.1L490.6 2080.7L491.4 2091.3L492.2 2082.0L493.0 2084.4L493.8 2078.3L494.6 2092.6L495.4 2082.2L496.2 2091.5L497.0 2083.1L497.8 2099.9L498.6 2224.3L499.4 2095.1L500.2 2086.0L501.0 2109.2L501.8 2082.6L502.6 2103.1L503.4 2082.9L504.2 2127.6L505.0 2085.1L505.8 2098.6L506.6 2088.0L507.4 2210.4L508.2 2094.7L509.0 2136.1L509.8 2096.2L510.6 2096.7L511.4 2094.9L512.2 2123.6L513.0 2098.9L513.8 2273.6L514.6 2103.5L515.4 2137.8L516.2 2093.6L517.0 2119.9L517.8 2090.0L518.6 2302.7L519.4 2092.9L520.2 2093.9L521.0 2085.9L521.8 2121.7L522.6 2083.2L523.4 2111.0L524.2 2080.2L525.0 2092.9L525.8 2294.4L526.6 2113.6L527.4 2082.6L528.2 2091.9L529.0 2087.7L529.8 2098.2L530.6 2085.5L531.4 2093.6L532.2 2080.4L533.0 2125.7L533.8 2089.7L534.6 2150.5L535.4 2309.8L536.2 2114.6L537.0 2097.3L537.8 2123.9L538.6 2089.4L539.4 2091.0L540.2 2252.1L541.0 2102.9L541.8 2083.0L542.6 2104.6L543.4 2081.8L544.2 2091.9L545.0 2193.9L545.8 2099.3L546.6 2081.3L547.4 2116.9L548.2 2084.3L549.0 2118.0L549.8 2082.3L550.6 2083.2L551.4 2366.0L552.2 2120.1L553.0 2085.9L553.8 2089.3L554.6 2087.5L555.4 2084.5L556.2 2479.8L557.0 2108.3L557.8 2084.4L558.6 2117.4L559.4 2080.6L560.2 2084.8L561.0 2079.9L561.8 2216.7L562.6 2083.0L563.4 2115.1L564.2 2082.9L565.0 2095.6L565.8 2085.1L566.6 2117.3L567.4 2083.3L568.2 2092.7L569.0 2082.4L569.8 2109.7L570.6 2087.0L571.4 2119.4L572.2 2087.9L573.0 2095.0L573.8 2178.2L574.6 2094.6L575.4 2090.1L576.2 2119.5L577.0 2091.1L577.8 2118.2L578.6 2084.9L579.4 2109.4L580.2 2076.4L581.0 2116.7L581.8 2077.6L582.6 2101.9L583.4 2159.3L584.2 2096.9L585.0 2077.4L585.8 2089.8L586.6 2077.1L587.4 2091.1L588.2 2075.8L589.0 2096.9L589.8 2076.7L590.6 2095.1L591.4 2076.4L592.2 2083.1L593.0 2075.9L593.8 2132.7L594.6 2076.7L595.4 2095.9L596.2 2077.7L597.0 2096.8L597.8 2078.7L598.6 2085.3L599.4 2125.6L600.2 2088.0L601.0 2077.7L601.8 2079.9L602.6 2126.1L603.4 2087.3L604.2 2078.6L605.0 2088.2L605.8 2078.6L606.6 2093.9L607.4 2077.0L608.2 2080.3L609.0 2077.3L609.8 2082.2L610.6 2079.7L611.4 2095.1L612.2 2079.7L613.0 2093.3L613.8 2129.4L614.6 2085.8L615.4 2081.5L616.2 2089.0L617.0 2084.6L617.8 2085.4L618.6 2081.3L619.4 2108.0L620.2 2079.9L621.0 2082.3L621.8 2080.3L622.6 2083.9L623.4 2126.9L624.2 2093.8L625.0 2079.4L625.8 2081.9L626.6 2077.7L627.4 2088.9L628.2 2076.2L629.0 2089.3L629.8 2075.4L630.6 2104.1L631.4 2077.5L632.2 2086.3L633.0 2077.9L633.8 2092.1L634.6 2077.5L635.4 2084.0L636.2 2076.7L637.0 2079.5L637.8 2074.9L638.6 2167.3L639.4 2076.5L640.2 2088.4L641.0 2079.0L641.8 2093.3L642.6 2077.8L643.4 2080.5L644.2 2078.2L645.0 2094.7L645.8 2141.3L646.6 2081.0L647.4 2076.5L648.2 2097.0L649.0 2077.1L649.8 2086.9L650.6 2079.7L651.4 2155.2L652.2 2080.2L653.0 2092.5L653.8 2078.7L654.6 2084.2L655.4 2079.2L656.2 2087.4L657.0 2078.8L657.8 2083.8L658.6 2123.8L659.4 2090.0L660.2 2079.2L661.0 2099.4L661.8 2079.1L662.6 2093.2L663.4 2078.3L664.2 2093.2L665.0 2078.3L665.8 2084.7L666.6 2077.9L667.4 2093.4L668.2 2077.9L669.0 2093.4L669.8 2145.3L670.6 2095.7L671.4 2077.4L672.2 2090.1L673.0 2077.7L673.8 2092.9L674.6 2078.6L675.4 2080.4L676.2 2116.7L677.0 2088.3L677.8 2077.8L678.6 2083.1L679.4 2076.9L680.2 2083.9L681.0 2078.7L681.8 2084.4L682.6 2080.3L683.4 2131.9L684.2 2081.3L685.0 2087.4L685.8 2079.4L686.6 2093.1L687.4 2080.3L688.2 2106.8L689.0 2079.7L689.8 2096.2L690.6 2192.1L691.4 2093.7L692.2 2079.1L693.0 2091.6L693.8 2076.4L694.6 2092.1L695.4 2078.3L696.2 2078.5L697.0 2075.7L697.8 2078.5L698.6 2078.0L699.4 2148.9L700.2 2077.1L701.0 2087.2L701.8 2076.5L702.6 2089.4L703.4 2076.6L704.2 2096.0L705.0 2077.3L705.8 2079.0L706.6 2137.7L707.4 2089.5L708.2 2078.0L709.0 2103.9L709.8 2078.6L710.6 2081.3L711.4 2077.0L712.2 2091.4L713.0 2076.3L713.8 2080.9L714.6 2079.0L715.4 2087.5L716.2 2079.9L717.0 2137.2L717.8 2078.6L718.6 2086.1L719.4 2079.0L720.2 2093.0L721.0 2078.4L721.8 2087.1L722.6 2114.2L723.4 2082.7L724.2 2078.1L725.0 2080.5L725.8 2076.9L726.6 2079.9L727.4 2076.8L728.2 2093.0L729.0 2077.8L729.8 2087.7L730.6 2077.9L731.4 2171.4L732.2 2079.8L733.0 2126.5L733.8 2076.3L734.6 2082.5L735.4 2077.1L736.2 2091.7L737.0 2079.4L737.8 2083.0L738.6 2180.3L739.4 2097.6L740.2 2080.3L741.0 2086.3L741.8 2079.4L742.6 2089.2L743.4 2083.6L744.2 2161.0L745.0 2080.5L745.8 2083.9L746.6 2081.4L747.4 2093.1L748.2 2081.3L749.0 2087.4L749.8 2080.8L750.6 2094.6L751.4 2078.2L752.2 2130.2L753.0 2077.5L753.8 2084.9L754.6 2078.3L755.4 2081.4L756.2 2077.9L757.0 2100.1L757.8 2079.1L758.6 2094.2L759.4 2079.4L760.2 2091.0L761.0 2078.8L761.8 2186.6L762.6 2079.3L763.4 2106.4L764.2 2078.3L765.0 2083.4L765.8 2079.5L766.6 2084.7L767.4 2080.9L768.2 2161.8L769.0 2081.0L769.8 2094.4L770.6 2081.2L771.4 2083.3L772.2 2077.0L773.0 2091.0L773.8 2077.1L774.6 2085.2L775.4 2177.7L776.2 2081.8L777.0 2079.5L777.8 2095.5L778.6 2081.9L779.4 2094.2L780.2 2080.6L781.0 2096.1L781.8 2081.5L782.6 2084.7L783.4 2146.6L784.2 2086.7L785.0 2079.9L785.8 2091.8L786.6 2078.5L787.4 2106.9L788.2 2076.4L789.0 2085.8L789.8 2076.0L790.6 2082.5L791.4 2137.0L792.2 2082.7L793.0 2077.0L793.8 2091.2L794.6 2077.1L795.4 2091.3L796.2 2078.3L797.0 2092.4L797.8 2079.0L798.6 2093.0L799.4 2079.9L800.2 2089.5L801.0 2081.0L801.8 2082.9L802.6 2118.5L803.4 2080.6L804.2 2075.9L805.0 2087.6L805.8 2073.8L806.6 2077.2L807.4 2074.2L808.2 2084.9L809.0 2107.9L809.8 2086.0L810.6 2077.7L811.4 2084.0L812.2 2077.5L813.0 2084.2L813.8 2077.3L814.6 2080.2L815.4 2076.9L816.2 2211.1L817.0 2079.3L817.8 2081.1L818.6 2075.6L819.4 2102.6L820.2 2077.4L821.0 2102.4L821.8 2077.2L822.6 2110.3L823.4 2076.3L824.2 2098.1L825.0 2149.1L825.8 2090.2L826.6 2077.3L827.4 2079.3L828.2 2075.7L829.0 2079.7L829.8 2076.0L830.6 2079.7L831.4 2077.1L832.2 2083.3L833.0 2105.4L833.8 2079.5L834.6 2075.0L835.4 2084.9L836.2 2073.8L837.0 2088.3L837.8 2073.4L838.6 2077.6L839.4 2074.9L840.2 2083.3L841.0 2075.9L841.8 2079.7L842.6 2076.7L843.4 2107.9L844.2 2077.4L845.0 2087.4L845.8 2076.3L846.6 2088.9L847.4 2076.7L848.2 2089.6L849.0 2077.2L849.8 2086.0L850.6 2078.9L851.4 2093.1L852.2 2079.5L853.0 2087.8L853.8 2134.5L854.6 2091.6L855.4 2079.0L856.2 2087.6L857.0 2078.2L857.8 2082.7L858.6 2078.1L859.4 2090.0L860.2 2076.2L861.0 2090.4L861.8 2078.6L862.6 2082.9L863.4 2078.7L864.2 2082.8L865.0 2146.9L865.8 2087.6L866.6 2076.1L867.4 2084.4L868.2 2075.5L869.0 2095.7L869.8 2075.9L870.6 2089.3L871.4 2075.9L872.2 2089.1L873.0 2076.6L873.8 2081.6L874.6 2078.2L875.4 2084.4L876.2 2104.1L877.0 2083.6L877.8 2079.0L878.6 2083.9L879.4 2078.7L880.2 2076.4L881.0 2074.3L881.8 2076.4L882.6 2075.3L883.4 2087.1L884.2 2074.1L885.0 2081.1L885.8 2073.7L886.6 2127.1L887.4 2075.5L888.2 2082.4L889.0 2076.0L889.8 2084.1L890.6 2075.7L891.4 2087.7L892.2 2074.0L893.0 2080.5L893.8 2072.2L894.6 2089.6L895.4 2072.7L896.2 2078.2L897.0 2073.0L897.8 2113.0L898.6 2074.4L899.4 2086.9L900.2 2073.2L901.0 2080.2L901.8 2073.2L902.6 2076.8L903.4 2074.0L904.2 2085.7L905.0 2076.2L905.8 2137.2L906.6 2077.2L907.4 2089.2L908.2 2077.7L909.0 2081.2L909.8 2076.9L910.6 2084.4L911.4 2076.8L912.2 2089.2L913.0 2075.1L913.8 2089.3L914.6 2076.1L915.4 2080.1L916.2 2099.0L917.0 2083.7L917.8 2077.6L918.6 2081.1L919.4 2076.8L920.2 2079.8L921.0 2075.7L921.8 2081.2L922.6 2075.5L923.4 2080.3L924.2 2075.6L925.0 2102.8L925.8 2076.2L926.6 2079.5L927.4 2076.5L928.2 2082.9L929.0 2076.4L929.8 2084.4L930.6 2077.0L931.4 2090.6L932.2 2077.6L933.0 2150.4L933.8 2078.1L934.6 2097.0L935.4 2076.1L936.2 2089.3L937.0 2075.2L937.8 2087.5L938.6 2076.3L939.4 2081.4L940.2 2076.0L941.0 2089.5L941.8 2077.4L942.6 2083.3L943.4 2076.9L944.2 2124.1L945.0 2077.3L945.8 2084.4L946.6 2077.5L947.4 2083.1L948.2 2075.5L949.0 2080.6L949.8 2074.3L950.6 2082.0L951.4 2073.9L952.2 2105.9L953.0 2075.9L953.8 2087.8L954.6 2077.0L955.4 2079.1L956.2 2075.1L957.0 2083.4L957.8 2073.0L958.6 2076.2L959.4 2073.0L960.2 2085.3L961.0 2074.6L961.8 2080.1L962.6 2076.8L963.4 2085.0L964.2 2106.6L965.0 2084.9L965.8 2075.0L966.6 2079.5L967.4 2074.3L968.2 2085.0L969.0 2075.5L969.8 2109.9L970.6 2076.5L971.4 2082.4L972.2 2076.8L973.0 2084.9L973.8 2077.4L974.6 2083.7L975.4 2076.0L976.2 2082.1L977.0 2075.9L977.8 2088.4L978.6 2076.1L979.4 2079.3L980.2 2076.3L981.0 2080.1L981.8 2076.8L982.6 2086.2L983.4 2077.6L984.2 2083.5L985.0 2099.0L985.8 2082.9L986.6 2075.3L987.4 2087.9L988.2 2074.0L989.0 2078.1L989.8 2073.9L990.6 2079.2L991.4 2073.6L992.2 2079.0L993.0 2073.9L993.8 2075.5L994.6 2073.7L995.4 2075.5L996.2 2077.1L997.0 2121.6L997.8 2077.8L998.6 2087.8L999.4 2077.2L1000.2 2086.0L1001.0 2076.7L1001.8 2086.9L1002.6 2074.7L1003.4 2087.2L1004.2 2074.6L1005.0 2098.4L1005.8 2073.5L1006.6 2094.2L1007.4 2073.0L1008.2 2077.9L1009.0 2139.5L1009.8 2079.5L1010.6 2077.0L1011.4 2089.7L1012.2 2077.3L1013.0 2089.6L1013.8 2076.4L1014.6 2081.5L1015.4 2076.0L1016.2 2081.0L1017.0 2075.1L1017.8 2088.2L1018.6 2076.3L1019.4 2096.4L1020.2 2077.4L1021.0 2106.6L1021.8 2077.4L1022.6 2079.9L1023.4 2076.7L1024.2 2087.8L1025.0 2074.5L1025.8 2087.1L1026.6 2074.5L1027.4 2078.2L1028.2 2074.7L1029.0 2082.6L1029.8 2075.5L1030.6 2086.6L1031.4 2113.0L1032.2 2086.2L1033.0 2075.5L1033.8 2083.3L1034.6 2075.9L1035.4 2096.3L1036.2 2077.7L1037.0 2094.8L1037.8 2078.3L1038.6 2081.9L1039.4 2077.5L1040.2 2094.0L1041.0 2074.4L1041.8 2082.9L1042.6 2073.8L1043.4 2107.9L1044.2 2074.7L1045.0 2087.1L1045.8 2075.0L1046.6 2078.5L1047.4 2075.0L1048.2 2109.2L1049.0 2074.2L1049.8 2095.0L1050.6 2074.2L1051.4 2085.1L1052.2 2075.5L1053.0 2086.5L1053.8 2076.7L1054.6 2081.0L1055.4 2076.5L1056.2 2080.1L1057.0 2075.9L1057.8 2079.6L1058.6 2075.2L1059.4 2085.2L1060.2 2074.2L1061.0 2080.7L1061.8 2075.3L1062.6 2080.9L1063.4 2109.2L1064.2 2085.6L1065.0 2075.6L1065.8 2079.9L1066.6 2074.6L1067.4 2087.0L1068.2 2075.1L1069.0 2087.8L1069.8 2076.2L1070.6 2079.3L1071.4 2075.3L1072.2 2080.6L1073.0 2076.2L1073.8 2087.4L1074.6 2075.9L1075.4 2083.7L1076.2 2104.1L1077.0 2083.7L1077.8 2074.7L1078.6 2081.5L1079.4 2073.8L1080.2 2077.3L1081.0 2074.5L1081.8 2091.5L1082.6 2074.5L1083.4 2086.3L1084.2 2074.7L1085.0 2078.0L1085.8 2125.1L1086.6 2087.3L1087.4 2075.9L1088.2 2086.2L1089.0 2075.3L1089.8 2086.0L1090.6 2074.5L1091.4 2080.3L1092.2 2076.1L1093.0 2136.0L1093.8 2074.9L1094.6 2082.7L1095.4 2074.7L1096.2 2081.1L1097.0 2075.0L1097.8 2082.5L1098.6 2076.0L1099.4 2079.8L1100.2 2076.7L1101.0 2079.8L1101.8 2100.3L1102.6 2082.9L1103.4 2074.7L1104.2 2079.1L1105.0 2073.1L1105.8 2080.8L1106.6 2072.3L1107.4 2075.4L1108.2 2072.7L1109.0 2076.3L1109.8 2073.1L1110.6 2081.2L1111.4 2073.9L1112.2 2104.1L1113.0 2074.9L1113.8 2079.0L1114.6 2075.5L1115.4 2083.9L1116.2 2075.0L1117.0 2086.4L1117.8 2074.9L1118.6 2145.8L1119.4 2076.9L1120.2 2083.4L1121.0 2074.8L1121.8 2086.7L1122.6 2075.4L1123.4 2077.4L1124.2 2073.6L1125.0 2076.7L1125.8 2072.5L1126.6 2118.0L1127.4 2071.4L1128.2 2076.9L1129.0 2071.9L1129.8 2075.0L1130.6 2072.5L1131.4 2080.3L1132.2 2072.6L1133.0 2076.4L1133.8 2073.1L1134.6 2081.9L1135.4 2073.2L1136.2 2077.7L1137.0 2104.1L1137.8 2081.7L1138.6 2072.9L1139.4 2083.2L1140.2 2073.8L1141.0 2088.2L1141.8 2074.7L1142.6 2086.7L1143.4 2075.7L1144.2 2086.5L1145.0 2115.5L1145.8 2085.5L1146.6 2071.8L1147.4 2082.9L1148.2 2071.1L1149.0 2074.9L1149.8 2070.9L1150.6 2078.5L1151.4 2073.4L1152.2 2084.2L1153.0 2072.9L1153.8 2086.5L1154.6 2074.2L1155.4 2113.5L1156.2 2073.2L1157.0 2079.4L1157.8 2072.9L1158.6 2082.4L1159.4 2074.4L1160.2 2078.7L1161.0 2074.5L1161.8 2079.6L1162.6 2073.0L1163.4 2076.1L1164.2 2071.3L1165.0 2097.8L1165.8 2071.2L1166.6 2084.6L1167.4 2074.0L1168.2 2086.3L1169.0 2075.6L1169.8 2079.1L1170.6 2075.0L1171.4 2077.7L1172.2 2073.5L1173.0 2077.2L1173.8 2073.5L1174.6 2077.0L1175.4 2090.2L1176.2 2077.6L1177.0 2072.6L1177.8 2078.1L1178.6 2073.2L1179.4 2079.1L1180.2 2072.8L1181.0 2076.1L1181.8 2072.1L1182.6 2082.4L1183.4 2073.2L1184.2 2077.3L1185.0 2076.1L1185.8 2081.5L1186.6 2075.8L1187.4 2104.1L1188.2 2074.8L1189.0 2085.6L1189.8 2073.8L1190.6 2077.7L1191.4 2074.4L1192.2 2083.6L1193.0 2074.4L1193.8 2078.5L1194.6 2073.6L1195.4 2077.2L1196.2 2074.4L1197.0 2079.5L1197.8 2075.6L1198.6 2083.2L1199.4 2102.8L1200.2 2081.0L1201.0 2075.4L1201.8 2078.9L1202.6 2074.3L1203.4 2077.8L1204.2 2074.0L1205.0 2084.6L1205.8 2074.4L1206.6 2130.7L1207.4 2072.3L1208.2 2083.2L1209.0 2072.3L1209.8 2078.2L1210.6 2073.9L1211.4 2076.9L1212.2 2073.3L1213.0 2076.9L1213.8 2072.9L1214.6 2075.6L1215.4 2071.5L1216.2 2079.0L1217.0 2074.2L1217.8 2091.4L1218.6 2074.8L1219.4 2077.6L1220.2 2073.8L1221.0 2077.6L1221.8 2073.6L1222.6 2076.2L1223.4 2068.7L1224.2 2079.9L1225.0 2067.9L1225.8 2074.7L1226.6 2068.4L1227.4 2072.2L1228.2 2069.2L1229.0 2081.5L1229.8 2070.4L1230.6 2079.3L1231.4 2070.2L1232.2 2092.2L1233.0 2069.9L1233.8 2078.4L1234.6 2069.7L1235.4 2074.3L1236.2 2070.6L1237.0 2081.5L1237.8 2071.2L1238.6 2083.1L1239.4 2073.0L1240.2 2078.5L1241.0 2072.0L1241.8 2094.0L1242.6 2070.6L1243.4 2081.7L1244.2 2070.7L1245.0 2074.1L1245.8 2070.4L1246.6 2077.1L1247.4 2070.8L1248.2 2074.6L1249.0 2070.6L1249.8 2074.0L1250.6 2070.5L1251.4 2112.2L1252.2 2072.5L1253.0 2075.9L1253.8 2072.4L1254.6 2072.0L1255.4 2071.7L1256.2 2075.4L1257.0 2076.4L1257.8 2077.9L1258.6 2071.4L1259.4 2074.8L1260.2 2080.5L1261.0 2074.1L1261.8 2071.8L1262.6 2070.7L1263.4 2082.2L1264.2 2073.7L1265.0 2073.1L1265.8 2074.6L1266.6 2080.3L1267.4 2070.8L1268.2 2076.4L1269.0 2071.1L1269.8 2075.5L1270.6 2080.6L1271.4 2067.0L1272.2 2080.5L1273.0 2068.4L1273.8 2072.0L1274.6 2069.2L1275.4 2073.9L1276.2 2085.1L1277.0 2074.3L1277.8 2068.7L1278.6 2071.8L1279.4 2069.1L1280.2 2072.3L1281.0 2068.4L1281.8 2071.9L1282.6 2068.7L1283.4 2075.7L1284.2 2069.4L1285.0 2075.6L1285.8 2090.9L1286.6 2076.2L1287.4 2069.9L1288.2 2073.4L1289.0 2069.3L1289.8 2074.6L1290.6 2069.4L1291.4 2074.3L1292.2 2069.7L1293.0 2073.0L1293.8 2069.1L1294.6 2075.6L1295.4 2068.4L1296.2 2076.4L1297.0 2066.7L1297.8 2080.4L1298.6 2066.3L1299.4 2083.9L1300.2 2065.5L1301.0 2068.8L1301.8 2065.4L1302.6 2078.6L1303.4 2065.9L1304.2 2079.3L1305.0 2066.9L1305.8 2072.7L1306.6 2066.8L1307.4 2070.1L1308.2 2066.4L1309.0 2070.3L1309.8 2066.7L1310.6 2073.0L1311.4 2067.4L1312.2 2071.4L1313.0 2068.0L1313.8 2081.9L1314.6 2068.4L1315.4 2081.6L1316.2 2068.0L1317.0 2071.3L1317.8 2067.0L1318.6 2072.1L1319.4 2083.9L1320.2 2071.8L1321.0 2066.6L1321.8 2072.2L1322.6 2066.3L1323.4 2070.8L1324.2 2067.3L1325.0 2073.5L1325.8 2067.7L1326.6 2072.1L1327.4 2067.9L1328.2 2075.4L1329.0 2067.8L1329.8 2077.9L1330.6 2067.7L1331.4 2093.2L1332.2 2068.2L1333.0 2081.7L1333.8 2068.5L1334.6 2078.0L1335.4 2067.9L1336.2 2076.5L1337.0 2067.4L1337.8 2076.9L1338.6 2066.1L1339.4 2069.4L1340.2 2065.4L1341.0 2074.0L1341.8 2065.5L1342.6 2074.5L1343.4 2066.3L1344.2 2081.3L1345.0 2067.2L1345.8 2072.7L1346.6 2067.1L1347.4 2075.1L1348.2 2067.2L1349.0 2069.5L1349.8 2069.0L1350.6 2069.5L1351.4 2073.5L1352.2 2071.3L1353.0 2077.5L1353.8 2074.3L1354.6 2089.7L1355.4 2075.3L1356.2 2070.0L1357.0 2076.6L1357.8 2071.3L1358.6 2073.3L1359.4 2071.3L1360.2 2074.8L1361.0 2076.1L1361.8 2072.3L1362.6 2075.8L1363.4 2074.5L1364.2 2071.2L1365.0 2081.1L1365.8 2073.2L1366.6 2074.0L1367.4 2073.6L1368.2 2071.4L1369.0 2074.4L1369.8 2071.6L1370.6 2075.9L1371.4 2071.4L1372.2 2070.9L1373.0 2076.3L1373.8 2080.3L1374.6 2073.5L1375.4 2071.4L1376.2 2071.3L1377.0 2073.3L1377.8 2072.0L1378.6 2074.0L1379.4 2077.5L1380.2 2071.4L1381.0 2070.9L1381.8 2071.4L1382.6 2071.0L1383.4 2074.6L1384.2 2074.3L1385.0 2080.1L1385.8 2072.1L1386.6 2071.7L1387.4 2072.8L1388.2 2075.4L1389.0 2072.8L1389.8 2071.5L1390.6 2079.8L1391.4 2073.1L1392.2 2071.2L1393.0 2072.1L1393.8 2070.9L1394.6 2071.9L1395.4 2075.4L1396.2 2075.0L1397.0 2070.8L1397.8 2071.1L1398.6 2071.3L1399.4 2071.1L1400.2 2072.9L1401.0 2074.5L1401.8 2070.8L1402.6 2072.7L1403.4 2070.9L1404.2 2071.3L1405.0 2071.6L1405.8 2070.8L1406.6 2071.5L1407.4 2070.8L1408.2 2071.1L1409.0 2072.8L1409.8 2074.0L1410.6 2070.8L1411.4 2073.7L1412.2 2071.5L1413.0 2073.9L1413.8 2071.1L1414.6 2072.1L1415.4 2071.1L1416.2 2075.4L1417.0 2070.6L1417.8 2070.8L1418.6 2073.8L1419.4 2070.9L1420.2 2071.3L1421.0 2073.0L1421.8 2072.2L1422.6 2072.5L1423.4 2074.9L1424.2 2072.5L1425.0 2071.6L1425.8 2071.5L1426.6 2072.3L1427.4 2071.3L1428.2 2075.4L1429.0 2071.3L1429.8 2073.0L1430.6 2070.9L1431.4 2072.9L1432.2 2074.9L1433.0 2072.3L1433.8 2070.6L1434.6 2070.7L1435.4 2070.8L1436.2 2077.4L1437.0 2070.9L1437.8 2071.2L1438.6 2070.9L1439.4 2071.3L1440.2 2073.9L1441.0 2070.8L1441.8 2077.2L1442.6 2072.3L1443.4 2073.9L1444.2 2072.3L1445.0 2070.7L1445.8 2070.6L1446.6 2074.5L1447.4 2071.3L1448.2 2070.8L1449.0 2073.4L1449.8 2073.3L1450.6 2071.3L1451.4 2073.5L1452.2 2071.1L1453.0 2076.7L1453.8 2073.6L1454.6 2071.3L1455.4 2072.3L1456.2 2070.7L1457.0 2075.7L1457.8 2076.3L1458.6 2072.2L1459.4 2076.4L1460.2 2070.7L1461.0 2071.9L1461.8 2071.6L1462.6 2071.2L1463.4 2075.1L1464.2 2070.6L1465.0 2073.3L1465.8 2070.9L1466.6 2073.7L1467.4 2070.8L1468.2 2071.1L1469.0 2071.4L1469.8 2072.2L1470.6 2070.7L1471.4 2071.1L1472.2 2071.3L1473.0 2070.6L1473.8 2071.2L1474.6 2071.9L1475.4 2072.7L1476.2 2071.0L1477.0 2071.0L1477.8 2073.5L1478.6 2070.8L1479.4 2075.0L1480.2 2073.1L1481.0 2071.1L1481.8 2070.9L1482.6 2070.8L1483.4 2071.3L1484.2 2071.7L1485.0 2071.1L1485.8 2071.8L1486.6 2073.6L1487.4 2071.8L1488.2 2070.6L1489.0 2072.8L1489.8 2071.1L1490.6 2070.7L1491.4 2073.6L1492.2 2070.7L1493.0 2071.5L1493.8 2070.7L1494.6 2071.1L1495.4 2073.2L1496.2 2071.2L1497.0 2070.7L1497.8 2070.9L1498.6 2070.8L1499.4 2074.2L1500.2 2073.7L1501.0 2071.6L1501.8 2073.3L1502.6 2072.0L1503.4 2070.9L1504.2 2073.9L1505.0 2070.7L1505.8 2070.8L1506.6 2070.6L1507.4 2070.7L1508.2 2070.9L1509.0 2071.8L1509.8 2070.9L1510.6 2070.7L1511.4 2071.4L1512.2 2070.9L1513.0 2070.9L1513.8 2071.8L1514.6 2071.0L1515.4 2071.5L1516.2 2073.9L1517.0 2071.5L1517.8 2071.5L1518.6 2070.7L1519.4 2071.1L1520.2 2071.0L1521.0 2071.8L1521.8 2071.5L1522.6 2070.4L1523.4 2071.5L1524.2 2071.7L1525.0 2071.4L1525.8 2071.1L1526.6 2071.3L1527.4 2071.6L1528.2 2071.5L1529.0 2071.2L1529.8 2071.6L1530.6 2071.5L1531.4 2071.6L1532.2 2071.5L1533.0 2071.1L1533.8 2071.1L1534.6 2071.2L1535.4 2071.5L1536.2 2071.1L1537.0 2071.3L1537.8 2071.1L1538.6 2071.4L1539.4 2071.4L1540.2 2071.4L1541.0 2071.3L1541.8 2071.1L1542.6 2071.5L1543.4 2071.2L1544.2 2071.1L1545.0 2071.0L1545.8 2071.4L1546.6 2071.3L1547.4 2071.0L1548.2 2071.3L1549.0 2071.2L1549.8 2071.1L1550.6 2071.2L1551.4 2071.4L1552.2 2073.2L1553.0 2071.0L1553.8 2071.0L1554.6 2071.0L1555.4 2071.3L1556.2 2070.9L1557.0 2070.9L1557.8 2071.2L1558.6 2071.0L1559.4 2071.1L1560.2 2070.9L1561.0 2071.2L1561.8 2071.2L1562.6 2071.0L1563.4 2070.9L1564.2 2073.1L1565.0 2071.0L1565.8 2071.2L1566.6 2071.2L1567.4 2070.8L1568.2 2071.1L1569.0 2070.8L1569.8 2071.2L1570.6 2070.8L1571.4 2071.0L1572.2 2071.2L1573.0 2070.9L1573.8 2070.9L1574.6 2071.1L1575.4 2071.1L1576.2 2070.9L1577.0 2070.7L1577.8 2070.9L1578.6 2070.6L1579.4 2070.7L1580.2 2072.4L1581.0 2071.1L1581.8 2071.0L1582.6 2072.4L1583.4 2070.9L1584.2 2070.8L1585.0 2070.9L1585.8 2070.9L1586.6 2070.6L1587.4 2070.8L1588.2 2070.9L1589.0 2070.6L1589.8 2070.7L1590.6 2070.6L1591.4 2071.0L1592.2 2070.8L1593.0 2070.7L1593.8 2070.9L1594.6 2070.5L1595.4 2070.6L1596.2 2072.3L1597.0 2070.6L1597.8 2070.5L1598.6 2070.7L1599.4 2070.9L1600.2 2070.8L1601.0 2070.7L1601.8 2070.6L1602.6 2070.5L1603.4 2070.7L1604.2 2070.4L1605.0 2070.4L1605.8 2070.6L1606.6 2070.5L1607.4 2070.4L1608.2 2070.8L1609.0 2070.5L1609.8 2069.0L1610.6 2070.4L1611.4 2070.7L1612.2 2070.5L1613.0 2073.1L1613.8 2070.5L1614.6 2070.7L1615.4 2069.2L1616.2 2075.2L1617.0 2072.3L1617.8 2069.0L1618.6 2072.8L1619.4 2070.8L1620.2 2069.4L1621.0 2069.3L1621.8 2072.6L1622.6 2069.4L1623.4 2072.9L1624.2 2069.9L1625.0 2078.4L1625.8 2068.1L1626.6 2068.3L1627.4 2069.0L1628.2 2072.8L1629.0 2068.6L1629.8 2073.3L1630.6 2072.2L1631.4 2075.8L1632.2 2068.2L1633.0 2070.3L1633.8 2072.4L1634.6 2070.3L1635.4 2070.3L1636.2 2070.1L1637.0 2070.4L1637.8 2070.4L1638.6 2070.1L1639.4 2070.1L1640.2 2070.5L1641.0 2070.1L1641.8 2070.3L1642.6 2070.1L1643.4 2070.5L1644.2 2070.1L1645.0 2070.2L1645.8 2070.0L1646.6 2070.1L1647.4 2070.3L1648.2 2070.4L1649.0 2070.2L1649.8 2070.3L1650.6 2070.0L1651.4 2072.0L1652.2 2070.0L1653.0 2070.0L1653.8 2070.3L1654.6 2070.2L1655.4 2070.3L1656.2 2070.1L1657.0 2070.2L1657.8 2070.2L1658.6 2070.1L1659.4 2070.3L1660.2 2070.3L1661.0 2069.8L1661.8 2070.0L1662.6 2068.9L1663.4 2070.1L1664.2 2069.9L1665.0 2070.0L1665.8 2069.9L1666.6 2070.0L1667.4 2070.8L1668.2 2069.8L1669.0 2069.8L1669.8 2070.0L1670.6 2069.8L1671.4 2070.1L1672.2 2069.9L1673.0 2069.9L1673.8 2069.8L1674.6 2069.8L1675.4 2069.7L1676.2 2070.1L1677.0 2069.8L1677.8 2070.0L1678.6 2069.7L1679.4 2069.6L1680.2 2069.9L1681.0 2069.7L1681.8 2069.8L1682.6 2070.0L1683.4 2069.6L1684.2 2069.7L1685.0 2069.8L1685.8 2070.7L1686.6 2069.7L1687.4 2069.8L1688.2 2069.8L1689.0 2070.0L1689.8 2069.9L1690.6 2069.8L1691.4 2069.6L1692.2 2069.5L1693.0 2069.8L1693.8 2069.5L1694.6 2069.8L1695.4 2069.7L1696.2 2072.1L1697.0 2069.7L1697.8 2069.8L1698.6 2069.7L1699.4 2069.7L1700.2 2069.8L1701.0 2069.5L1701.8 2069.9L1702.6 2069.4L1703.4 2069.7L1704.2 2069.7L1705.0 2069.8L1705.8 2069.8L1706.6 2069.4L1707.4 2069.7L1708.2 2069.7L1709.0 2069.8L1709.8 2069.4L1710.6 2069.3L1711.4 2069.4L1712.2 2069.3L1713.0 2069.7L1713.8 2069.5L1714.6 2069.7L1715.4 2069.3L1716.2 2069.7L1717.0 2069.3L1717.8 2071.4L1718.6 2069.6L1719.4 2069.7L1720.2 2069.4L1721.0 2069.5L1721.8 2069.6L1722.6 2069.6L1723.4 2069.3L1724.2 2069.2L1725.0 2069.2L1725.8 2069.6L1726.6 2069.3L1727.4 2069.2L1728.2 2069.2L1729.0 2069.5" stroke="#ff0000"/>
</g>
</g>
<g id="axes">
<path d="M204.4 42.575V2470.925M1728.75 42.575V2470.925" fill="none" stroke="#000" stroke-width="4.05"/>
<path d="M202.375 44.25H1730.775M202.375 2469.25H1730.775" fill="none" stroke="#000" stroke-width="3.35"/>
<path d="M244.21 44.25v54.5M244.21 2469.25v-54.5M284.33 44.25v54.5M284.33 2469.25v-54.5M324.44 44.25v54.5M324.44 2469.25v-54.5M364.56 44.25v54.5M364.56 2469.25v-54.5M404.67 44.25v54.5M404.67 2469.25v-54.5M444.79 44.25v54.5M444.79 2469.25v-54.5M484.90 44.25v54.5M484.90 2469.25v-54.5M525.02 44.25v108.9M525.02 2469.25v-108.9M565.13 44.25v54.5M565.13 2469.25v-54.5M605.24 44.25v54.5M605.24 2469.25v-54.5M645.36 44.25v54.5M645.36 2469.25v-54.5M685.47 44.25v54.5M685.47 2469.25v-54.5M725.59 44.25v54.5M725.59 2469.25v-54.5M765.70 44.25v54.5M765.70 2469.25v-54.5M805.82 44.25v54.5M805.82 2469.25v-54.5M845.93 44.25v54.5M845.93 2469.25v-54.5M886.05 44.25v54.5M886.05 2469.25v-54.5M926.16 44.25v108.9M926.16 2469.25v-108.9M966.27 44.25v54.5M966.27 2469.25v-54.5M1006.39 44.25v54.5M1006.39 2469.25v-54.5M1046.50 44.25v54.5M1046.50 2469.25v-54.5M1086.62 44.25v54.5M1086.62 2469.25v-54.5M1126.73 44.25v54.5M1126.73 2469.25v-54.5M1166.85 44.25v54.5M1166.85 2469.25v-54.5M1206.96 44.25v54.5M1206.96 2469.25v-54.5M1247.08 44.25v54.5M1247.08 2469.25v-54.5M1287.19 44.25v54.5M1287.19 2469.25v-54.5M1327.31 44.25v108.9M1327.31 2469.25v-108.9M1367.42 44.25v54.5M1367.42 2469.25v-54.5M1407.53 44.25v54.5M1407.53 2469.25v-54.5M1447.65 44.25v54.5M1447.65 2469.25v-54.5M1487.76 44.25v54.5M1487.76 2469.25v-54.5M1527.88 44.25v54.5M1527.88 2469.25v-54.5M1567.99 44.25v54.5M1567.99 2469.25v-54.5M1608.11 44.25v54.5M1608.11 2469.25v-54.5M1648.22 44.25v54.5M1648.22 2469.25v-54.5M1688.34 44.25v54.5M1688.34 2469.25v-54.5" fill="none" stroke="#000" stroke-width="3.3"/>
</g>
<g id="labels">
<g font-size="77">
<text x="439.4" y="2588.8">1000</text>
<text x="840.4" y="2588.8">2000</text>
<text x="1241.4" y="2588.8">3000</text>
<text x="1642.4" y="2588.8">4000</text>
<text x="570.7" y="2725.5" font-size="77.3">wavenumber (cm<tspan font-size="62" dy="-28.6">–1</tspan><tspan dy="28.6">)</tspan></text>
<text transform="translate(100.7,1257.6) rotate(-90)" text-anchor="middle" font-size="77.5">Arbitrary intensity</text>
</g>
<g font-size="77.3">
<text y="519.2"><tspan class="b" x="1006.6">1</tspan><tspan x="1049.4">, gas phase</tspan></text>
<text y="922.7"><tspan class="b" x="1006.6">1</tspan><tspan x="1049.4">, crystal</tspan></text>
<text y="1449.9"><tspan class="b" x="1005.9">2</tspan><tspan x="1049.4">, gas phase</tspan></text>
<text y="2260"><tspan class="b" x="1005.9">2</tspan><tspan x="1049.4">, crystal</tspan></text>
<path fill="#fff" d="M1010.6 509.6h14.4v10.4h-14.4zM1036.5 509.6h13v10.4h-13zM1010.6 913.1h14.4v10.4h-14.4zM1036.5 913.1h13v10.4h-13z"/>
<text x="1528.5" y="1227">H<tspan font-size="62" dy="-28.6">BP1</tspan></text>
<text x="1528.5" y="1369.3">H<tspan font-size="62" dy="-28.6">BP2</tspan></text>
<text x="1528.5" y="2036.6">H<tspan font-size="62" dy="-28.6">BP1</tspan></text>
<text x="1528.5" y="2178.3">H<tspan font-size="62" dy="-28.6">BP2</tspan></text>
</g>

</g>
</svg>
</body>
</html>
